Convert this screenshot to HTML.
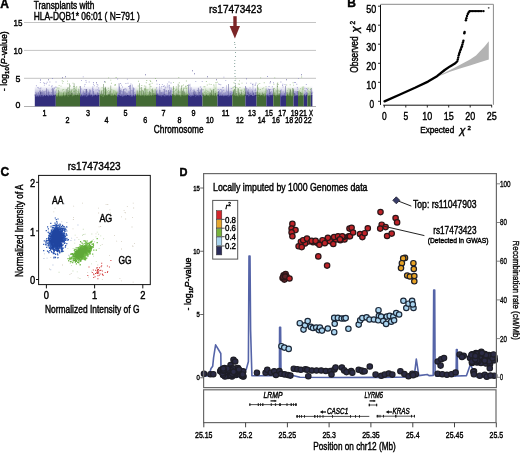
<!DOCTYPE html>
<html><head><meta charset="utf-8"><style>
html,body{margin:0;padding:0;background:#fff;}
svg{display:block;will-change:transform;}
text{font-family:"Liberation Sans", sans-serif;stroke:#000;stroke-width:0.42px;}
</style></head><body>
<svg width="520" height="453" viewBox="0 0 520 453" font-family='"Liberation Sans", sans-serif'>
<defs><linearGradient id="gb" x1="0" y1="1" x2="0" y2="0"><stop offset="0" stop-color="#322e7c" stop-opacity="0.55"/><stop offset="0.5" stop-color="#6a66b0" stop-opacity="0.3"/><stop offset="1" stop-color="#8a88c6" stop-opacity="0"/></linearGradient>
<linearGradient id="gg" x1="0" y1="1" x2="0" y2="0"><stop offset="0" stop-color="#436a35" stop-opacity="0.55"/><stop offset="0.5" stop-color="#6a9a58" stop-opacity="0.3"/><stop offset="1" stop-color="#8fb878" stop-opacity="0"/></linearGradient></defs>
<rect width="520" height="453" fill="#fff"/>
<g id="A">
<text x="0.3" y="8.3" font-size="12" text-anchor="start" font-weight="bold" font-style="normal" fill="#000">A</text>
<text x="33.8" y="9.0" font-size="10.2" text-anchor="start" font-weight="normal" font-style="normal" fill="#000" textLength="60.5" lengthAdjust="spacingAndGlyphs">Transplants with</text>
<text x="33.8" y="20.4" font-size="10.2" text-anchor="start" font-weight="normal" font-style="normal" fill="#000" textLength="106" lengthAdjust="spacingAndGlyphs">HLA-DQB1* 06:01 ( N=791 )</text>
<line x1="24" y1="22.5" x2="316" y2="22.5" stroke="#c4c4c4" stroke-width="1"/>
<line x1="24" y1="50.4" x2="316" y2="50.4" stroke="#c4c4c4" stroke-width="1"/>
<line x1="24" y1="78.3" x2="316" y2="78.3" stroke="#c4c4c4" stroke-width="1"/>
<line x1="24" y1="106.5" x2="316" y2="106.5" stroke="#b0b0b0" stroke-width="1"/>
<text x="17.9" y="26.0" font-size="9.6" text-anchor="middle" font-weight="normal" font-style="normal" fill="#000" textLength="8.9" lengthAdjust="spacingAndGlyphs">15</text>
<text x="17.9" y="54.0" font-size="9.6" text-anchor="middle" font-weight="normal" font-style="normal" fill="#000" textLength="8.9" lengthAdjust="spacingAndGlyphs">10</text>
<text x="18.0" y="81.5" font-size="9.6" text-anchor="middle" font-weight="normal" font-style="normal" fill="#000" textLength="4.9" lengthAdjust="spacingAndGlyphs">5</text>
<text x="18.0" y="108.2" font-size="9.6" text-anchor="middle" font-weight="normal" font-style="normal" fill="#000" textLength="4.9" lengthAdjust="spacingAndGlyphs">0</text>
<text transform="translate(6.8,61.2) rotate(-90)" font-size="8.8" text-anchor="middle" textLength="60" lengthAdjust="spacingAndGlyphs">- log<tspan font-size="6" dy="2">10</tspan><tspan dy="-2">(</tspan><tspan font-style="italic">P</tspan>-value)</text>
<rect x="34.8" y="95" width="21.00" height="11.3" fill="#322e7c"/>
<rect x="34.8" y="86" width="21.00" height="9.2" fill="url(#gb)"/>
<rect x="55.8" y="95" width="24.20" height="11.3" fill="#436a35"/>
<rect x="55.8" y="86" width="24.20" height="9.2" fill="url(#gg)"/>
<rect x="80" y="95" width="19.50" height="11.3" fill="#322e7c"/>
<rect x="80" y="86" width="19.50" height="9.2" fill="url(#gb)"/>
<rect x="99.5" y="95" width="17.50" height="11.3" fill="#436a35"/>
<rect x="99.5" y="86" width="17.50" height="9.2" fill="url(#gg)"/>
<rect x="117" y="95" width="19.00" height="11.3" fill="#322e7c"/>
<rect x="117" y="86" width="19.00" height="9.2" fill="url(#gb)"/>
<rect x="136" y="95" width="20.00" height="11.3" fill="#436a35"/>
<rect x="136" y="86" width="20.00" height="9.2" fill="url(#gg)"/>
<rect x="156" y="95" width="16.00" height="11.3" fill="#322e7c"/>
<rect x="156" y="86" width="16.00" height="9.2" fill="url(#gb)"/>
<rect x="172" y="95" width="16.00" height="11.3" fill="#436a35"/>
<rect x="172" y="86" width="16.00" height="9.2" fill="url(#gg)"/>
<rect x="188" y="95" width="14.50" height="11.3" fill="#322e7c"/>
<rect x="188" y="86" width="14.50" height="9.2" fill="url(#gb)"/>
<rect x="202.5" y="95" width="15.00" height="11.3" fill="#436a35"/>
<rect x="202.5" y="86" width="15.00" height="9.2" fill="url(#gg)"/>
<rect x="217.5" y="95" width="14.80" height="11.3" fill="#322e7c"/>
<rect x="217.5" y="86" width="14.80" height="9.2" fill="url(#gb)"/>
<rect x="232.3" y="95" width="13.10" height="11.3" fill="#436a35"/>
<rect x="232.3" y="86" width="13.10" height="9.2" fill="url(#gg)"/>
<rect x="245.4" y="95" width="11.20" height="11.3" fill="#322e7c"/>
<rect x="245.4" y="86" width="11.20" height="9.2" fill="url(#gb)"/>
<rect x="256.6" y="95" width="9.70" height="11.3" fill="#436a35"/>
<rect x="256.6" y="86" width="9.70" height="9.2" fill="url(#gg)"/>
<rect x="266.3" y="95" width="7.00" height="11.3" fill="#322e7c"/>
<rect x="266.3" y="86" width="7.00" height="9.2" fill="url(#gb)"/>
<rect x="273.3" y="95" width="6.90" height="11.3" fill="#436a35"/>
<rect x="273.3" y="86" width="6.90" height="9.2" fill="url(#gg)"/>
<rect x="280.2" y="95" width="5.80" height="11.3" fill="#322e7c"/>
<rect x="280.2" y="86" width="5.80" height="9.2" fill="url(#gb)"/>
<rect x="286" y="95" width="7.50" height="11.3" fill="#436a35"/>
<rect x="286" y="86" width="7.50" height="9.2" fill="url(#gg)"/>
<rect x="293.5" y="95" width="4.50" height="11.3" fill="#322e7c"/>
<rect x="293.5" y="86" width="4.50" height="9.2" fill="url(#gb)"/>
<rect x="298" y="95" width="5.80" height="11.3" fill="#436a35"/>
<rect x="298" y="86" width="5.80" height="9.2" fill="url(#gg)"/>
<rect x="303.8" y="95" width="3.50" height="11.3" fill="#322e7c"/>
<rect x="303.8" y="86" width="3.50" height="9.2" fill="url(#gb)"/>
<rect x="307.3" y="95" width="3.50" height="11.3" fill="#436a35"/>
<rect x="307.3" y="86" width="3.50" height="9.2" fill="url(#gg)"/>
<rect x="310.8" y="95" width="1.60" height="11.3" fill="#322e7c"/>
<rect x="310.8" y="86" width="1.60" height="9.2" fill="url(#gb)"/>
<path d="M34.80 94.0h0.6v1.8h-0.6zM36.33 93.4h0.6v2.4h-0.6zM37.93 92.4h0.6v3.4h-0.6zM39.29 94.8h0.6v1.0h-0.6zM39.77 89.5h0.6v6.3h-0.6zM40.42 91.8h0.6v4.0h-0.6zM41.05 95.1h0.6v0.7h-0.6zM41.48 91.4h0.6v4.4h-0.6zM41.96 92.3h0.6v3.5h-0.6zM43.72 90.9h0.6v4.9h-0.6zM44.60 94.9h0.6v0.9h-0.6zM45.36 94.7h0.6v1.1h-0.6zM46.33 88.2h0.6v7.6h-0.6zM48.20 91.6h0.6v4.2h-0.6zM49.71 94.2h0.6v1.6h-0.6zM50.42 95.2h0.6v0.6h-0.6zM50.82 94.9h0.6v0.9h-0.6zM51.58 94.8h0.6v1.0h-0.6zM52.11 88.3h0.6v7.5h-0.6zM53.47 88.5h0.6v7.3h-0.6zM54.90 94.7h0.6v1.1h-0.6zM55.34 94.4h0.6v1.4h-0.6zM80.00 85.9h0.6v9.9h-0.6zM81.15 94.2h0.6v1.6h-0.6zM83.61 91.2h0.6v4.6h-0.6zM84.45 93.0h0.6v2.8h-0.6zM84.75 93.0h0.6v2.8h-0.6zM85.23 94.8h0.6v1.0h-0.6zM85.72 89.1h0.6v6.7h-0.6zM86.47 89.1h0.6v6.7h-0.6zM87.80 93.7h0.6v2.1h-0.6zM88.70 92.3h0.6v3.5h-0.6zM89.26 94.2h0.6v1.6h-0.6zM89.62 89.2h0.6v6.6h-0.6zM90.48 94.3h0.6v1.5h-0.6zM91.09 94.6h0.6v1.2h-0.6zM93.27 91.0h0.6v4.8h-0.6zM94.69 94.2h0.6v1.6h-0.6zM95.55 94.8h0.6v1.0h-0.6zM97.42 92.5h0.6v3.3h-0.6zM97.82 94.7h0.6v1.1h-0.6zM98.67 93.0h0.6v2.8h-0.6zM117.88 94.6h0.6v1.2h-0.6zM118.75 83.3h0.6v12.5h-0.6zM119.08 86.4h0.6v9.4h-0.6zM120.32 90.1h0.6v5.7h-0.6zM121.27 94.5h0.6v1.3h-0.6zM121.88 93.7h0.6v2.1h-0.6zM122.98 89.1h0.6v6.7h-0.6zM124.67 91.6h0.6v4.2h-0.6zM126.60 93.2h0.6v2.6h-0.6zM127.18 94.9h0.6v0.9h-0.6zM127.74 95.0h0.6v0.8h-0.6zM129.83 85.1h0.6v10.7h-0.6zM133.16 87.6h0.6v8.2h-0.6zM134.80 94.5h0.6v1.3h-0.6zM135.41 94.0h0.6v1.8h-0.6zM156.00 90.4h0.6v5.4h-0.6zM156.89 93.8h0.6v2.0h-0.6zM157.36 93.6h0.6v2.2h-0.6zM158.42 94.3h0.6v1.5h-0.6zM159.59 89.8h0.6v6.0h-0.6zM160.81 91.9h0.6v3.9h-0.6zM162.75 93.2h0.6v2.6h-0.6zM163.89 88.8h0.6v7.0h-0.6zM164.41 94.3h0.6v1.5h-0.6zM165.29 94.3h0.6v1.5h-0.6zM168.23 90.1h0.6v5.7h-0.6zM169.03 91.9h0.6v3.9h-0.6zM169.79 94.9h0.6v0.9h-0.6zM170.23 90.2h0.6v5.6h-0.6zM188.00 84.4h0.6v11.4h-0.6zM189.34 93.6h0.6v2.2h-0.6zM190.17 95.2h0.6v0.6h-0.6zM193.41 91.5h0.6v4.3h-0.6zM194.06 90.5h0.6v5.3h-0.6zM194.56 94.3h0.6v1.5h-0.6zM195.14 94.7h0.6v1.1h-0.6zM195.53 91.5h0.6v4.3h-0.6zM196.26 94.6h0.6v1.2h-0.6zM197.94 87.8h0.6v8.0h-0.6zM199.31 91.9h0.6v3.9h-0.6zM199.81 89.4h0.6v6.4h-0.6zM200.49 94.8h0.6v1.0h-0.6zM201.21 88.3h0.6v7.5h-0.6zM201.76 94.7h0.6v1.1h-0.6zM217.50 93.7h0.6v2.1h-0.6zM218.07 90.9h0.6v4.9h-0.6zM218.61 92.5h0.6v3.3h-0.6zM219.70 93.3h0.6v2.5h-0.6zM222.20 94.5h0.6v1.3h-0.6zM223.05 95.3h0.6v0.5h-0.6zM226.72 94.9h0.6v0.9h-0.6zM228.09 84.0h0.6v11.8h-0.6zM230.36 92.9h0.6v2.9h-0.6zM245.40 86.0h0.6v9.8h-0.6zM245.88 88.0h0.6v7.8h-0.6zM247.15 90.4h0.6v5.4h-0.6zM247.85 92.2h0.6v3.6h-0.6zM248.61 89.3h0.6v6.5h-0.6zM249.08 93.8h0.6v2.0h-0.6zM249.42 94.2h0.6v1.6h-0.6zM250.14 93.3h0.6v2.5h-0.6zM250.63 93.2h0.6v2.6h-0.6zM251.03 95.0h0.6v0.8h-0.6zM251.93 90.6h0.6v5.2h-0.6zM253.02 93.0h0.6v2.8h-0.6zM253.44 92.6h0.6v3.2h-0.6zM255.15 91.7h0.6v4.1h-0.6zM255.60 94.8h0.6v1.0h-0.6zM267.32 93.9h0.6v1.9h-0.6zM268.95 93.6h0.6v2.2h-0.6zM269.35 89.0h0.6v6.8h-0.6zM270.17 92.1h0.6v3.7h-0.6zM271.32 95.1h0.6v0.7h-0.6zM272.37 93.8h0.6v2.0h-0.6zM280.20 90.3h0.6v5.5h-0.6zM284.41 93.2h0.6v2.6h-0.6zM285.02 85.7h0.6v10.1h-0.6zM293.50 90.8h0.6v5.0h-0.6zM293.91 94.3h0.6v1.5h-0.6zM294.23 92.9h0.6v2.9h-0.6zM294.87 93.8h0.6v2.0h-0.6zM297.03 91.0h0.6v4.8h-0.6zM304.26 94.0h0.6v1.8h-0.6zM305.88 94.5h0.6v1.3h-0.6zM306.66 92.0h0.6v3.8h-0.6zM306.98 93.3h0.6v2.5h-0.6zM310.80 88.3h0.6v7.5h-0.6zM311.30 92.8h0.6v3.0h-0.6z" fill="#322e7c" opacity="0.7"/>
<path d="M35.49 95.0h0.6v0.8h-0.6zM36.01 95.1h0.6v0.7h-0.6zM36.69 93.4h0.6v2.4h-0.6zM37.06 94.4h0.6v1.4h-0.6zM38.82 95.1h0.6v0.7h-0.6zM42.44 89.9h0.6v5.9h-0.6zM42.89 92.4h0.6v3.4h-0.6zM45.68 91.5h0.6v4.3h-0.6zM47.04 92.2h0.6v3.6h-0.6zM47.62 89.1h0.6v6.7h-0.6zM48.92 91.8h0.6v4.0h-0.6zM52.68 92.6h0.6v3.2h-0.6zM54.02 93.8h0.6v2.0h-0.6zM40.32 95.5h1.0v1.0h-1.0zM43.60 93.4h1.0v1.0h-1.0zM46.69 81.7h1.0v1.0h-1.0zM49.30 92.2h1.0v1.0h-1.0zM47.77 90.4h1.0v1.0h-1.0zM35.93 85.2h1.0v1.0h-1.0zM51.18 86.2h1.0v1.0h-1.0zM51.56 93.3h1.0v1.0h-1.0zM43.18 95.0h1.0v1.0h-1.0zM48.12 95.2h1.0v1.0h-1.0zM36.21 94.4h1.0v1.0h-1.0zM38.21 93.6h1.0v1.0h-1.0zM35.90 95.5h1.0v1.0h-1.0zM37.98 95.0h1.0v1.0h-1.0zM42.44 95.4h1.0v1.0h-1.0zM53.16 91.2h1.0v1.0h-1.0zM37.92 94.2h1.0v1.0h-1.0zM42.10 93.5h1.0v1.0h-1.0zM37.38 87.0h1.0v1.0h-1.0zM55.66 92.7h1.0v1.0h-1.0zM44.96 95.1h1.0v1.0h-1.0zM36.95 93.6h1.0v1.0h-1.0zM40.36 87.6h1.0v1.0h-1.0zM38.19 95.4h1.0v1.0h-1.0zM54.77 92.1h1.0v1.0h-1.0zM37.88 92.0h1.0v1.0h-1.0zM35.37 92.1h1.0v1.0h-1.0zM55.35 86.5h1.0v1.0h-1.0zM49.42 94.1h1.0v1.0h-1.0zM42.50 94.7h1.0v1.0h-1.0zM51.01 92.1h1.0v1.0h-1.0zM51.16 93.7h1.0v1.0h-1.0zM39.48 88.0h1.0v1.0h-1.0zM55.48 86.9h1.0v1.0h-1.0zM51.73 87.8h1.0v1.0h-1.0zM50.34 94.3h1.0v1.0h-1.0zM45.67 93.5h1.0v1.0h-1.0zM35.41 95.4h1.0v1.0h-1.0zM40.67 94.2h1.0v1.0h-1.0zM49.34 81.4h1.0v1.0h-1.0zM44.19 83.1h1.0v1.0h-1.0zM55.55 81.5h1.0v1.0h-1.0zM42.46 94.4h1.0v1.0h-1.0zM39.56 94.5h1.0v1.0h-1.0zM39.09 91.1h1.0v1.0h-1.0zM53.71 87.2h1.0v1.0h-1.0zM44.87 90.7h1.0v1.0h-1.0zM51.59 95.1h1.0v1.0h-1.0zM48.67 84.7h1.0v1.0h-1.0zM51.23 89.3h1.0v1.0h-1.0zM44.84 94.6h1.0v1.0h-1.0zM51.37 93.7h1.0v1.0h-1.0zM51.62 85.2h1.0v1.0h-1.0zM43.23 82.3h1.0v1.0h-1.0zM50.02 94.7h1.0v1.0h-1.0zM37.47 94.8h1.0v1.0h-1.0zM53.80 88.1h1.0v1.0h-1.0zM37.87 87.6h1.0v1.0h-1.0zM55.39 90.7h1.0v1.0h-1.0zM42.16 91.9h1.0v1.0h-1.0zM37.55 95.4h1.0v1.0h-1.0zM55.19 90.8h1.0v1.0h-1.0zM45.86 83.3h1.0v1.0h-1.0zM80.58 89.5h0.6v6.3h-0.6zM82.01 94.5h0.6v1.3h-0.6zM82.40 92.8h0.6v3.0h-0.6zM82.78 89.5h0.6v6.3h-0.6zM87.33 91.1h0.6v4.7h-0.6zM91.96 88.0h0.6v7.8h-0.6zM92.64 87.0h0.6v8.8h-0.6zM94.01 93.3h0.6v2.5h-0.6zM96.06 94.1h0.6v1.7h-0.6zM96.94 94.3h0.6v1.5h-0.6zM99.43 92.8h1.0v1.0h-1.0zM82.72 94.5h1.0v1.0h-1.0zM81.77 93.6h1.0v1.0h-1.0zM81.78 94.3h1.0v1.0h-1.0zM85.04 91.7h1.0v1.0h-1.0zM97.30 89.3h1.0v1.0h-1.0zM88.05 93.1h1.0v1.0h-1.0zM90.22 93.4h1.0v1.0h-1.0zM86.59 95.2h1.0v1.0h-1.0zM85.41 80.1h1.0v1.0h-1.0zM82.45 92.4h1.0v1.0h-1.0zM92.28 86.6h1.0v1.0h-1.0zM84.21 94.1h1.0v1.0h-1.0zM84.84 93.2h1.0v1.0h-1.0zM88.69 81.6h1.0v1.0h-1.0zM96.55 86.2h1.0v1.0h-1.0zM80.43 95.4h1.0v1.0h-1.0zM93.84 85.3h1.0v1.0h-1.0zM89.23 91.5h1.0v1.0h-1.0zM80.00 93.3h1.0v1.0h-1.0zM98.07 87.6h1.0v1.0h-1.0zM96.68 84.0h1.0v1.0h-1.0zM82.13 94.7h1.0v1.0h-1.0zM90.19 90.3h1.0v1.0h-1.0zM98.36 89.7h1.0v1.0h-1.0zM92.62 89.0h1.0v1.0h-1.0zM88.92 91.9h1.0v1.0h-1.0zM80.77 88.6h1.0v1.0h-1.0zM84.54 84.1h1.0v1.0h-1.0zM92.59 93.9h1.0v1.0h-1.0zM82.50 94.2h1.0v1.0h-1.0zM92.41 90.1h1.0v1.0h-1.0zM82.19 95.2h1.0v1.0h-1.0zM90.23 91.6h1.0v1.0h-1.0zM87.57 94.4h1.0v1.0h-1.0zM91.72 95.5h1.0v1.0h-1.0zM85.88 92.7h1.0v1.0h-1.0zM98.70 90.8h1.0v1.0h-1.0zM97.23 92.6h1.0v1.0h-1.0zM84.58 94.2h1.0v1.0h-1.0zM98.73 90.0h1.0v1.0h-1.0zM85.99 95.4h1.0v1.0h-1.0zM89.72 90.4h1.0v1.0h-1.0zM88.19 94.2h1.0v1.0h-1.0zM93.01 83.8h1.0v1.0h-1.0zM84.42 95.3h1.0v1.0h-1.0zM86.59 93.0h1.0v1.0h-1.0zM93.31 94.5h1.0v1.0h-1.0zM95.54 89.5h1.0v1.0h-1.0zM89.85 94.5h1.0v1.0h-1.0zM98.91 93.8h1.0v1.0h-1.0zM95.99 94.3h1.0v1.0h-1.0zM84.32 89.1h1.0v1.0h-1.0zM85.75 81.8h1.0v1.0h-1.0zM89.67 94.6h1.0v1.0h-1.0zM84.35 93.1h1.0v1.0h-1.0zM92.97 82.1h1.0v1.0h-1.0zM82.85 93.3h1.0v1.0h-1.0zM117.00 93.0h0.6v2.8h-0.6zM119.92 92.0h0.6v3.8h-0.6zM120.86 88.9h0.6v6.9h-0.6zM122.33 90.9h0.6v4.9h-0.6zM122.65 92.5h0.6v3.3h-0.6zM123.64 92.6h0.6v3.2h-0.6zM124.12 93.4h0.6v2.4h-0.6zM125.24 95.2h0.6v0.6h-0.6zM125.83 94.4h0.6v1.4h-0.6zM128.35 95.2h0.6v0.6h-0.6zM128.70 90.8h0.6v5.0h-0.6zM129.30 95.1h0.6v0.7h-0.6zM130.64 83.3h0.6v12.5h-0.6zM131.43 94.6h0.6v1.2h-0.6zM132.03 84.6h0.6v11.2h-0.6zM132.43 90.0h0.6v5.8h-0.6zM132.77 93.8h0.6v2.0h-0.6zM133.95 94.8h0.6v1.0h-0.6zM120.06 83.1h1.0v1.0h-1.0zM129.91 85.3h1.0v1.0h-1.0zM120.21 88.6h1.0v1.0h-1.0zM119.19 92.1h1.0v1.0h-1.0zM129.09 93.5h1.0v1.0h-1.0zM133.59 91.9h1.0v1.0h-1.0zM128.02 85.9h1.0v1.0h-1.0zM118.99 87.0h1.0v1.0h-1.0zM124.49 88.3h1.0v1.0h-1.0zM122.03 86.6h1.0v1.0h-1.0zM123.84 89.0h1.0v1.0h-1.0zM125.40 94.6h1.0v1.0h-1.0zM131.13 95.3h1.0v1.0h-1.0zM132.58 94.2h1.0v1.0h-1.0zM129.15 86.7h1.0v1.0h-1.0zM129.61 93.8h1.0v1.0h-1.0zM117.03 95.3h1.0v1.0h-1.0zM119.84 91.2h1.0v1.0h-1.0zM125.21 92.3h1.0v1.0h-1.0zM134.02 94.9h1.0v1.0h-1.0zM121.32 90.7h1.0v1.0h-1.0zM117.42 95.5h1.0v1.0h-1.0zM123.74 95.0h1.0v1.0h-1.0zM123.79 94.4h1.0v1.0h-1.0zM128.09 91.5h1.0v1.0h-1.0zM120.88 91.1h1.0v1.0h-1.0zM126.02 94.8h1.0v1.0h-1.0zM134.80 94.2h1.0v1.0h-1.0zM119.84 95.0h1.0v1.0h-1.0zM129.13 86.3h1.0v1.0h-1.0zM131.86 93.2h1.0v1.0h-1.0zM122.02 95.4h1.0v1.0h-1.0zM129.25 91.8h1.0v1.0h-1.0zM123.66 90.8h1.0v1.0h-1.0zM125.43 83.0h1.0v1.0h-1.0zM130.94 94.2h1.0v1.0h-1.0zM134.17 95.3h1.0v1.0h-1.0zM127.10 93.2h1.0v1.0h-1.0zM121.52 95.2h1.0v1.0h-1.0zM131.80 95.4h1.0v1.0h-1.0zM127.47 82.8h1.0v1.0h-1.0zM119.70 94.5h1.0v1.0h-1.0zM128.55 92.3h1.0v1.0h-1.0zM129.19 87.9h1.0v1.0h-1.0zM120.32 93.8h1.0v1.0h-1.0zM122.71 95.3h1.0v1.0h-1.0zM133.90 88.6h1.0v1.0h-1.0zM130.59 95.5h1.0v1.0h-1.0zM133.04 89.3h1.0v1.0h-1.0zM125.84 89.4h1.0v1.0h-1.0zM125.60 94.3h1.0v1.0h-1.0zM119.00 94.3h1.0v1.0h-1.0zM117.74 93.7h1.0v1.0h-1.0zM131.24 90.2h1.0v1.0h-1.0zM133.06 89.9h1.0v1.0h-1.0zM122.05 91.9h1.0v1.0h-1.0zM125.29 88.5h1.0v1.0h-1.0zM157.91 93.4h0.6v2.4h-0.6zM159.16 85.7h0.6v10.1h-0.6zM160.02 94.8h0.6v1.0h-0.6zM161.44 94.4h0.6v1.4h-0.6zM161.96 91.8h0.6v4.0h-0.6zM163.37 94.8h0.6v1.0h-0.6zM164.82 95.3h0.6v0.5h-0.6zM165.88 93.4h0.6v2.4h-0.6zM166.58 93.8h0.6v2.0h-0.6zM167.39 95.1h0.6v0.7h-0.6zM169.34 85.0h0.6v10.8h-0.6zM170.62 87.3h0.6v8.5h-0.6zM171.02 87.8h0.6v8.0h-0.6zM166.70 85.4h1.0v1.0h-1.0zM168.61 87.3h1.0v1.0h-1.0zM159.16 90.2h1.0v1.0h-1.0zM164.49 89.4h1.0v1.0h-1.0zM163.02 85.9h1.0v1.0h-1.0zM164.88 94.1h1.0v1.0h-1.0zM159.75 94.8h1.0v1.0h-1.0zM163.89 95.2h1.0v1.0h-1.0zM163.47 94.8h1.0v1.0h-1.0zM163.86 92.4h1.0v1.0h-1.0zM164.63 86.6h1.0v1.0h-1.0zM156.11 87.2h1.0v1.0h-1.0zM163.49 91.8h1.0v1.0h-1.0zM166.64 87.2h1.0v1.0h-1.0zM162.00 93.1h1.0v1.0h-1.0zM171.37 95.1h1.0v1.0h-1.0zM166.19 91.0h1.0v1.0h-1.0zM156.46 91.3h1.0v1.0h-1.0zM166.92 83.4h1.0v1.0h-1.0zM161.29 86.1h1.0v1.0h-1.0zM163.75 85.2h1.0v1.0h-1.0zM156.54 89.8h1.0v1.0h-1.0zM166.00 93.6h1.0v1.0h-1.0zM169.79 93.4h1.0v1.0h-1.0zM163.59 92.1h1.0v1.0h-1.0zM168.33 94.4h1.0v1.0h-1.0zM162.96 93.0h1.0v1.0h-1.0zM164.86 87.6h1.0v1.0h-1.0zM160.69 87.6h1.0v1.0h-1.0zM162.46 92.3h1.0v1.0h-1.0zM160.35 92.3h1.0v1.0h-1.0zM171.60 90.7h1.0v1.0h-1.0zM168.67 93.7h1.0v1.0h-1.0zM161.07 93.9h1.0v1.0h-1.0zM165.38 91.0h1.0v1.0h-1.0zM168.55 95.3h1.0v1.0h-1.0zM167.56 85.7h1.0v1.0h-1.0zM164.73 95.3h1.0v1.0h-1.0zM160.81 95.5h1.0v1.0h-1.0zM159.04 84.1h1.0v1.0h-1.0zM165.74 90.7h1.0v1.0h-1.0zM168.62 84.7h1.0v1.0h-1.0zM165.79 91.2h1.0v1.0h-1.0zM166.03 90.1h1.0v1.0h-1.0zM165.54 90.4h1.0v1.0h-1.0zM159.40 90.6h1.0v1.0h-1.0zM163.33 89.0h1.0v1.0h-1.0zM157.62 94.6h1.0v1.0h-1.0zM188.64 91.8h0.6v4.0h-0.6zM189.74 83.8h0.6v12.0h-0.6zM190.68 87.4h0.6v8.4h-0.6zM191.48 95.1h0.6v0.7h-0.6zM192.21 91.8h0.6v4.0h-0.6zM192.54 94.8h0.6v1.0h-0.6zM197.12 94.5h0.6v1.3h-0.6zM198.51 95.0h0.6v0.8h-0.6zM200.83 91.0h0.6v4.8h-0.6zM192.85 94.7h1.0v1.0h-1.0zM195.12 93.8h1.0v1.0h-1.0zM201.10 95.0h1.0v1.0h-1.0zM202.19 95.2h1.0v1.0h-1.0zM200.98 90.5h1.0v1.0h-1.0zM191.06 92.6h1.0v1.0h-1.0zM192.15 94.2h1.0v1.0h-1.0zM190.92 93.5h1.0v1.0h-1.0zM202.37 89.4h1.0v1.0h-1.0zM189.41 94.0h1.0v1.0h-1.0zM200.99 95.2h1.0v1.0h-1.0zM198.53 93.9h1.0v1.0h-1.0zM202.19 95.4h1.0v1.0h-1.0zM199.70 93.6h1.0v1.0h-1.0zM190.03 95.5h1.0v1.0h-1.0zM200.07 92.1h1.0v1.0h-1.0zM190.69 92.9h1.0v1.0h-1.0zM201.22 94.4h1.0v1.0h-1.0zM196.28 94.8h1.0v1.0h-1.0zM190.61 88.9h1.0v1.0h-1.0zM198.32 94.5h1.0v1.0h-1.0zM189.15 95.1h1.0v1.0h-1.0zM196.82 92.4h1.0v1.0h-1.0zM191.97 94.5h1.0v1.0h-1.0zM196.88 90.0h1.0v1.0h-1.0zM199.77 91.6h1.0v1.0h-1.0zM190.93 95.2h1.0v1.0h-1.0zM198.62 93.1h1.0v1.0h-1.0zM198.46 95.2h1.0v1.0h-1.0zM199.75 93.7h1.0v1.0h-1.0zM200.21 86.5h1.0v1.0h-1.0zM195.15 95.4h1.0v1.0h-1.0zM201.20 92.6h1.0v1.0h-1.0zM200.64 94.1h1.0v1.0h-1.0zM190.70 87.5h1.0v1.0h-1.0zM193.32 94.7h1.0v1.0h-1.0zM193.38 91.4h1.0v1.0h-1.0zM188.07 92.2h1.0v1.0h-1.0zM194.46 92.2h1.0v1.0h-1.0zM189.75 89.9h1.0v1.0h-1.0zM199.84 86.5h1.0v1.0h-1.0zM192.65 89.9h1.0v1.0h-1.0zM193.53 89.2h1.0v1.0h-1.0zM219.10 90.0h0.6v5.8h-0.6zM220.18 94.8h0.6v1.0h-0.6zM220.83 95.0h0.6v0.8h-0.6zM221.33 89.0h0.6v6.8h-0.6zM223.69 93.0h0.6v2.8h-0.6zM224.45 92.7h0.6v3.1h-0.6zM225.06 92.8h0.6v3.0h-0.6zM225.60 93.8h0.6v2.0h-0.6zM226.11 85.3h0.6v10.5h-0.6zM227.26 92.5h0.6v3.3h-0.6zM228.65 92.0h0.6v3.8h-0.6zM229.16 92.7h0.6v3.1h-0.6zM229.56 94.0h0.6v1.8h-0.6zM231.20 91.3h0.6v4.5h-0.6zM230.64 93.0h1.0v1.0h-1.0zM219.81 94.0h1.0v1.0h-1.0zM225.07 92.3h1.0v1.0h-1.0zM220.28 94.6h1.0v1.0h-1.0zM226.83 91.3h1.0v1.0h-1.0zM222.73 87.1h1.0v1.0h-1.0zM218.13 93.1h1.0v1.0h-1.0zM229.16 93.9h1.0v1.0h-1.0zM227.72 95.5h1.0v1.0h-1.0zM222.01 87.2h1.0v1.0h-1.0zM226.18 90.5h1.0v1.0h-1.0zM220.41 92.4h1.0v1.0h-1.0zM225.69 94.1h1.0v1.0h-1.0zM227.07 92.1h1.0v1.0h-1.0zM232.26 91.7h1.0v1.0h-1.0zM223.58 94.9h1.0v1.0h-1.0zM219.82 89.1h1.0v1.0h-1.0zM219.08 95.0h1.0v1.0h-1.0zM220.02 92.2h1.0v1.0h-1.0zM229.68 91.2h1.0v1.0h-1.0zM229.44 95.2h1.0v1.0h-1.0zM217.68 88.9h1.0v1.0h-1.0zM222.28 89.8h1.0v1.0h-1.0zM222.74 94.7h1.0v1.0h-1.0zM221.45 95.0h1.0v1.0h-1.0zM230.88 91.6h1.0v1.0h-1.0zM222.66 92.8h1.0v1.0h-1.0zM223.21 95.2h1.0v1.0h-1.0zM230.68 91.6h1.0v1.0h-1.0zM231.70 92.9h1.0v1.0h-1.0zM226.68 94.2h1.0v1.0h-1.0zM218.15 83.5h1.0v1.0h-1.0zM230.15 93.8h1.0v1.0h-1.0zM230.80 87.9h1.0v1.0h-1.0zM221.99 91.3h1.0v1.0h-1.0zM231.71 92.4h1.0v1.0h-1.0zM231.56 94.2h1.0v1.0h-1.0zM223.27 89.8h1.0v1.0h-1.0zM220.78 93.8h1.0v1.0h-1.0zM230.45 92.5h1.0v1.0h-1.0zM229.23 94.2h1.0v1.0h-1.0zM220.07 93.5h1.0v1.0h-1.0zM220.26 84.3h1.0v1.0h-1.0zM225.81 95.0h1.0v1.0h-1.0zM246.52 93.9h0.6v1.9h-0.6zM252.66 83.3h0.6v12.5h-0.6zM254.29 91.8h0.6v4.0h-0.6zM254.80 93.9h1.0v1.0h-1.0zM247.48 90.9h1.0v1.0h-1.0zM254.87 83.7h1.0v1.0h-1.0zM247.29 88.6h1.0v1.0h-1.0zM254.70 89.4h1.0v1.0h-1.0zM249.06 94.6h1.0v1.0h-1.0zM254.64 93.8h1.0v1.0h-1.0zM249.53 91.9h1.0v1.0h-1.0zM249.54 87.5h1.0v1.0h-1.0zM248.08 95.3h1.0v1.0h-1.0zM251.75 91.0h1.0v1.0h-1.0zM254.58 90.0h1.0v1.0h-1.0zM255.54 82.5h1.0v1.0h-1.0zM250.94 92.4h1.0v1.0h-1.0zM247.16 93.9h1.0v1.0h-1.0zM251.91 95.1h1.0v1.0h-1.0zM253.11 94.7h1.0v1.0h-1.0zM250.36 82.7h1.0v1.0h-1.0zM245.85 92.9h1.0v1.0h-1.0zM247.54 89.7h1.0v1.0h-1.0zM245.43 87.2h1.0v1.0h-1.0zM254.98 88.5h1.0v1.0h-1.0zM250.16 94.0h1.0v1.0h-1.0zM252.81 92.2h1.0v1.0h-1.0zM250.12 93.6h1.0v1.0h-1.0zM250.31 90.6h1.0v1.0h-1.0zM254.65 85.0h1.0v1.0h-1.0zM247.24 93.9h1.0v1.0h-1.0zM250.36 91.8h1.0v1.0h-1.0zM249.30 94.5h1.0v1.0h-1.0zM246.35 93.7h1.0v1.0h-1.0zM250.56 89.3h1.0v1.0h-1.0zM255.09 89.7h1.0v1.0h-1.0zM266.30 88.2h0.6v7.6h-0.6zM267.01 89.7h0.6v6.1h-0.6zM267.92 88.3h0.6v7.5h-0.6zM268.24 94.6h0.6v1.2h-0.6zM270.67 94.5h0.6v1.3h-0.6zM271.84 93.2h0.6v2.6h-0.6zM268.64 95.4h1.0v1.0h-1.0zM269.52 82.4h1.0v1.0h-1.0zM267.32 90.5h1.0v1.0h-1.0zM268.21 94.1h1.0v1.0h-1.0zM269.80 94.1h1.0v1.0h-1.0zM270.28 92.1h1.0v1.0h-1.0zM273.00 82.3h1.0v1.0h-1.0zM270.22 88.9h1.0v1.0h-1.0zM272.41 88.8h1.0v1.0h-1.0zM270.73 91.0h1.0v1.0h-1.0zM268.84 94.0h1.0v1.0h-1.0zM271.87 86.2h1.0v1.0h-1.0zM272.87 90.4h1.0v1.0h-1.0zM268.43 89.0h1.0v1.0h-1.0zM271.48 92.3h1.0v1.0h-1.0zM270.75 93.6h1.0v1.0h-1.0zM270.16 93.2h1.0v1.0h-1.0zM266.72 93.6h1.0v1.0h-1.0zM268.56 85.9h1.0v1.0h-1.0zM268.87 94.2h1.0v1.0h-1.0zM267.94 93.6h1.0v1.0h-1.0zM280.99 93.4h0.6v2.4h-0.6zM281.64 92.5h0.6v3.3h-0.6zM282.30 93.9h0.6v1.9h-0.6zM282.76 91.1h0.6v4.7h-0.6zM283.52 94.0h0.6v1.8h-0.6zM285.33 93.1h0.6v2.7h-0.6zM282.30 83.8h1.0v1.0h-1.0zM284.59 95.1h1.0v1.0h-1.0zM280.36 94.9h1.0v1.0h-1.0zM280.55 92.4h1.0v1.0h-1.0zM283.42 94.6h1.0v1.0h-1.0zM285.65 93.5h1.0v1.0h-1.0zM281.07 94.6h1.0v1.0h-1.0zM284.48 84.1h1.0v1.0h-1.0zM281.14 95.4h1.0v1.0h-1.0zM284.71 94.2h1.0v1.0h-1.0zM285.90 92.4h1.0v1.0h-1.0zM283.89 93.6h1.0v1.0h-1.0zM284.84 92.7h1.0v1.0h-1.0zM282.08 85.0h1.0v1.0h-1.0zM280.83 89.6h1.0v1.0h-1.0zM280.58 90.8h1.0v1.0h-1.0zM282.53 86.5h1.0v1.0h-1.0zM295.58 91.7h0.6v4.1h-0.6zM296.21 91.3h0.6v4.5h-0.6zM297.52 93.5h0.6v2.3h-0.6zM295.23 93.1h1.0v1.0h-1.0zM294.14 82.0h1.0v1.0h-1.0zM296.24 83.8h1.0v1.0h-1.0zM294.65 91.3h1.0v1.0h-1.0zM295.20 94.3h1.0v1.0h-1.0zM294.39 94.9h1.0v1.0h-1.0zM297.29 88.6h1.0v1.0h-1.0zM297.59 95.3h1.0v1.0h-1.0zM296.62 93.7h1.0v1.0h-1.0zM296.41 91.9h1.0v1.0h-1.0zM294.92 82.0h1.0v1.0h-1.0zM296.86 86.9h1.0v1.0h-1.0zM295.80 91.5h1.0v1.0h-1.0zM303.80 94.6h0.6v1.2h-0.6zM305.07 95.0h0.6v0.8h-0.6zM304.83 93.1h1.0v1.0h-1.0zM306.07 88.0h1.0v1.0h-1.0zM305.03 93.3h1.0v1.0h-1.0zM305.83 83.9h1.0v1.0h-1.0zM304.47 87.7h1.0v1.0h-1.0zM305.10 90.6h1.0v1.0h-1.0zM304.95 95.2h1.0v1.0h-1.0zM306.45 93.4h1.0v1.0h-1.0zM305.64 92.4h1.0v1.0h-1.0zM306.95 89.1h1.0v1.0h-1.0zM311.24 94.1h1.0v1.0h-1.0zM311.30 94.2h1.0v1.0h-1.0zM312.17 91.8h1.0v1.0h-1.0zM311.62 93.0h1.0v1.0h-1.0z" fill="#8a88c6" opacity="0.7"/>
<path d="M55.80 94.8h0.6v1.0h-0.6zM56.31 93.2h0.6v2.6h-0.6zM57.15 93.4h0.6v2.4h-0.6zM57.76 92.7h0.6v3.1h-0.6zM58.95 90.9h0.6v4.9h-0.6zM59.45 92.8h0.6v3.0h-0.6zM60.22 94.9h0.6v0.9h-0.6zM60.67 94.2h0.6v1.6h-0.6zM61.27 92.5h0.6v3.3h-0.6zM62.12 93.3h0.6v2.5h-0.6zM62.72 92.9h0.6v2.9h-0.6zM64.16 91.2h0.6v4.6h-0.6zM65.03 94.3h0.6v1.5h-0.6zM66.71 95.0h0.6v0.8h-0.6zM71.78 94.0h0.6v1.8h-0.6zM72.40 93.9h0.6v1.9h-0.6zM73.01 95.1h0.6v0.7h-0.6zM74.24 95.2h0.6v0.6h-0.6zM75.94 86.7h0.6v9.1h-0.6zM78.24 91.9h0.6v3.9h-0.6zM78.23 94.1h1.0v1.0h-1.0zM58.93 92.1h1.0v1.0h-1.0zM61.57 95.0h1.0v1.0h-1.0zM59.71 95.3h1.0v1.0h-1.0zM60.68 93.8h1.0v1.0h-1.0zM63.18 89.1h1.0v1.0h-1.0zM62.82 92.4h1.0v1.0h-1.0zM60.11 93.6h1.0v1.0h-1.0zM56.24 94.2h1.0v1.0h-1.0zM56.17 89.6h1.0v1.0h-1.0zM69.14 94.6h1.0v1.0h-1.0zM67.29 83.2h1.0v1.0h-1.0zM58.37 87.8h1.0v1.0h-1.0zM66.26 92.4h1.0v1.0h-1.0zM76.00 93.3h1.0v1.0h-1.0zM68.06 90.3h1.0v1.0h-1.0zM79.58 93.6h1.0v1.0h-1.0zM75.94 90.0h1.0v1.0h-1.0zM71.19 93.2h1.0v1.0h-1.0zM64.21 95.2h1.0v1.0h-1.0zM58.94 95.2h1.0v1.0h-1.0zM73.73 94.2h1.0v1.0h-1.0zM59.75 95.1h1.0v1.0h-1.0zM76.16 86.3h1.0v1.0h-1.0zM72.03 94.0h1.0v1.0h-1.0zM61.66 93.9h1.0v1.0h-1.0zM66.92 94.7h1.0v1.0h-1.0zM66.59 94.1h1.0v1.0h-1.0zM79.08 86.4h1.0v1.0h-1.0zM61.72 80.3h1.0v1.0h-1.0zM63.29 93.5h1.0v1.0h-1.0zM55.83 93.3h1.0v1.0h-1.0zM67.29 92.4h1.0v1.0h-1.0zM60.66 92.3h1.0v1.0h-1.0zM55.92 94.1h1.0v1.0h-1.0zM57.97 93.2h1.0v1.0h-1.0zM56.81 95.4h1.0v1.0h-1.0zM63.16 94.3h1.0v1.0h-1.0zM69.97 92.1h1.0v1.0h-1.0zM73.96 90.7h1.0v1.0h-1.0zM73.13 86.0h1.0v1.0h-1.0zM65.23 93.7h1.0v1.0h-1.0zM79.63 94.8h1.0v1.0h-1.0zM73.32 90.9h1.0v1.0h-1.0zM56.86 87.4h1.0v1.0h-1.0zM77.39 91.1h1.0v1.0h-1.0zM73.56 88.0h1.0v1.0h-1.0zM59.17 92.2h1.0v1.0h-1.0zM68.01 87.4h1.0v1.0h-1.0zM75.27 87.6h1.0v1.0h-1.0zM69.93 85.4h1.0v1.0h-1.0zM72.33 90.2h1.0v1.0h-1.0zM61.36 95.4h1.0v1.0h-1.0zM59.02 93.5h1.0v1.0h-1.0zM58.34 87.4h1.0v1.0h-1.0zM69.32 91.1h1.0v1.0h-1.0zM70.95 90.4h1.0v1.0h-1.0zM67.64 95.5h1.0v1.0h-1.0zM75.10 89.3h1.0v1.0h-1.0zM67.97 92.1h1.0v1.0h-1.0zM71.76 95.2h1.0v1.0h-1.0zM73.63 94.2h1.0v1.0h-1.0zM57.60 94.1h1.0v1.0h-1.0zM73.45 94.5h1.0v1.0h-1.0zM73.70 86.0h1.0v1.0h-1.0zM65.06 92.6h1.0v1.0h-1.0zM72.35 88.9h1.0v1.0h-1.0zM70.73 90.9h1.0v1.0h-1.0zM57.67 94.8h1.0v1.0h-1.0zM61.95 89.4h1.0v1.0h-1.0zM63.17 91.7h1.0v1.0h-1.0zM56.10 95.2h1.0v1.0h-1.0zM99.50 90.8h0.6v5.0h-0.6zM102.89 93.8h0.6v2.0h-0.6zM103.77 89.4h0.6v6.4h-0.6zM105.92 89.6h0.6v6.2h-0.6zM107.10 94.3h0.6v1.5h-0.6zM109.84 90.5h0.6v5.3h-0.6zM110.97 93.1h0.6v2.7h-0.6zM112.40 93.0h0.6v2.8h-0.6zM112.81 89.8h0.6v6.0h-0.6zM113.60 90.3h0.6v5.5h-0.6zM114.96 84.1h1.0v1.0h-1.0zM100.97 95.0h1.0v1.0h-1.0zM108.22 89.9h1.0v1.0h-1.0zM107.32 94.3h1.0v1.0h-1.0zM106.79 91.1h1.0v1.0h-1.0zM111.30 89.3h1.0v1.0h-1.0zM114.32 90.6h1.0v1.0h-1.0zM101.62 87.2h1.0v1.0h-1.0zM104.64 91.7h1.0v1.0h-1.0zM106.03 89.5h1.0v1.0h-1.0zM102.99 94.2h1.0v1.0h-1.0zM103.79 94.8h1.0v1.0h-1.0zM114.97 91.6h1.0v1.0h-1.0zM105.21 93.2h1.0v1.0h-1.0zM116.87 92.3h1.0v1.0h-1.0zM103.55 88.1h1.0v1.0h-1.0zM110.93 82.8h1.0v1.0h-1.0zM107.81 87.8h1.0v1.0h-1.0zM114.21 84.4h1.0v1.0h-1.0zM100.21 93.9h1.0v1.0h-1.0zM101.59 94.6h1.0v1.0h-1.0zM116.53 91.6h1.0v1.0h-1.0zM115.78 93.4h1.0v1.0h-1.0zM114.66 92.8h1.0v1.0h-1.0zM104.05 88.7h1.0v1.0h-1.0zM116.05 95.0h1.0v1.0h-1.0zM109.93 91.1h1.0v1.0h-1.0zM103.31 93.4h1.0v1.0h-1.0zM101.97 94.5h1.0v1.0h-1.0zM103.96 91.4h1.0v1.0h-1.0zM110.90 94.5h1.0v1.0h-1.0zM99.70 93.7h1.0v1.0h-1.0zM111.37 94.6h1.0v1.0h-1.0zM104.96 94.5h1.0v1.0h-1.0zM113.42 91.9h1.0v1.0h-1.0zM100.61 95.0h1.0v1.0h-1.0zM106.42 91.9h1.0v1.0h-1.0zM110.69 95.1h1.0v1.0h-1.0zM102.36 90.2h1.0v1.0h-1.0zM106.67 94.0h1.0v1.0h-1.0zM104.88 81.7h1.0v1.0h-1.0zM104.97 91.7h1.0v1.0h-1.0zM105.75 93.1h1.0v1.0h-1.0zM114.62 84.9h1.0v1.0h-1.0zM102.95 89.6h1.0v1.0h-1.0zM103.06 95.5h1.0v1.0h-1.0zM115.28 93.0h1.0v1.0h-1.0zM113.86 93.2h1.0v1.0h-1.0zM114.95 92.7h1.0v1.0h-1.0zM102.34 95.4h1.0v1.0h-1.0zM109.15 90.9h1.0v1.0h-1.0zM115.42 95.1h1.0v1.0h-1.0zM136.00 94.4h0.6v1.4h-0.6zM138.54 91.9h0.6v3.9h-0.6zM140.04 91.2h0.6v4.6h-0.6zM140.60 90.9h0.6v4.9h-0.6zM141.09 94.5h0.6v1.3h-0.6zM141.75 94.9h0.6v0.9h-0.6zM142.58 91.3h0.6v4.5h-0.6zM143.96 93.8h0.6v2.0h-0.6zM145.57 86.9h0.6v8.9h-0.6zM146.25 88.9h0.6v6.9h-0.6zM146.93 89.4h0.6v6.4h-0.6zM149.68 84.0h0.6v11.8h-0.6zM151.04 93.4h0.6v2.4h-0.6zM151.54 91.2h0.6v4.6h-0.6zM153.19 90.4h0.6v5.4h-0.6zM145.97 95.0h1.0v1.0h-1.0zM148.73 95.1h1.0v1.0h-1.0zM151.76 90.1h1.0v1.0h-1.0zM151.74 91.1h1.0v1.0h-1.0zM143.11 93.2h1.0v1.0h-1.0zM143.89 85.6h1.0v1.0h-1.0zM137.72 85.6h1.0v1.0h-1.0zM136.50 94.5h1.0v1.0h-1.0zM141.26 85.1h1.0v1.0h-1.0zM146.02 93.4h1.0v1.0h-1.0zM153.68 94.3h1.0v1.0h-1.0zM145.22 92.1h1.0v1.0h-1.0zM151.09 89.2h1.0v1.0h-1.0zM148.93 93.6h1.0v1.0h-1.0zM142.53 94.7h1.0v1.0h-1.0zM152.86 90.6h1.0v1.0h-1.0zM150.84 94.7h1.0v1.0h-1.0zM144.78 88.8h1.0v1.0h-1.0zM147.58 94.9h1.0v1.0h-1.0zM145.24 85.8h1.0v1.0h-1.0zM140.76 94.5h1.0v1.0h-1.0zM142.03 90.0h1.0v1.0h-1.0zM152.87 94.7h1.0v1.0h-1.0zM139.12 94.2h1.0v1.0h-1.0zM142.53 92.2h1.0v1.0h-1.0zM139.22 93.7h1.0v1.0h-1.0zM139.79 87.8h1.0v1.0h-1.0zM138.04 80.7h1.0v1.0h-1.0zM138.03 93.3h1.0v1.0h-1.0zM155.68 88.4h1.0v1.0h-1.0zM150.67 92.9h1.0v1.0h-1.0zM139.92 90.9h1.0v1.0h-1.0zM138.14 94.5h1.0v1.0h-1.0zM143.77 95.3h1.0v1.0h-1.0zM143.98 88.5h1.0v1.0h-1.0zM149.87 92.4h1.0v1.0h-1.0zM148.65 92.7h1.0v1.0h-1.0zM138.84 91.3h1.0v1.0h-1.0zM144.09 89.4h1.0v1.0h-1.0zM154.16 93.0h1.0v1.0h-1.0zM147.48 89.3h1.0v1.0h-1.0zM144.42 94.3h1.0v1.0h-1.0zM150.44 86.0h1.0v1.0h-1.0zM151.48 90.1h1.0v1.0h-1.0zM153.05 90.4h1.0v1.0h-1.0zM148.83 92.8h1.0v1.0h-1.0zM142.26 91.0h1.0v1.0h-1.0zM137.96 93.1h1.0v1.0h-1.0zM151.65 89.9h1.0v1.0h-1.0zM148.59 94.2h1.0v1.0h-1.0zM144.47 92.8h1.0v1.0h-1.0zM148.43 93.1h1.0v1.0h-1.0zM149.50 83.5h1.0v1.0h-1.0zM139.66 90.7h1.0v1.0h-1.0zM151.56 93.3h1.0v1.0h-1.0zM145.80 82.3h1.0v1.0h-1.0zM146.87 94.7h1.0v1.0h-1.0zM151.64 82.8h1.0v1.0h-1.0zM146.38 95.0h1.0v1.0h-1.0zM147.49 92.0h1.0v1.0h-1.0zM174.66 92.4h0.6v3.4h-0.6zM175.89 85.9h0.6v9.9h-0.6zM177.47 95.3h0.6v0.5h-0.6zM179.40 94.4h0.6v1.4h-0.6zM179.81 95.1h0.6v0.7h-0.6zM180.54 88.7h0.6v7.1h-0.6zM180.89 91.9h0.6v3.9h-0.6zM182.65 91.7h0.6v4.1h-0.6zM183.00 94.0h0.6v1.8h-0.6zM183.73 93.7h0.6v2.1h-0.6zM185.08 93.8h0.6v2.0h-0.6zM186.52 85.4h0.6v10.4h-0.6zM183.25 87.6h1.0v1.0h-1.0zM177.31 91.3h1.0v1.0h-1.0zM187.64 87.5h1.0v1.0h-1.0zM181.62 93.8h1.0v1.0h-1.0zM178.86 85.6h1.0v1.0h-1.0zM178.03 90.3h1.0v1.0h-1.0zM181.63 85.3h1.0v1.0h-1.0zM184.92 94.0h1.0v1.0h-1.0zM172.03 94.1h1.0v1.0h-1.0zM178.76 91.5h1.0v1.0h-1.0zM185.06 85.7h1.0v1.0h-1.0zM172.68 87.4h1.0v1.0h-1.0zM184.99 86.4h1.0v1.0h-1.0zM181.15 94.1h1.0v1.0h-1.0zM185.62 88.1h1.0v1.0h-1.0zM182.95 84.5h1.0v1.0h-1.0zM177.55 95.1h1.0v1.0h-1.0zM180.86 88.3h1.0v1.0h-1.0zM175.21 89.3h1.0v1.0h-1.0zM186.91 94.3h1.0v1.0h-1.0zM181.71 90.4h1.0v1.0h-1.0zM179.45 94.5h1.0v1.0h-1.0zM176.08 89.2h1.0v1.0h-1.0zM184.67 92.7h1.0v1.0h-1.0zM173.40 88.1h1.0v1.0h-1.0zM184.35 94.3h1.0v1.0h-1.0zM181.27 85.3h1.0v1.0h-1.0zM186.16 92.2h1.0v1.0h-1.0zM179.63 91.5h1.0v1.0h-1.0zM175.03 94.5h1.0v1.0h-1.0zM174.89 90.1h1.0v1.0h-1.0zM177.81 91.8h1.0v1.0h-1.0zM178.44 92.2h1.0v1.0h-1.0zM174.38 95.3h1.0v1.0h-1.0zM187.95 93.4h1.0v1.0h-1.0zM173.70 91.0h1.0v1.0h-1.0zM184.60 94.7h1.0v1.0h-1.0zM181.56 93.6h1.0v1.0h-1.0zM180.31 95.4h1.0v1.0h-1.0zM172.54 88.9h1.0v1.0h-1.0zM179.78 91.7h1.0v1.0h-1.0zM176.19 88.7h1.0v1.0h-1.0zM178.82 82.3h1.0v1.0h-1.0zM184.28 87.8h1.0v1.0h-1.0zM187.42 94.2h1.0v1.0h-1.0zM172.61 94.5h1.0v1.0h-1.0zM174.89 95.1h1.0v1.0h-1.0zM172.82 91.8h1.0v1.0h-1.0zM203.74 94.3h0.6v1.5h-0.6zM204.06 95.0h0.6v0.8h-0.6zM204.48 95.2h0.6v0.6h-0.6zM205.12 92.8h0.6v3.0h-0.6zM205.48 88.4h0.6v7.4h-0.6zM206.96 94.8h0.6v1.0h-0.6zM207.77 94.8h0.6v1.0h-0.6zM208.52 94.7h0.6v1.1h-0.6zM212.38 89.8h0.6v6.0h-0.6zM213.78 84.5h0.6v11.3h-0.6zM214.23 93.4h0.6v2.4h-0.6zM215.70 83.4h0.6v12.4h-0.6zM216.56 91.9h0.6v3.9h-0.6zM215.77 95.3h1.0v1.0h-1.0zM212.12 94.1h1.0v1.0h-1.0zM212.68 94.1h1.0v1.0h-1.0zM210.63 83.9h1.0v1.0h-1.0zM211.82 94.2h1.0v1.0h-1.0zM210.30 92.9h1.0v1.0h-1.0zM216.76 94.0h1.0v1.0h-1.0zM207.08 90.8h1.0v1.0h-1.0zM204.31 91.4h1.0v1.0h-1.0zM216.84 92.3h1.0v1.0h-1.0zM206.53 92.7h1.0v1.0h-1.0zM210.51 94.8h1.0v1.0h-1.0zM204.36 94.9h1.0v1.0h-1.0zM206.90 93.2h1.0v1.0h-1.0zM206.82 94.2h1.0v1.0h-1.0zM203.82 91.9h1.0v1.0h-1.0zM215.10 91.3h1.0v1.0h-1.0zM211.05 90.8h1.0v1.0h-1.0zM205.52 89.9h1.0v1.0h-1.0zM209.41 91.9h1.0v1.0h-1.0zM211.69 92.7h1.0v1.0h-1.0zM207.16 94.3h1.0v1.0h-1.0zM205.82 92.3h1.0v1.0h-1.0zM208.25 91.5h1.0v1.0h-1.0zM202.68 93.5h1.0v1.0h-1.0zM215.43 94.3h1.0v1.0h-1.0zM210.85 92.5h1.0v1.0h-1.0zM206.77 84.4h1.0v1.0h-1.0zM214.08 94.7h1.0v1.0h-1.0zM203.50 86.3h1.0v1.0h-1.0zM209.10 95.2h1.0v1.0h-1.0zM208.32 92.9h1.0v1.0h-1.0zM213.53 95.0h1.0v1.0h-1.0zM205.88 81.1h1.0v1.0h-1.0zM213.58 94.7h1.0v1.0h-1.0zM207.56 93.5h1.0v1.0h-1.0zM212.63 91.2h1.0v1.0h-1.0zM215.25 87.8h1.0v1.0h-1.0zM210.27 89.5h1.0v1.0h-1.0zM213.65 89.1h1.0v1.0h-1.0zM209.63 88.6h1.0v1.0h-1.0zM213.13 84.4h1.0v1.0h-1.0zM204.41 86.3h1.0v1.0h-1.0zM202.56 89.0h1.0v1.0h-1.0zM211.29 92.4h1.0v1.0h-1.0zM234.46 89.1h0.6v6.7h-0.6zM234.85 93.8h0.6v2.0h-0.6zM236.82 94.8h0.6v1.0h-0.6zM237.28 87.5h0.6v8.3h-0.6zM237.80 94.3h0.6v1.5h-0.6zM239.60 93.6h0.6v2.2h-0.6zM240.59 94.6h0.6v1.2h-0.6zM241.72 93.8h0.6v2.0h-0.6zM242.63 94.8h0.6v1.0h-0.6zM243.10 93.5h0.6v2.3h-0.6zM243.87 88.0h0.6v7.8h-0.6zM240.93 90.1h1.0v1.0h-1.0zM235.55 87.1h1.0v1.0h-1.0zM236.91 91.0h1.0v1.0h-1.0zM234.68 94.9h1.0v1.0h-1.0zM244.26 89.5h1.0v1.0h-1.0zM241.63 95.3h1.0v1.0h-1.0zM232.82 94.7h1.0v1.0h-1.0zM234.89 93.9h1.0v1.0h-1.0zM237.29 95.3h1.0v1.0h-1.0zM236.37 90.9h1.0v1.0h-1.0zM234.65 87.3h1.0v1.0h-1.0zM239.77 89.8h1.0v1.0h-1.0zM235.64 92.9h1.0v1.0h-1.0zM241.26 93.6h1.0v1.0h-1.0zM232.31 87.4h1.0v1.0h-1.0zM242.47 94.0h1.0v1.0h-1.0zM232.86 86.8h1.0v1.0h-1.0zM240.26 95.3h1.0v1.0h-1.0zM235.50 95.0h1.0v1.0h-1.0zM242.67 94.4h1.0v1.0h-1.0zM244.28 89.3h1.0v1.0h-1.0zM233.43 90.2h1.0v1.0h-1.0zM237.46 89.3h1.0v1.0h-1.0zM243.16 94.0h1.0v1.0h-1.0zM233.48 82.3h1.0v1.0h-1.0zM237.85 83.5h1.0v1.0h-1.0zM241.36 89.5h1.0v1.0h-1.0zM243.17 91.0h1.0v1.0h-1.0zM238.23 95.2h1.0v1.0h-1.0zM241.45 93.0h1.0v1.0h-1.0zM239.01 83.7h1.0v1.0h-1.0zM233.97 89.0h1.0v1.0h-1.0zM232.87 90.0h1.0v1.0h-1.0zM242.86 94.1h1.0v1.0h-1.0zM239.46 87.1h1.0v1.0h-1.0zM239.43 94.2h1.0v1.0h-1.0zM233.08 93.5h1.0v1.0h-1.0zM237.69 94.5h1.0v1.0h-1.0zM236.37 94.8h1.0v1.0h-1.0zM260.17 93.7h0.6v2.1h-0.6zM260.72 92.7h0.6v3.1h-0.6zM264.16 94.4h0.6v1.4h-0.6zM264.52 92.9h0.6v2.9h-0.6zM265.44 88.5h0.6v7.3h-0.6zM263.94 95.0h1.0v1.0h-1.0zM266.21 89.7h1.0v1.0h-1.0zM257.59 87.5h1.0v1.0h-1.0zM260.40 94.7h1.0v1.0h-1.0zM265.91 91.8h1.0v1.0h-1.0zM264.12 94.8h1.0v1.0h-1.0zM264.13 95.2h1.0v1.0h-1.0zM258.90 93.4h1.0v1.0h-1.0zM256.75 91.4h1.0v1.0h-1.0zM258.67 93.9h1.0v1.0h-1.0zM263.46 93.0h1.0v1.0h-1.0zM265.22 91.1h1.0v1.0h-1.0zM265.06 91.8h1.0v1.0h-1.0zM265.50 86.3h1.0v1.0h-1.0zM258.23 89.3h1.0v1.0h-1.0zM259.91 89.0h1.0v1.0h-1.0zM263.20 87.6h1.0v1.0h-1.0zM257.79 93.4h1.0v1.0h-1.0zM263.75 82.2h1.0v1.0h-1.0zM263.60 95.3h1.0v1.0h-1.0zM262.46 95.0h1.0v1.0h-1.0zM261.92 88.2h1.0v1.0h-1.0zM257.70 83.8h1.0v1.0h-1.0zM263.15 94.2h1.0v1.0h-1.0zM258.47 92.8h1.0v1.0h-1.0zM264.73 91.6h1.0v1.0h-1.0zM257.70 95.4h1.0v1.0h-1.0zM257.67 88.2h1.0v1.0h-1.0zM258.40 91.9h1.0v1.0h-1.0zM274.75 90.9h0.6v4.9h-0.6zM275.62 93.9h0.6v1.9h-0.6zM277.68 93.4h0.6v2.4h-0.6zM278.02 93.0h0.6v2.8h-0.6zM278.88 94.2h0.6v1.6h-0.6zM279.26 90.8h1.0v1.0h-1.0zM274.66 89.5h1.0v1.0h-1.0zM279.95 91.4h1.0v1.0h-1.0zM273.85 88.0h1.0v1.0h-1.0zM279.34 93.6h1.0v1.0h-1.0zM274.24 94.6h1.0v1.0h-1.0zM277.00 86.1h1.0v1.0h-1.0zM277.72 84.0h1.0v1.0h-1.0zM274.76 93.7h1.0v1.0h-1.0zM278.47 90.8h1.0v1.0h-1.0zM276.10 90.4h1.0v1.0h-1.0zM275.63 95.2h1.0v1.0h-1.0zM276.16 95.3h1.0v1.0h-1.0zM277.62 93.7h1.0v1.0h-1.0zM276.71 91.4h1.0v1.0h-1.0zM275.07 92.7h1.0v1.0h-1.0zM273.39 83.8h1.0v1.0h-1.0zM277.19 82.4h1.0v1.0h-1.0zM277.54 89.7h1.0v1.0h-1.0zM275.57 95.1h1.0v1.0h-1.0zM286.00 93.5h0.6v2.3h-0.6zM287.76 94.5h0.6v1.3h-0.6zM288.44 94.1h0.6v1.7h-0.6zM290.94 93.0h0.6v2.8h-0.6zM291.34 91.4h0.6v4.4h-0.6zM291.91 92.4h0.6v3.4h-0.6zM293.46 93.9h1.0v1.0h-1.0zM286.18 95.0h1.0v1.0h-1.0zM293.31 95.5h1.0v1.0h-1.0zM292.84 94.8h1.0v1.0h-1.0zM291.52 95.0h1.0v1.0h-1.0zM287.27 90.3h1.0v1.0h-1.0zM286.68 93.6h1.0v1.0h-1.0zM292.89 89.8h1.0v1.0h-1.0zM292.61 82.3h1.0v1.0h-1.0zM287.76 88.4h1.0v1.0h-1.0zM291.17 95.3h1.0v1.0h-1.0zM289.79 94.3h1.0v1.0h-1.0zM289.23 95.0h1.0v1.0h-1.0zM286.15 84.5h1.0v1.0h-1.0zM292.59 94.9h1.0v1.0h-1.0zM289.66 94.8h1.0v1.0h-1.0zM289.21 94.6h1.0v1.0h-1.0zM291.14 94.8h1.0v1.0h-1.0zM291.54 92.4h1.0v1.0h-1.0zM286.84 93.5h1.0v1.0h-1.0zM289.72 84.2h1.0v1.0h-1.0zM288.62 94.4h1.0v1.0h-1.0zM298.00 91.9h0.6v3.9h-0.6zM299.14 92.1h0.6v3.7h-0.6zM299.64 91.9h0.6v3.9h-0.6zM300.92 93.1h0.6v2.7h-0.6zM301.91 86.4h0.6v9.4h-0.6zM302.53 92.8h0.6v3.0h-0.6zM302.97 94.7h0.6v1.1h-0.6zM301.72 87.6h1.0v1.0h-1.0zM303.19 86.4h1.0v1.0h-1.0zM298.25 93.3h1.0v1.0h-1.0zM302.83 87.8h1.0v1.0h-1.0zM298.71 94.7h1.0v1.0h-1.0zM299.46 95.0h1.0v1.0h-1.0zM300.07 88.2h1.0v1.0h-1.0zM301.02 92.8h1.0v1.0h-1.0zM298.51 93.2h1.0v1.0h-1.0zM303.78 90.2h1.0v1.0h-1.0zM300.61 92.6h1.0v1.0h-1.0zM302.63 89.1h1.0v1.0h-1.0zM298.87 90.4h1.0v1.0h-1.0zM300.13 92.2h1.0v1.0h-1.0zM299.38 93.4h1.0v1.0h-1.0zM299.97 93.3h1.0v1.0h-1.0zM298.10 94.5h1.0v1.0h-1.0zM307.30 95.2h0.6v0.6h-0.6zM307.88 93.2h0.6v2.6h-0.6zM308.43 93.1h0.6v2.7h-0.6zM308.99 93.0h0.6v2.8h-0.6zM309.79 91.5h0.6v4.3h-0.6zM310.33 95.2h0.6v0.6h-0.6zM309.99 88.9h1.0v1.0h-1.0zM307.71 94.4h1.0v1.0h-1.0zM307.57 87.8h1.0v1.0h-1.0zM307.66 95.1h1.0v1.0h-1.0zM309.94 91.8h1.0v1.0h-1.0zM307.49 90.4h1.0v1.0h-1.0zM309.79 92.5h1.0v1.0h-1.0zM307.49 90.2h1.0v1.0h-1.0zM308.76 91.6h1.0v1.0h-1.0zM310.79 87.9h1.0v1.0h-1.0z" fill="#8fb878" opacity="0.7"/>
<path d="M58.07 93.3h0.6v2.5h-0.6zM58.37 89.8h0.6v6.0h-0.6zM63.30 92.7h0.6v3.1h-0.6zM65.89 89.1h0.6v6.7h-0.6zM66.26 93.3h0.6v2.5h-0.6zM67.48 87.6h0.6v8.2h-0.6zM68.21 91.6h0.6v4.2h-0.6zM69.04 83.6h0.6v12.2h-0.6zM69.91 93.6h0.6v2.2h-0.6zM70.80 89.2h0.6v6.6h-0.6zM71.36 92.8h0.6v3.0h-0.6zM72.09 92.6h0.6v3.2h-0.6zM73.78 83.3h0.6v12.5h-0.6zM74.71 94.8h0.6v1.0h-0.6zM75.55 89.5h0.6v6.3h-0.6zM76.66 95.0h0.6v0.8h-0.6zM77.37 93.4h0.6v2.4h-0.6zM78.59 88.7h0.6v7.1h-0.6zM79.41 93.2h0.6v2.6h-0.6zM100.36 93.9h0.6v1.9h-0.6zM101.22 90.6h0.6v5.2h-0.6zM101.92 93.7h0.6v2.1h-0.6zM102.42 94.7h0.6v1.1h-0.6zM103.26 84.0h0.6v11.8h-0.6zM104.33 95.1h0.6v0.7h-0.6zM104.86 86.7h0.6v9.1h-0.6zM105.38 87.6h0.6v8.2h-0.6zM106.25 95.2h0.6v0.6h-0.6zM107.94 93.9h0.6v1.9h-0.6zM108.81 92.0h0.6v3.8h-0.6zM109.54 94.0h0.6v1.8h-0.6zM110.53 85.5h0.6v10.3h-0.6zM111.84 93.6h0.6v2.2h-0.6zM114.10 94.0h0.6v1.8h-0.6zM114.87 95.0h0.6v0.8h-0.6zM115.62 94.3h0.6v1.5h-0.6zM115.94 92.6h0.6v3.2h-0.6zM136.87 90.6h0.6v5.2h-0.6zM137.69 93.9h0.6v1.9h-0.6zM139.24 83.3h0.6v12.5h-0.6zM141.44 87.1h0.6v8.7h-0.6zM142.26 94.8h0.6v1.0h-0.6zM143.30 90.8h0.6v5.0h-0.6zM144.75 87.8h0.6v8.0h-0.6zM145.93 94.5h0.6v1.3h-0.6zM147.41 94.9h0.6v0.9h-0.6zM148.16 94.5h0.6v1.3h-0.6zM148.72 95.2h0.6v0.6h-0.6zM149.19 91.0h0.6v4.8h-0.6zM150.49 92.0h0.6v3.8h-0.6zM151.97 88.6h0.6v7.2h-0.6zM152.77 94.7h0.6v1.1h-0.6zM153.49 93.0h0.6v2.8h-0.6zM154.27 94.6h0.6v1.2h-0.6zM154.78 89.2h0.6v6.6h-0.6zM155.64 94.2h0.6v1.6h-0.6zM172.00 94.3h0.6v1.5h-0.6zM172.55 94.0h0.6v1.8h-0.6zM173.24 86.1h0.6v9.7h-0.6zM173.88 95.2h0.6v0.6h-0.6zM175.23 95.3h0.6v0.5h-0.6zM176.47 93.5h0.6v2.3h-0.6zM177.16 94.5h0.6v1.3h-0.6zM177.84 83.8h0.6v12.0h-0.6zM178.66 94.8h0.6v1.0h-0.6zM181.46 86.1h0.6v9.7h-0.6zM182.34 91.0h0.6v4.8h-0.6zM183.40 88.6h0.6v7.2h-0.6zM184.30 91.5h0.6v4.3h-0.6zM185.75 93.5h0.6v2.3h-0.6zM187.17 94.1h0.6v1.7h-0.6zM202.50 92.7h0.6v3.1h-0.6zM203.38 94.4h0.6v1.4h-0.6zM205.81 94.9h0.6v0.9h-0.6zM206.41 94.2h0.6v1.6h-0.6zM209.38 93.6h0.6v2.2h-0.6zM210.19 92.8h0.6v3.0h-0.6zM211.05 90.2h0.6v5.6h-0.6zM211.50 93.9h0.6v1.9h-0.6zM213.17 88.9h0.6v6.9h-0.6zM214.75 92.7h0.6v3.1h-0.6zM215.31 92.9h0.6v2.9h-0.6zM232.30 93.8h0.6v2.0h-0.6zM232.71 94.2h0.6v1.6h-0.6zM233.04 91.6h0.6v4.2h-0.6zM233.43 91.1h0.6v4.7h-0.6zM233.89 89.2h0.6v6.6h-0.6zM235.38 84.5h0.6v11.3h-0.6zM236.25 92.9h0.6v2.9h-0.6zM238.23 88.3h0.6v7.5h-0.6zM238.83 92.6h0.6v3.2h-0.6zM240.24 94.0h0.6v1.8h-0.6zM241.08 91.6h0.6v4.2h-0.6zM242.20 95.1h0.6v0.7h-0.6zM244.25 94.2h0.6v1.6h-0.6zM244.95 91.6h0.6v4.2h-0.6zM256.60 92.1h0.6v3.7h-0.6zM257.24 84.9h0.6v10.9h-0.6zM257.93 94.1h0.6v1.7h-0.6zM258.76 95.2h0.6v0.6h-0.6zM259.47 93.3h0.6v2.5h-0.6zM261.25 94.9h0.6v0.9h-0.6zM262.09 92.6h0.6v3.2h-0.6zM262.90 94.3h0.6v1.5h-0.6zM263.52 94.3h0.6v1.5h-0.6zM264.87 93.5h0.6v2.3h-0.6zM273.30 88.3h0.6v7.5h-0.6zM273.87 92.4h0.6v3.4h-0.6zM274.27 95.1h0.6v0.7h-0.6zM276.27 95.0h0.6v0.8h-0.6zM276.91 83.3h0.6v12.5h-0.6zM278.49 94.3h0.6v1.5h-0.6zM279.32 93.6h0.6v2.2h-0.6zM286.87 91.9h0.6v3.9h-0.6zM287.32 94.3h0.6v1.5h-0.6zM288.87 92.4h0.6v3.4h-0.6zM289.69 88.4h0.6v7.4h-0.6zM290.44 89.4h0.6v6.4h-0.6zM292.33 88.0h0.6v7.8h-0.6zM293.10 88.5h0.6v7.3h-0.6zM298.53 91.1h0.6v4.7h-0.6zM300.07 92.1h0.6v3.7h-0.6zM301.53 93.1h0.6v2.7h-0.6z" fill="#436a35" opacity="0.7"/>
<path d="M43.9 84.7h0.8v0.8h-0.8zM52.1 78.1h0.8v0.8h-0.8zM40.1 78.9h0.8v0.8h-0.8zM39.9 81.9h0.8v0.8h-0.8zM40.2 80.2h0.8v0.8h-0.8zM84.2 85.7h0.8v0.8h-0.8zM82.8 76.5h0.8v0.8h-0.8zM81.2 79.9h0.8v0.8h-0.8zM97.5 84.8h0.8v0.8h-0.8zM126.9 78.7h0.8v0.8h-0.8zM129.2 85.7h0.8v0.8h-0.8zM121.1 84.8h0.8v0.8h-0.8zM117.3 78.6h0.8v0.8h-0.8zM156.6 83.7h0.8v0.8h-0.8zM170.6 82.6h0.8v0.8h-0.8zM161.9 84.2h0.8v0.8h-0.8zM168.6 81.6h0.8v0.8h-0.8zM188.9 84.7h0.8v0.8h-0.8zM201.8 80.9h0.8v0.8h-0.8zM195.4 81.3h0.8v0.8h-0.8zM225.4 79.9h0.8v0.8h-0.8zM223.5 76.7h0.8v0.8h-0.8zM219.3 84.3h0.8v0.8h-0.8zM252.3 84.1h0.8v0.8h-0.8zM246.1 82.8h0.8v0.8h-0.8zM267.2 76.1h0.8v0.8h-0.8zM280.5 81.6h0.8v0.8h-0.8zM298.0 78.3h0.8v0.8h-0.8z" fill="#8a88c6"/>
<path d="M62.3 82.7h0.8v0.8h-0.8zM72.6 82.8h0.8v0.8h-0.8zM62.8 81.2h0.8v0.8h-0.8zM67.0 80.7h0.8v0.8h-0.8zM58.7 84.9h0.8v0.8h-0.8zM60.6 85.8h0.8v0.8h-0.8zM110.4 79.7h0.8v0.8h-0.8zM108.3 77.5h0.8v0.8h-0.8zM104.5 81.2h0.8v0.8h-0.8zM115.7 77.1h0.8v0.8h-0.8zM150.3 81.1h0.8v0.8h-0.8zM148.8 84.3h0.8v0.8h-0.8zM146.4 80.1h0.8v0.8h-0.8zM155.0 78.1h0.8v0.8h-0.8zM149.7 79.9h0.8v0.8h-0.8zM185.9 80.6h0.8v0.8h-0.8zM187.2 85.1h0.8v0.8h-0.8zM173.0 82.0h0.8v0.8h-0.8zM178.4 77.2h0.8v0.8h-0.8zM216.9 81.7h0.8v0.8h-0.8zM208.8 83.8h0.8v0.8h-0.8zM215.6 82.1h0.8v0.8h-0.8zM241.6 82.7h0.8v0.8h-0.8zM235.4 78.4h0.8v0.8h-0.8zM239.1 80.5h0.8v0.8h-0.8zM259.4 82.9h0.8v0.8h-0.8zM260.3 77.4h0.8v0.8h-0.8zM274.4 77.4h0.8v0.8h-0.8zM293.3 84.8h0.8v0.8h-0.8zM301.3 76.6h0.8v0.8h-0.8z" fill="#8fb878"/>
<rect x="234.1" y="42" width="1" height="1" fill="#8aa6a0"/>
<rect x="234.4" y="44" width="1" height="1" fill="#8aa6a0"/>
<rect x="235.0" y="47" width="1" height="1" fill="#8aa6a0"/>
<rect x="235.0" y="52" width="1" height="1" fill="#8aa6a0"/>
<rect x="235.0" y="56" width="1" height="1" fill="#8aa6a0"/>
<rect x="234.3" y="60" width="1" height="1" fill="#8aa6a0"/>
<rect x="234.2" y="63" width="1" height="1" fill="#8aa6a0"/>
<rect x="234.1" y="66" width="1" height="1" fill="#8aa6a0"/>
<rect x="234.6" y="70" width="1" height="1" fill="#8aa6a0"/>
<rect x="234.4" y="73" width="1" height="1" fill="#8aa6a0"/>
<rect x="234.6" y="76" width="1" height="1" fill="#8aa6a0"/>
<rect x="234.6" y="80" width="1" height="1" fill="#8aa6a0"/>
<rect x="234.7" y="83" width="1" height="1" fill="#8aa6a0"/>
<rect x="234.4" y="86" width="1" height="1" fill="#8aa6a0"/>
<rect x="48" y="79" width="0.9" height="1.4" fill="#9a98c0"/>
<rect x="62" y="77" width="0.9" height="1.4" fill="#9a98c0"/>
<rect x="65" y="76" width="0.9" height="1.4" fill="#9a98c0"/>
<rect x="96" y="82" width="0.9" height="1.4" fill="#9a98c0"/>
<rect x="104" y="81" width="0.9" height="1.4" fill="#9a98c0"/>
<rect x="145" y="74" width="0.9" height="1.4" fill="#9a98c0"/>
<rect x="156" y="80" width="0.9" height="1.4" fill="#9a98c0"/>
<rect x="192" y="70" width="0.9" height="1.4" fill="#9a98c0"/>
<rect x="194" y="73" width="0.9" height="1.4" fill="#9a98c0"/>
<rect x="207" y="76" width="0.9" height="1.4" fill="#9a98c0"/>
<rect x="216" y="79" width="0.9" height="1.4" fill="#9a98c0"/>
<rect x="270" y="81" width="0.9" height="1.4" fill="#9a98c0"/>
<rect x="286" y="79" width="0.9" height="1.4" fill="#9a98c0"/>
<rect x="301" y="74" width="0.9" height="1.4" fill="#9a98c0"/>
<rect x="246" y="78" width="0.9" height="1.4" fill="#9a98c0"/>
<text x="44.6" y="115.9" font-size="8.2" text-anchor="middle" font-weight="normal" font-style="normal" fill="#000" textLength="4.0" lengthAdjust="spacingAndGlyphs">1</text>
<text x="88.1" y="115.9" font-size="8.2" text-anchor="middle" font-weight="normal" font-style="normal" fill="#000" textLength="4.0" lengthAdjust="spacingAndGlyphs">3</text>
<text x="125.6" y="115.9" font-size="8.2" text-anchor="middle" font-weight="normal" font-style="normal" fill="#000" textLength="4.0" lengthAdjust="spacingAndGlyphs">5</text>
<text x="163.6" y="115.9" font-size="8.2" text-anchor="middle" font-weight="normal" font-style="normal" fill="#000" textLength="4.0" lengthAdjust="spacingAndGlyphs">7</text>
<text x="193.6" y="115.9" font-size="8.2" text-anchor="middle" font-weight="normal" font-style="normal" fill="#000" textLength="4.0" lengthAdjust="spacingAndGlyphs">9</text>
<text x="225.6" y="115.9" font-size="8.2" text-anchor="middle" font-weight="normal" font-style="normal" fill="#000" textLength="7.8" lengthAdjust="spacingAndGlyphs">11</text>
<text x="252" y="115.9" font-size="8.2" text-anchor="middle" font-weight="normal" font-style="normal" fill="#000" textLength="7.8" lengthAdjust="spacingAndGlyphs">13</text>
<text x="268.9" y="115.9" font-size="8.2" text-anchor="middle" font-weight="normal" font-style="normal" fill="#000" textLength="7.8" lengthAdjust="spacingAndGlyphs">15</text>
<text x="282.2" y="115.9" font-size="8.2" text-anchor="middle" font-weight="normal" font-style="normal" fill="#000" textLength="7.8" lengthAdjust="spacingAndGlyphs">17</text>
<text x="294.6" y="115.9" font-size="8.2" text-anchor="middle" font-weight="normal" font-style="normal" fill="#000" textLength="7.8" lengthAdjust="spacingAndGlyphs">19</text>
<text x="303.1" y="115.9" font-size="8.2" text-anchor="middle" font-weight="normal" font-style="normal" fill="#000" textLength="7.8" lengthAdjust="spacingAndGlyphs">21</text>
<text x="310.9" y="115.9" font-size="8.2" text-anchor="middle" font-weight="normal" font-style="normal" fill="#000" textLength="4.0" lengthAdjust="spacingAndGlyphs">X</text>
<text x="67.6" y="123.2" font-size="8.2" text-anchor="middle" font-weight="normal" font-style="normal" fill="#000" textLength="4.0" lengthAdjust="spacingAndGlyphs">2</text>
<text x="106.6" y="123.2" font-size="8.2" text-anchor="middle" font-weight="normal" font-style="normal" fill="#000" textLength="4.0" lengthAdjust="spacingAndGlyphs">4</text>
<text x="145.2" y="123.2" font-size="8.2" text-anchor="middle" font-weight="normal" font-style="normal" fill="#000" textLength="4.0" lengthAdjust="spacingAndGlyphs">6</text>
<text x="179.4" y="123.2" font-size="8.2" text-anchor="middle" font-weight="normal" font-style="normal" fill="#000" textLength="4.0" lengthAdjust="spacingAndGlyphs">8</text>
<text x="209.8" y="123.2" font-size="8.2" text-anchor="middle" font-weight="normal" font-style="normal" fill="#000" textLength="7.8" lengthAdjust="spacingAndGlyphs">10</text>
<text x="239.8" y="123.2" font-size="8.2" text-anchor="middle" font-weight="normal" font-style="normal" fill="#000" textLength="7.8" lengthAdjust="spacingAndGlyphs">12</text>
<text x="261.6" y="123.2" font-size="8.2" text-anchor="middle" font-weight="normal" font-style="normal" fill="#000" textLength="7.8" lengthAdjust="spacingAndGlyphs">14</text>
<text x="276" y="123.2" font-size="8.2" text-anchor="middle" font-weight="normal" font-style="normal" fill="#000" textLength="7.8" lengthAdjust="spacingAndGlyphs">16</text>
<text x="289.2" y="123.2" font-size="8.2" text-anchor="middle" font-weight="normal" font-style="normal" fill="#000" textLength="7.8" lengthAdjust="spacingAndGlyphs">18</text>
<text x="298.4" y="123.2" font-size="8.2" text-anchor="middle" font-weight="normal" font-style="normal" fill="#000" textLength="7.8" lengthAdjust="spacingAndGlyphs">20</text>
<text x="307.7" y="123.2" font-size="8.2" text-anchor="middle" font-weight="normal" font-style="normal" fill="#000" textLength="7.8" lengthAdjust="spacingAndGlyphs">22</text>
<text x="153.8" y="133.2" font-size="10.5" text-anchor="start" font-weight="normal" font-style="normal" fill="#000" textLength="49.7" lengthAdjust="spacingAndGlyphs">Chromosome</text>
<text x="209" y="13.3" font-size="11.5" text-anchor="start" font-weight="normal" font-style="normal" fill="#000" textLength="53" lengthAdjust="spacingAndGlyphs">rs17473423</text>
<rect x="233.3" y="16.2" width="3.4" height="10.5" fill="#7b2527"/>
<polygon points="229.6,26 240,26 234.9,38.6" fill="#7b2527"/>
</g>
<g id="B">
<text x="347.3" y="6.9" font-size="12" text-anchor="start" font-weight="bold" font-style="normal" fill="#000">B</text>
<path d="M380.5 4.3H493.4V104.8" fill="none" stroke="#8a8a8a" stroke-width="1"/>
<path d="M380.5 4.8V104.9M383.2 105.2H492" fill="none" stroke="#111" stroke-width="1"/>
<line x1="378" y1="101.3" x2="380.5" y2="101.3" stroke="#111" stroke-width="0.9"/>
<text x="371.9" y="107.75" font-size="11.3" text-anchor="middle" font-weight="normal" font-style="normal" fill="#000" textLength="4.6" lengthAdjust="spacingAndGlyphs">0</text>
<line x1="378" y1="82.3" x2="380.5" y2="82.3" stroke="#111" stroke-width="0.9"/>
<text x="371.2" y="88.73" font-size="11.3" text-anchor="middle" font-weight="normal" font-style="normal" fill="#000" textLength="10" lengthAdjust="spacingAndGlyphs">10</text>
<line x1="378" y1="63.3" x2="380.5" y2="63.3" stroke="#111" stroke-width="0.9"/>
<text x="371.2" y="69.71" font-size="11.3" text-anchor="middle" font-weight="normal" font-style="normal" fill="#000" textLength="10" lengthAdjust="spacingAndGlyphs">20</text>
<line x1="378" y1="44.2" x2="380.5" y2="44.2" stroke="#111" stroke-width="0.9"/>
<text x="371.2" y="50.690000000000005" font-size="11.3" text-anchor="middle" font-weight="normal" font-style="normal" fill="#000" textLength="10" lengthAdjust="spacingAndGlyphs">30</text>
<line x1="378" y1="25.2" x2="380.5" y2="25.2" stroke="#111" stroke-width="0.9"/>
<text x="371.2" y="31.669999999999998" font-size="11.3" text-anchor="middle" font-weight="normal" font-style="normal" fill="#000" textLength="10" lengthAdjust="spacingAndGlyphs">40</text>
<line x1="378" y1="6.2" x2="380.5" y2="6.2" stroke="#111" stroke-width="0.9"/>
<text x="371.2" y="12.650000000000002" font-size="11.3" text-anchor="middle" font-weight="normal" font-style="normal" fill="#000" textLength="10" lengthAdjust="spacingAndGlyphs">50</text>
<line x1="384.3" y1="105.2" x2="384.3" y2="107.5" stroke="#111" stroke-width="0.9"/>
<text x="384.3" y="119.8" font-size="11.2" text-anchor="middle" font-weight="normal" font-style="normal" fill="#000" textLength="4.7" lengthAdjust="spacingAndGlyphs">0</text>
<line x1="405.8" y1="105.2" x2="405.8" y2="107.5" stroke="#111" stroke-width="0.9"/>
<text x="405.78000000000003" y="119.8" font-size="11.2" text-anchor="middle" font-weight="normal" font-style="normal" fill="#000" textLength="4.7" lengthAdjust="spacingAndGlyphs">5</text>
<line x1="427.3" y1="105.2" x2="427.3" y2="107.5" stroke="#111" stroke-width="0.9"/>
<text x="427.26" y="119.8" font-size="11.2" text-anchor="middle" font-weight="normal" font-style="normal" fill="#000" textLength="10" lengthAdjust="spacingAndGlyphs">10</text>
<line x1="448.7" y1="105.2" x2="448.7" y2="107.5" stroke="#111" stroke-width="0.9"/>
<text x="448.74" y="119.8" font-size="11.2" text-anchor="middle" font-weight="normal" font-style="normal" fill="#000" textLength="10" lengthAdjust="spacingAndGlyphs">15</text>
<line x1="470.2" y1="105.2" x2="470.2" y2="107.5" stroke="#111" stroke-width="0.9"/>
<text x="470.22" y="119.8" font-size="11.2" text-anchor="middle" font-weight="normal" font-style="normal" fill="#000" textLength="10" lengthAdjust="spacingAndGlyphs">20</text>
<line x1="491.7" y1="105.2" x2="491.7" y2="107.5" stroke="#111" stroke-width="0.9"/>
<text x="491.70000000000005" y="119.8" font-size="11.2" text-anchor="middle" font-weight="normal" font-style="normal" fill="#000" textLength="10" lengthAdjust="spacingAndGlyphs">25</text>
<text x="420.2" y="133" font-size="9.7" text-anchor="start" font-weight="normal" font-style="normal" fill="#000" textLength="34" lengthAdjust="spacingAndGlyphs">Expected</text>
<text x="462.4" y="134.1" font-size="10.8" text-anchor="middle" font-weight="normal" font-style="italic" fill="#000">χ</text>
<text x="467.4" y="129.5" font-size="6" text-anchor="start" font-weight="normal" font-style="normal" fill="#000">2</text>
<text transform="translate(358.2,72.8) rotate(-90)" font-size="11" textLength="36.4" lengthAdjust="spacingAndGlyphs">Observed</text>
<text transform="translate(358.8,29.5) rotate(-90)" font-size="11.2" text-anchor="middle" font-style="italic">χ</text>
<text transform="translate(355,22.8) rotate(-90)" font-size="6.5" text-anchor="middle">2</text>
<polygon points="435,77.8 445,72.5 455,67.5 463,63.2 470,59.4 476,55.5 480,51.3 485,46 488.8,41.2 488.8,59.4 480,62.2 470,65.6 460,68.6 450,71.8 442,75" fill="#b3b3b3"/>
<polyline points="384.5,101.4 400,94.5 415,87.8 428,81.6 437,76.2 444.7,70 450,66.4 455.3,63.2 457.3,61.2" fill="none" stroke="#000" stroke-width="2.3" stroke-linecap="round" stroke-linejoin="round"/>
<circle cx="457.8" cy="59.5" r="1.2" fill="#000"/>
<circle cx="458.2" cy="57.6" r="1.2" fill="#000"/>
<circle cx="458.6" cy="55.6" r="1.2" fill="#000"/>
<circle cx="459.1" cy="54" r="1.2" fill="#000"/>
<circle cx="459.7" cy="52.3" r="1.2" fill="#000"/>
<circle cx="460.2" cy="50.6" r="1.2" fill="#000"/>
<circle cx="460.8" cy="49.2" r="1.2" fill="#000"/>
<circle cx="461.4" cy="47.6" r="1.2" fill="#000"/>
<circle cx="461.9" cy="46.2" r="1.2" fill="#000"/>
<circle cx="462.4" cy="44.4" r="1.2" fill="#000"/>
<circle cx="462.9" cy="42.5" r="1.2" fill="#000"/>
<circle cx="463.4" cy="40.8" r="1.2" fill="#000"/>
<circle cx="464.3" cy="33.2" r="1.2" fill="#000"/>
<circle cx="464.6" cy="32" r="1.2" fill="#000"/>
<circle cx="465.9" cy="20.2" r="1.2" fill="#000"/>
<circle cx="466.4" cy="18.2" r="1.2" fill="#000"/>
<circle cx="467" cy="16" r="1.2" fill="#000"/>
<circle cx="467.8" cy="14" r="1.2" fill="#000"/>
<circle cx="468.6" cy="12.4" r="1.2" fill="#000"/>
<circle cx="469.6" cy="11.3" r="1.2" fill="#000"/>
<circle cx="471" cy="11.1" r="1.2" fill="#000"/>
<circle cx="472.5" cy="11.1" r="1.2" fill="#000"/>
<circle cx="474" cy="11.1" r="1.2" fill="#000"/>
<circle cx="475.5" cy="11.1" r="1.2" fill="#000"/>
<circle cx="477" cy="11.1" r="1.2" fill="#000"/>
<circle cx="478.5" cy="11.1" r="1.2" fill="#000"/>
<circle cx="480" cy="11.1" r="1.2" fill="#000"/>
<circle cx="481.5" cy="11.1" r="1.2" fill="#000"/>
<circle cx="483.5" cy="11.1" r="1.2" fill="#000"/>
<circle cx="488.7" cy="7.8" r="0.9" fill="#555"/>
</g>
<g id="C">
<text x="0.5" y="176.1" font-size="12" text-anchor="start" font-weight="bold" font-style="normal" fill="#000">C</text>
<text x="67.7" y="170.3" font-size="11.5" text-anchor="start" font-weight="normal" font-style="normal" fill="#000" textLength="53" lengthAdjust="spacingAndGlyphs">rs17473423</text>
<rect x="38.6" y="175.4" width="111.7" height="109.2" fill="none" stroke="#111" stroke-width="1"/>
<line x1="36" y1="279.5" x2="38.6" y2="279.5" stroke="#111" stroke-width="1"/>
<text x="35.3" y="284.2" font-size="10.8" text-anchor="end" font-weight="normal" font-style="normal" fill="#000" textLength="5.2" lengthAdjust="spacingAndGlyphs">0</text>
<line x1="46.4" y1="284.6" x2="46.4" y2="288.4" stroke="#111" stroke-width="1"/>
<text x="46.4" y="299.4" font-size="10.5" text-anchor="middle" font-weight="normal" font-style="normal" fill="#000" textLength="5.2" lengthAdjust="spacingAndGlyphs">0</text>
<line x1="36" y1="230.9" x2="38.6" y2="230.9" stroke="#111" stroke-width="1"/>
<text x="35.3" y="235.6" font-size="10.8" text-anchor="end" font-weight="normal" font-style="normal" fill="#000" textLength="5.2" lengthAdjust="spacingAndGlyphs">1</text>
<line x1="94.6" y1="284.6" x2="94.6" y2="288.4" stroke="#111" stroke-width="1"/>
<text x="94.6" y="299.4" font-size="10.5" text-anchor="middle" font-weight="normal" font-style="normal" fill="#000" textLength="5.2" lengthAdjust="spacingAndGlyphs">1</text>
<line x1="36" y1="182.3" x2="38.6" y2="182.3" stroke="#111" stroke-width="1"/>
<text x="35.3" y="187.0" font-size="10.8" text-anchor="end" font-weight="normal" font-style="normal" fill="#000" textLength="5.2" lengthAdjust="spacingAndGlyphs">2</text>
<line x1="142.8" y1="284.6" x2="142.8" y2="288.4" stroke="#111" stroke-width="1"/>
<text x="142.8" y="299.4" font-size="10.5" text-anchor="middle" font-weight="normal" font-style="normal" fill="#000" textLength="5.2" lengthAdjust="spacingAndGlyphs">2</text>
<text x="45" y="313" font-size="10.3" text-anchor="start" font-weight="normal" font-style="normal" fill="#000" textLength="94.5" lengthAdjust="spacingAndGlyphs">Normalized Intensity of G</text>
<text transform="translate(23,277) rotate(-90)" font-size="10.3" textLength="92.7" lengthAdjust="spacingAndGlyphs">Normalized Intensity of A</text>
<text x="52" y="204" font-size="10.3" text-anchor="start" font-weight="normal" font-style="normal" fill="#000" textLength="11.5" lengthAdjust="spacingAndGlyphs">AA</text>
<text x="99.4" y="222" font-size="10.3" text-anchor="start" font-weight="normal" font-style="normal" fill="#000" textLength="12.9" lengthAdjust="spacingAndGlyphs">AG</text>
<text x="118.5" y="264" font-size="10.3" text-anchor="start" font-weight="normal" font-style="normal" fill="#000" textLength="13.2" lengthAdjust="spacingAndGlyphs">GG</text>
<path d="M121.1 216.4h0.8v0.8h-0.8zM132.3 245.6h0.8v0.8h-0.8zM49.9 225.8h0.8v0.8h-0.8zM95.6 233.5h0.8v0.8h-0.8zM98.7 226.5h0.8v0.8h-0.8zM71.0 265.3h0.8v0.8h-0.8zM72.7 258.3h0.8v0.8h-0.8zM121.2 248.6h0.8v0.8h-0.8zM88.2 276.7h0.8v0.8h-0.8zM87.3 272.0h0.8v0.8h-0.8zM50.5 235.6h0.8v0.8h-0.8zM105.7 204.0h0.8v0.8h-0.8zM126.9 205.9h0.8v0.8h-0.8zM101.6 214.8h0.8v0.8h-0.8zM132.6 246.0h0.8v0.8h-0.8zM121.1 240.9h0.8v0.8h-0.8zM109.0 255.3h0.8v0.8h-0.8zM73.0 217.3h0.8v0.8h-0.8zM124.6 212.0h0.8v0.8h-0.8zM132.2 217.0h0.8v0.8h-0.8zM54.6 207.8h0.8v0.8h-0.8zM119.5 278.0h0.8v0.8h-0.8zM84.4 254.0h0.8v0.8h-0.8zM69.5 274.3h0.8v0.8h-0.8zM110.2 212.7h0.8v0.8h-0.8zM50.4 257.0h0.8v0.8h-0.8zM49.0 268.6h0.8v0.8h-0.8zM72.9 219.1h0.8v0.8h-0.8zM100.3 226.1h0.8v0.8h-0.8zM98.3 212.6h0.8v0.8h-0.8zM131.6 226.6h0.8v0.8h-0.8zM124.9 212.5h0.8v0.8h-0.8zM120.9 280.4h0.8v0.8h-0.8zM82.2 202.7h0.8v0.8h-0.8zM81.1 252.5h0.8v0.8h-0.8zM66.2 244.7h0.8v0.8h-0.8zM53.9 238.1h0.8v0.8h-0.8zM114.2 235.2h0.8v0.8h-0.8zM109.5 209.4h0.8v0.8h-0.8zM123.7 210.0h0.8v0.8h-0.8zM132.7 281.7h0.8v0.8h-0.8zM134.2 243.2h0.8v0.8h-0.8zM72.6 228.5h0.8v0.8h-0.8zM116.3 240.7h0.8v0.8h-0.8zM133.3 207.6h0.8v0.8h-0.8zM91.1 270.8h0.8v0.8h-0.8zM101.8 244.3h0.8v0.8h-0.8zM53.4 211.5h0.8v0.8h-0.8zM70.8 273.2h0.8v0.8h-0.8zM125.3 218.6h0.8v0.8h-0.8zM132.8 202.7h0.8v0.8h-0.8zM101.9 279.3h0.8v0.8h-0.8zM77.7 277.4h0.8v0.8h-0.8zM107.4 204.1h0.8v0.8h-0.8zM76.6 236.9h0.8v0.8h-0.8zM68.5 260.9h0.8v0.8h-0.8zM62.0 264.6h0.8v0.8h-0.8zM73.3 205.7h0.8v0.8h-0.8zM98.1 207.8h0.8v0.8h-0.8zM97.4 264.6h0.8v0.8h-0.8z" fill="#c8c0b0"/>
<path d="M48.0 250.9h0.9v0.9h-0.9zM61.3 221.4h0.9v0.9h-0.9zM66.4 222.1h0.9v0.9h-0.9zM66.9 226.7h0.9v0.9h-0.9zM61.3 248.1h0.9v0.9h-0.9zM50.7 242.1h0.9v0.9h-0.9zM77.5 224.5h0.9v0.9h-0.9zM68.4 254.8h0.9v0.9h-0.9zM50.8 225.2h0.9v0.9h-0.9zM59.9 235.0h0.9v0.9h-0.9zM53.9 232.4h0.9v0.9h-0.9zM53.0 256.6h0.9v0.9h-0.9zM64.9 227.2h0.9v0.9h-0.9zM67.1 230.6h0.9v0.9h-0.9zM53.2 252.3h0.9v0.9h-0.9zM65.4 235.0h0.9v0.9h-0.9zM60.8 236.9h0.9v0.9h-0.9zM74.3 239.6h0.9v0.9h-0.9zM50.3 269.3h0.9v0.9h-0.9zM64.2 203.4h0.9v0.9h-0.9zM52.5 264.6h0.9v0.9h-0.9zM46.6 257.7h0.9v0.9h-0.9zM71.2 237.7h0.9v0.9h-0.9zM62.9 232.7h0.9v0.9h-0.9zM60.3 224.1h0.9v0.9h-0.9zM53.0 250.3h0.9v0.9h-0.9zM54.5 233.1h0.9v0.9h-0.9zM51.3 247.3h0.9v0.9h-0.9zM43.5 258.1h0.9v0.9h-0.9zM52.7 239.0h0.9v0.9h-0.9zM68.1 239.9h0.9v0.9h-0.9zM56.5 234.0h0.9v0.9h-0.9zM43.9 253.4h0.9v0.9h-0.9zM49.5 231.6h0.9v0.9h-0.9zM47.9 230.6h0.9v0.9h-0.9zM55.7 236.3h0.9v0.9h-0.9zM55.2 223.5h0.9v0.9h-0.9zM57.2 244.0h0.9v0.9h-0.9zM70.5 240.1h0.9v0.9h-0.9zM50.8 241.2h0.9v0.9h-0.9z" fill="#a8b8d8"/>
<path d="M80.6 257.1h0.9v0.9h-0.9zM87.3 253.6h0.9v0.9h-0.9zM79.5 278.1h0.9v0.9h-0.9zM100.3 235.4h0.9v0.9h-0.9zM69.8 262.9h0.9v0.9h-0.9zM74.7 234.7h0.9v0.9h-0.9zM74.3 242.7h0.9v0.9h-0.9zM93.1 255.7h0.9v0.9h-0.9zM84.7 233.7h0.9v0.9h-0.9zM100.2 244.9h0.9v0.9h-0.9zM80.3 257.6h0.9v0.9h-0.9zM95.5 236.4h0.9v0.9h-0.9zM78.6 248.3h0.9v0.9h-0.9zM82.8 228.8h0.9v0.9h-0.9zM91.4 233.5h0.9v0.9h-0.9zM83.0 233.9h0.9v0.9h-0.9zM68.9 256.1h0.9v0.9h-0.9zM82.0 234.8h0.9v0.9h-0.9zM84.6 242.5h0.9v0.9h-0.9zM92.8 238.9h0.9v0.9h-0.9zM85.7 246.3h0.9v0.9h-0.9zM98.2 233.8h0.9v0.9h-0.9zM91.1 263.4h0.9v0.9h-0.9zM85.7 254.9h0.9v0.9h-0.9zM74.9 259.1h0.9v0.9h-0.9zM58.6 271.8h0.9v0.9h-0.9zM67.4 248.2h0.9v0.9h-0.9zM72.5 270.5h0.9v0.9h-0.9zM78.4 238.9h0.9v0.9h-0.9zM96.8 231.7h0.9v0.9h-0.9zM78.9 256.1h0.9v0.9h-0.9zM61.8 251.8h0.9v0.9h-0.9zM79.7 264.9h0.9v0.9h-0.9zM83.5 233.9h0.9v0.9h-0.9zM94.1 241.3h0.9v0.9h-0.9zM86.9 247.5h0.9v0.9h-0.9zM80.8 242.0h0.9v0.9h-0.9zM68.6 255.2h0.9v0.9h-0.9zM80.8 258.3h0.9v0.9h-0.9zM76.8 271.4h0.9v0.9h-0.9zM72.1 253.5h0.9v0.9h-0.9zM90.9 248.0h0.9v0.9h-0.9zM72.7 248.1h0.9v0.9h-0.9zM63.3 250.7h0.9v0.9h-0.9zM98.7 248.0h0.9v0.9h-0.9zM103.2 238.3h0.9v0.9h-0.9zM88.7 253.1h0.9v0.9h-0.9zM90.0 241.7h0.9v0.9h-0.9zM95.8 261.2h0.9v0.9h-0.9zM57.1 257.9h0.9v0.9h-0.9z" fill="#c0d8b0"/>
<path d="M57.9 244.5h1.2v1.2h-1.2zM55.9 231.1h1.2v1.2h-1.2zM56.5 234.3h1.2v1.2h-1.2zM54.3 236.2h1.2v1.2h-1.2zM56.0 238.5h1.2v1.2h-1.2zM65.6 233.1h1.2v1.2h-1.2zM56.1 249.3h1.2v1.2h-1.2zM59.7 239.0h1.2v1.2h-1.2zM60.1 232.6h1.2v1.2h-1.2zM53.2 232.9h1.2v1.2h-1.2zM60.6 249.4h1.2v1.2h-1.2zM53.6 230.6h1.2v1.2h-1.2zM59.9 231.2h1.2v1.2h-1.2zM56.9 253.3h1.2v1.2h-1.2zM59.4 244.9h1.2v1.2h-1.2zM52.5 241.8h1.2v1.2h-1.2zM53.6 247.2h1.2v1.2h-1.2zM54.5 231.9h1.2v1.2h-1.2zM62.2 250.7h1.2v1.2h-1.2zM60.5 227.9h1.2v1.2h-1.2zM50.8 240.7h1.2v1.2h-1.2zM56.4 248.3h1.2v1.2h-1.2zM53.3 229.9h1.2v1.2h-1.2zM54.9 238.1h1.2v1.2h-1.2zM57.6 240.1h1.2v1.2h-1.2zM55.8 225.6h1.2v1.2h-1.2zM61.0 234.0h1.2v1.2h-1.2zM55.1 239.9h1.2v1.2h-1.2zM58.7 246.9h1.2v1.2h-1.2zM53.0 241.0h1.2v1.2h-1.2zM52.8 237.3h1.2v1.2h-1.2zM53.8 244.2h1.2v1.2h-1.2zM56.8 229.4h1.2v1.2h-1.2zM51.0 234.2h1.2v1.2h-1.2zM60.9 251.0h1.2v1.2h-1.2zM49.7 239.6h1.2v1.2h-1.2zM58.2 239.3h1.2v1.2h-1.2zM50.9 247.9h1.2v1.2h-1.2zM52.8 236.2h1.2v1.2h-1.2zM60.5 234.3h1.2v1.2h-1.2zM54.8 235.4h1.2v1.2h-1.2zM53.5 238.1h1.2v1.2h-1.2zM57.1 239.3h1.2v1.2h-1.2zM59.4 240.7h1.2v1.2h-1.2zM56.6 222.6h1.2v1.2h-1.2zM59.5 236.8h1.2v1.2h-1.2zM55.8 234.3h1.2v1.2h-1.2zM59.3 241.8h1.2v1.2h-1.2zM58.6 235.0h1.2v1.2h-1.2zM57.6 243.5h1.2v1.2h-1.2zM56.1 233.5h1.2v1.2h-1.2zM64.9 235.9h1.2v1.2h-1.2zM56.4 249.8h1.2v1.2h-1.2zM49.6 244.3h1.2v1.2h-1.2zM57.8 240.1h1.2v1.2h-1.2zM51.6 237.2h1.2v1.2h-1.2zM52.4 246.4h1.2v1.2h-1.2zM52.9 237.7h1.2v1.2h-1.2zM61.1 248.4h1.2v1.2h-1.2zM54.5 243.1h1.2v1.2h-1.2zM53.2 241.1h1.2v1.2h-1.2zM54.9 237.9h1.2v1.2h-1.2zM52.1 233.8h1.2v1.2h-1.2zM61.9 248.4h1.2v1.2h-1.2zM58.8 239.3h1.2v1.2h-1.2zM59.3 231.7h1.2v1.2h-1.2zM50.1 237.0h1.2v1.2h-1.2zM58.1 248.4h1.2v1.2h-1.2zM58.9 234.7h1.2v1.2h-1.2zM46.1 246.7h1.2v1.2h-1.2zM50.4 243.8h1.2v1.2h-1.2zM52.3 236.7h1.2v1.2h-1.2zM55.3 228.5h1.2v1.2h-1.2zM58.7 242.2h1.2v1.2h-1.2zM52.9 235.8h1.2v1.2h-1.2zM64.2 234.7h1.2v1.2h-1.2zM53.8 245.4h1.2v1.2h-1.2zM47.5 243.4h1.2v1.2h-1.2zM59.3 235.1h1.2v1.2h-1.2zM58.7 232.8h1.2v1.2h-1.2zM53.8 250.2h1.2v1.2h-1.2zM50.8 241.5h1.2v1.2h-1.2zM57.8 245.4h1.2v1.2h-1.2zM63.2 241.4h1.2v1.2h-1.2zM49.2 234.2h1.2v1.2h-1.2zM61.7 233.8h1.2v1.2h-1.2zM51.4 237.3h1.2v1.2h-1.2zM52.8 226.9h1.2v1.2h-1.2zM48.6 237.5h1.2v1.2h-1.2zM48.2 244.6h1.2v1.2h-1.2zM61.7 232.6h1.2v1.2h-1.2zM50.4 239.8h1.2v1.2h-1.2zM57.4 238.9h1.2v1.2h-1.2zM50.0 246.6h1.2v1.2h-1.2zM58.6 239.4h1.2v1.2h-1.2zM57.8 238.2h1.2v1.2h-1.2zM45.1 244.0h1.2v1.2h-1.2zM52.8 235.8h1.2v1.2h-1.2zM54.4 238.8h1.2v1.2h-1.2zM53.5 234.9h1.2v1.2h-1.2zM57.6 229.7h1.2v1.2h-1.2zM59.0 235.6h1.2v1.2h-1.2zM58.6 232.4h1.2v1.2h-1.2zM51.7 248.3h1.2v1.2h-1.2zM59.8 227.5h1.2v1.2h-1.2zM58.4 235.3h1.2v1.2h-1.2zM52.7 241.7h1.2v1.2h-1.2zM59.8 242.9h1.2v1.2h-1.2zM63.2 237.3h1.2v1.2h-1.2zM63.8 236.6h1.2v1.2h-1.2zM51.9 234.8h1.2v1.2h-1.2zM59.1 228.1h1.2v1.2h-1.2zM58.1 231.3h1.2v1.2h-1.2zM56.3 240.4h1.2v1.2h-1.2zM50.2 244.2h1.2v1.2h-1.2zM53.0 243.3h1.2v1.2h-1.2zM54.2 246.3h1.2v1.2h-1.2zM64.2 237.9h1.2v1.2h-1.2zM57.8 227.2h1.2v1.2h-1.2zM56.1 232.9h1.2v1.2h-1.2zM56.3 235.9h1.2v1.2h-1.2zM55.7 241.6h1.2v1.2h-1.2zM56.1 247.5h1.2v1.2h-1.2zM51.5 239.3h1.2v1.2h-1.2zM57.8 240.8h1.2v1.2h-1.2zM57.1 242.7h1.2v1.2h-1.2zM62.6 235.9h1.2v1.2h-1.2zM54.4 244.8h1.2v1.2h-1.2zM62.4 236.3h1.2v1.2h-1.2zM59.2 237.2h1.2v1.2h-1.2zM52.2 246.7h1.2v1.2h-1.2zM56.7 228.1h1.2v1.2h-1.2zM55.5 224.8h1.2v1.2h-1.2zM49.5 238.9h1.2v1.2h-1.2zM57.7 234.7h1.2v1.2h-1.2zM58.8 226.3h1.2v1.2h-1.2zM50.3 238.8h1.2v1.2h-1.2zM59.6 239.4h1.2v1.2h-1.2zM61.6 234.7h1.2v1.2h-1.2zM56.7 233.1h1.2v1.2h-1.2zM57.3 234.8h1.2v1.2h-1.2zM61.2 247.5h1.2v1.2h-1.2zM52.3 235.3h1.2v1.2h-1.2zM57.5 236.2h1.2v1.2h-1.2zM62.7 233.3h1.2v1.2h-1.2zM54.9 257.0h1.2v1.2h-1.2zM53.9 228.4h1.2v1.2h-1.2zM55.1 249.7h1.2v1.2h-1.2zM57.7 236.5h1.2v1.2h-1.2zM53.0 244.7h1.2v1.2h-1.2zM59.1 237.6h1.2v1.2h-1.2zM59.5 225.3h1.2v1.2h-1.2zM46.2 240.3h1.2v1.2h-1.2zM56.6 231.7h1.2v1.2h-1.2zM52.0 238.3h1.2v1.2h-1.2zM49.8 232.6h1.2v1.2h-1.2zM56.6 237.7h1.2v1.2h-1.2zM61.4 237.4h1.2v1.2h-1.2zM56.3 239.0h1.2v1.2h-1.2zM50.9 232.0h1.2v1.2h-1.2zM56.0 240.1h1.2v1.2h-1.2zM53.9 232.0h1.2v1.2h-1.2zM58.4 233.7h1.2v1.2h-1.2zM48.6 246.3h1.2v1.2h-1.2zM55.0 247.1h1.2v1.2h-1.2zM59.0 237.5h1.2v1.2h-1.2zM54.7 232.9h1.2v1.2h-1.2zM60.3 232.4h1.2v1.2h-1.2zM58.4 235.8h1.2v1.2h-1.2zM56.0 246.4h1.2v1.2h-1.2zM50.2 243.7h1.2v1.2h-1.2zM56.2 240.5h1.2v1.2h-1.2zM54.6 238.4h1.2v1.2h-1.2zM55.7 244.5h1.2v1.2h-1.2zM49.7 241.8h1.2v1.2h-1.2zM61.8 238.7h1.2v1.2h-1.2zM51.4 240.0h1.2v1.2h-1.2zM64.2 231.1h1.2v1.2h-1.2zM54.9 239.9h1.2v1.2h-1.2zM67.8 239.1h1.2v1.2h-1.2zM60.0 238.2h1.2v1.2h-1.2zM49.3 234.3h1.2v1.2h-1.2zM50.0 244.1h1.2v1.2h-1.2zM56.9 235.7h1.2v1.2h-1.2zM56.9 227.2h1.2v1.2h-1.2zM56.6 236.5h1.2v1.2h-1.2zM65.2 239.1h1.2v1.2h-1.2zM62.1 237.6h1.2v1.2h-1.2zM55.0 230.0h1.2v1.2h-1.2zM55.2 233.9h1.2v1.2h-1.2zM56.7 237.7h1.2v1.2h-1.2zM54.2 237.8h1.2v1.2h-1.2zM56.6 228.6h1.2v1.2h-1.2zM63.3 235.2h1.2v1.2h-1.2zM60.7 235.2h1.2v1.2h-1.2zM61.8 230.6h1.2v1.2h-1.2zM52.2 226.8h1.2v1.2h-1.2zM58.2 226.4h1.2v1.2h-1.2zM51.6 248.5h1.2v1.2h-1.2zM54.4 246.8h1.2v1.2h-1.2zM50.4 246.7h1.2v1.2h-1.2zM56.9 236.6h1.2v1.2h-1.2zM54.2 243.0h1.2v1.2h-1.2zM56.2 239.0h1.2v1.2h-1.2zM55.1 238.2h1.2v1.2h-1.2zM50.6 231.8h1.2v1.2h-1.2zM56.0 241.4h1.2v1.2h-1.2zM53.4 240.4h1.2v1.2h-1.2zM56.4 241.1h1.2v1.2h-1.2zM56.6 230.6h1.2v1.2h-1.2zM57.1 240.2h1.2v1.2h-1.2zM48.1 238.4h1.2v1.2h-1.2zM54.8 236.4h1.2v1.2h-1.2zM57.9 242.2h1.2v1.2h-1.2zM53.8 237.6h1.2v1.2h-1.2zM46.9 250.4h1.2v1.2h-1.2zM55.6 238.1h1.2v1.2h-1.2zM57.3 235.8h1.2v1.2h-1.2zM50.5 240.3h1.2v1.2h-1.2zM54.3 244.9h1.2v1.2h-1.2zM57.7 245.8h1.2v1.2h-1.2zM47.5 245.1h1.2v1.2h-1.2zM48.8 238.3h1.2v1.2h-1.2zM53.8 227.7h1.2v1.2h-1.2zM55.0 238.4h1.2v1.2h-1.2zM48.2 242.1h1.2v1.2h-1.2zM57.4 250.3h1.2v1.2h-1.2zM65.6 233.6h1.2v1.2h-1.2zM56.6 247.6h1.2v1.2h-1.2zM59.3 239.0h1.2v1.2h-1.2zM58.3 241.9h1.2v1.2h-1.2zM59.4 233.3h1.2v1.2h-1.2zM56.9 229.3h1.2v1.2h-1.2zM54.9 228.4h1.2v1.2h-1.2zM47.0 226.2h1.2v1.2h-1.2zM52.9 237.7h1.2v1.2h-1.2zM60.1 239.0h1.2v1.2h-1.2zM57.1 234.0h1.2v1.2h-1.2zM52.0 226.9h1.2v1.2h-1.2zM61.1 244.3h1.2v1.2h-1.2zM48.2 234.9h1.2v1.2h-1.2zM51.7 235.4h1.2v1.2h-1.2zM62.1 230.1h1.2v1.2h-1.2zM60.5 242.5h1.2v1.2h-1.2zM58.7 244.0h1.2v1.2h-1.2zM56.1 234.7h1.2v1.2h-1.2zM53.4 246.8h1.2v1.2h-1.2zM51.3 251.9h1.2v1.2h-1.2zM58.8 250.4h1.2v1.2h-1.2zM45.4 242.5h1.2v1.2h-1.2zM58.1 235.0h1.2v1.2h-1.2zM63.8 242.9h1.2v1.2h-1.2zM57.1 233.6h1.2v1.2h-1.2zM43.7 240.2h1.2v1.2h-1.2zM60.3 236.0h1.2v1.2h-1.2zM49.8 240.9h1.2v1.2h-1.2zM49.4 237.4h1.2v1.2h-1.2zM59.0 238.8h1.2v1.2h-1.2zM58.7 229.3h1.2v1.2h-1.2zM59.2 237.6h1.2v1.2h-1.2zM56.2 229.5h1.2v1.2h-1.2zM51.6 245.2h1.2v1.2h-1.2zM51.1 245.4h1.2v1.2h-1.2zM57.2 239.3h1.2v1.2h-1.2zM56.4 237.4h1.2v1.2h-1.2zM57.3 240.8h1.2v1.2h-1.2zM59.9 233.4h1.2v1.2h-1.2zM56.5 229.0h1.2v1.2h-1.2zM62.4 241.0h1.2v1.2h-1.2zM57.8 237.4h1.2v1.2h-1.2zM59.5 241.0h1.2v1.2h-1.2zM51.6 240.1h1.2v1.2h-1.2zM54.2 238.4h1.2v1.2h-1.2zM55.4 232.9h1.2v1.2h-1.2zM55.3 237.4h1.2v1.2h-1.2zM53.9 235.8h1.2v1.2h-1.2zM51.6 230.6h1.2v1.2h-1.2zM52.8 240.2h1.2v1.2h-1.2zM56.9 234.4h1.2v1.2h-1.2zM55.2 235.1h1.2v1.2h-1.2zM50.8 241.9h1.2v1.2h-1.2zM53.5 240.0h1.2v1.2h-1.2zM57.7 236.8h1.2v1.2h-1.2zM56.6 232.3h1.2v1.2h-1.2zM51.0 242.1h1.2v1.2h-1.2zM57.5 238.2h1.2v1.2h-1.2zM58.8 226.5h1.2v1.2h-1.2zM65.3 228.9h1.2v1.2h-1.2zM59.6 245.5h1.2v1.2h-1.2zM62.5 232.3h1.2v1.2h-1.2zM59.8 239.0h1.2v1.2h-1.2zM55.2 241.2h1.2v1.2h-1.2zM63.0 239.4h1.2v1.2h-1.2zM59.5 240.3h1.2v1.2h-1.2zM53.3 237.4h1.2v1.2h-1.2zM58.9 237.3h1.2v1.2h-1.2zM57.7 243.1h1.2v1.2h-1.2zM51.8 242.0h1.2v1.2h-1.2zM55.3 236.8h1.2v1.2h-1.2zM48.5 243.2h1.2v1.2h-1.2zM57.0 238.3h1.2v1.2h-1.2zM56.2 241.2h1.2v1.2h-1.2zM55.9 247.9h1.2v1.2h-1.2zM57.5 236.0h1.2v1.2h-1.2zM55.7 242.1h1.2v1.2h-1.2zM60.4 238.2h1.2v1.2h-1.2zM57.3 236.8h1.2v1.2h-1.2zM58.6 243.3h1.2v1.2h-1.2zM55.3 230.8h1.2v1.2h-1.2zM57.9 234.6h1.2v1.2h-1.2zM50.9 237.7h1.2v1.2h-1.2zM50.5 226.3h1.2v1.2h-1.2zM54.8 236.2h1.2v1.2h-1.2zM55.6 231.0h1.2v1.2h-1.2zM58.4 238.5h1.2v1.2h-1.2zM54.4 235.2h1.2v1.2h-1.2zM58.3 234.4h1.2v1.2h-1.2zM55.1 231.9h1.2v1.2h-1.2zM54.4 238.3h1.2v1.2h-1.2zM56.1 243.6h1.2v1.2h-1.2zM62.0 236.8h1.2v1.2h-1.2zM57.2 240.6h1.2v1.2h-1.2zM56.8 231.3h1.2v1.2h-1.2zM56.6 238.0h1.2v1.2h-1.2zM51.4 241.8h1.2v1.2h-1.2zM57.9 231.6h1.2v1.2h-1.2zM51.0 237.9h1.2v1.2h-1.2zM60.7 238.4h1.2v1.2h-1.2zM51.3 244.7h1.2v1.2h-1.2zM62.8 232.5h1.2v1.2h-1.2zM55.5 228.5h1.2v1.2h-1.2zM53.7 234.1h1.2v1.2h-1.2zM55.1 234.9h1.2v1.2h-1.2zM61.5 238.0h1.2v1.2h-1.2zM55.4 236.1h1.2v1.2h-1.2zM57.1 238.1h1.2v1.2h-1.2zM56.3 241.6h1.2v1.2h-1.2zM62.8 235.7h1.2v1.2h-1.2zM49.1 250.0h1.2v1.2h-1.2zM58.1 246.4h1.2v1.2h-1.2zM59.4 223.6h1.2v1.2h-1.2zM60.6 238.3h1.2v1.2h-1.2zM52.7 253.0h1.2v1.2h-1.2zM53.3 257.3h1.2v1.2h-1.2zM53.6 241.1h1.2v1.2h-1.2zM54.1 235.8h1.2v1.2h-1.2zM57.2 231.6h1.2v1.2h-1.2zM66.3 237.7h1.2v1.2h-1.2zM59.1 241.7h1.2v1.2h-1.2zM60.0 244.2h1.2v1.2h-1.2zM57.6 232.5h1.2v1.2h-1.2zM63.4 233.4h1.2v1.2h-1.2zM57.5 229.9h1.2v1.2h-1.2zM60.3 239.4h1.2v1.2h-1.2zM52.1 246.8h1.2v1.2h-1.2zM58.7 235.8h1.2v1.2h-1.2zM64.9 228.2h1.2v1.2h-1.2zM58.1 236.6h1.2v1.2h-1.2zM53.9 246.2h1.2v1.2h-1.2zM55.4 236.6h1.2v1.2h-1.2zM58.4 238.4h1.2v1.2h-1.2zM52.8 243.7h1.2v1.2h-1.2zM58.6 249.8h1.2v1.2h-1.2zM48.2 243.5h1.2v1.2h-1.2zM56.0 233.5h1.2v1.2h-1.2zM55.6 232.2h1.2v1.2h-1.2zM61.0 225.9h1.2v1.2h-1.2zM56.6 237.5h1.2v1.2h-1.2zM58.9 240.1h1.2v1.2h-1.2zM56.5 225.9h1.2v1.2h-1.2zM57.2 245.3h1.2v1.2h-1.2zM51.3 230.8h1.2v1.2h-1.2zM51.4 241.8h1.2v1.2h-1.2zM58.6 235.3h1.2v1.2h-1.2zM50.8 242.0h1.2v1.2h-1.2zM48.7 232.8h1.2v1.2h-1.2zM56.1 234.3h1.2v1.2h-1.2zM61.9 227.4h1.2v1.2h-1.2zM54.3 241.6h1.2v1.2h-1.2zM52.9 239.5h1.2v1.2h-1.2zM59.8 238.5h1.2v1.2h-1.2zM53.5 247.2h1.2v1.2h-1.2zM60.5 229.8h1.2v1.2h-1.2zM52.0 242.6h1.2v1.2h-1.2zM48.9 242.3h1.2v1.2h-1.2zM57.5 231.4h1.2v1.2h-1.2zM49.7 241.5h1.2v1.2h-1.2zM53.6 240.3h1.2v1.2h-1.2zM56.0 227.6h1.2v1.2h-1.2zM60.3 238.3h1.2v1.2h-1.2zM56.0 234.2h1.2v1.2h-1.2zM59.1 252.4h1.2v1.2h-1.2zM55.0 234.4h1.2v1.2h-1.2zM52.2 238.2h1.2v1.2h-1.2zM49.3 242.7h1.2v1.2h-1.2zM58.5 235.6h1.2v1.2h-1.2zM59.2 237.8h1.2v1.2h-1.2zM57.0 235.2h1.2v1.2h-1.2zM57.4 244.0h1.2v1.2h-1.2zM59.7 231.6h1.2v1.2h-1.2zM55.5 230.5h1.2v1.2h-1.2zM59.8 245.0h1.2v1.2h-1.2zM56.3 242.0h1.2v1.2h-1.2zM55.9 239.5h1.2v1.2h-1.2zM53.6 239.6h1.2v1.2h-1.2zM61.5 250.3h1.2v1.2h-1.2zM48.8 235.8h1.2v1.2h-1.2zM50.7 243.0h1.2v1.2h-1.2zM45.4 241.0h1.2v1.2h-1.2zM62.9 236.0h1.2v1.2h-1.2zM58.6 240.3h1.2v1.2h-1.2zM51.8 233.9h1.2v1.2h-1.2zM50.8 229.9h1.2v1.2h-1.2zM54.0 241.5h1.2v1.2h-1.2zM57.8 230.9h1.2v1.2h-1.2zM52.8 238.5h1.2v1.2h-1.2zM56.3 237.8h1.2v1.2h-1.2zM62.2 234.9h1.2v1.2h-1.2zM56.8 233.9h1.2v1.2h-1.2zM62.0 240.3h1.2v1.2h-1.2zM56.1 237.1h1.2v1.2h-1.2zM63.9 228.6h1.2v1.2h-1.2zM56.2 234.8h1.2v1.2h-1.2zM59.4 242.8h1.2v1.2h-1.2zM59.2 241.7h1.2v1.2h-1.2zM55.6 243.1h1.2v1.2h-1.2zM57.0 236.0h1.2v1.2h-1.2zM57.7 237.2h1.2v1.2h-1.2zM50.5 244.3h1.2v1.2h-1.2zM62.8 240.4h1.2v1.2h-1.2zM52.3 238.4h1.2v1.2h-1.2zM55.4 242.3h1.2v1.2h-1.2zM55.1 230.9h1.2v1.2h-1.2zM57.3 235.1h1.2v1.2h-1.2zM52.0 239.8h1.2v1.2h-1.2zM53.1 238.7h1.2v1.2h-1.2zM49.8 233.9h1.2v1.2h-1.2zM60.1 232.1h1.2v1.2h-1.2zM62.4 235.9h1.2v1.2h-1.2zM50.1 233.5h1.2v1.2h-1.2zM57.8 238.3h1.2v1.2h-1.2zM50.9 241.6h1.2v1.2h-1.2zM58.4 236.1h1.2v1.2h-1.2zM54.6 240.7h1.2v1.2h-1.2zM53.3 240.9h1.2v1.2h-1.2zM60.1 239.4h1.2v1.2h-1.2zM53.0 247.7h1.2v1.2h-1.2zM58.9 228.9h1.2v1.2h-1.2zM59.4 237.9h1.2v1.2h-1.2zM50.3 243.5h1.2v1.2h-1.2zM48.7 247.2h1.2v1.2h-1.2zM59.5 237.4h1.2v1.2h-1.2zM53.0 240.3h1.2v1.2h-1.2zM58.8 236.3h1.2v1.2h-1.2zM49.0 235.5h1.2v1.2h-1.2zM45.7 239.8h1.2v1.2h-1.2zM53.0 236.3h1.2v1.2h-1.2zM61.1 243.2h1.2v1.2h-1.2zM59.2 230.8h1.2v1.2h-1.2zM57.0 236.8h1.2v1.2h-1.2zM55.2 241.7h1.2v1.2h-1.2zM54.6 226.3h1.2v1.2h-1.2zM55.9 242.3h1.2v1.2h-1.2zM60.1 233.6h1.2v1.2h-1.2zM54.5 244.0h1.2v1.2h-1.2zM51.0 239.0h1.2v1.2h-1.2zM54.2 237.5h1.2v1.2h-1.2zM58.6 233.1h1.2v1.2h-1.2zM55.5 243.0h1.2v1.2h-1.2zM53.2 240.0h1.2v1.2h-1.2zM59.6 241.9h1.2v1.2h-1.2zM49.0 239.6h1.2v1.2h-1.2zM58.3 243.4h1.2v1.2h-1.2zM54.2 224.8h1.2v1.2h-1.2zM54.4 240.2h1.2v1.2h-1.2zM56.1 246.9h1.2v1.2h-1.2zM57.0 238.8h1.2v1.2h-1.2zM57.3 224.8h1.2v1.2h-1.2zM60.0 234.1h1.2v1.2h-1.2zM53.1 241.7h1.2v1.2h-1.2zM60.4 229.5h1.2v1.2h-1.2zM52.0 236.7h1.2v1.2h-1.2zM58.9 233.4h1.2v1.2h-1.2zM63.9 226.2h1.2v1.2h-1.2zM57.9 233.7h1.2v1.2h-1.2zM54.0 237.6h1.2v1.2h-1.2zM57.3 236.6h1.2v1.2h-1.2zM60.8 235.2h1.2v1.2h-1.2zM54.2 236.1h1.2v1.2h-1.2zM62.8 234.6h1.2v1.2h-1.2zM56.7 243.5h1.2v1.2h-1.2zM58.6 235.4h1.2v1.2h-1.2zM56.2 235.2h1.2v1.2h-1.2zM62.4 240.0h1.2v1.2h-1.2zM52.4 227.1h1.2v1.2h-1.2zM55.0 253.7h1.2v1.2h-1.2zM53.3 242.0h1.2v1.2h-1.2zM55.7 248.0h1.2v1.2h-1.2zM53.9 238.3h1.2v1.2h-1.2zM66.3 234.6h1.2v1.2h-1.2zM62.0 230.3h1.2v1.2h-1.2zM58.1 241.2h1.2v1.2h-1.2zM60.4 239.3h1.2v1.2h-1.2zM56.5 234.8h1.2v1.2h-1.2zM53.8 234.5h1.2v1.2h-1.2zM62.6 234.6h1.2v1.2h-1.2zM57.8 240.8h1.2v1.2h-1.2zM57.8 248.8h1.2v1.2h-1.2zM53.0 232.4h1.2v1.2h-1.2zM58.3 228.0h1.2v1.2h-1.2zM49.0 247.6h1.2v1.2h-1.2zM55.9 232.9h1.2v1.2h-1.2zM51.2 230.7h1.2v1.2h-1.2zM59.6 239.5h1.2v1.2h-1.2zM57.9 242.8h1.2v1.2h-1.2zM56.9 240.7h1.2v1.2h-1.2zM64.9 237.9h1.2v1.2h-1.2zM57.7 246.2h1.2v1.2h-1.2zM53.1 229.8h1.2v1.2h-1.2zM64.9 239.4h1.2v1.2h-1.2zM45.7 230.1h1.2v1.2h-1.2zM49.2 238.6h1.2v1.2h-1.2zM53.5 236.0h1.2v1.2h-1.2zM52.2 241.1h1.2v1.2h-1.2zM54.5 236.2h1.2v1.2h-1.2zM54.2 243.5h1.2v1.2h-1.2zM53.2 235.3h1.2v1.2h-1.2zM50.8 230.6h1.2v1.2h-1.2zM54.9 235.6h1.2v1.2h-1.2zM55.2 228.5h1.2v1.2h-1.2zM50.2 241.3h1.2v1.2h-1.2zM60.4 226.9h1.2v1.2h-1.2zM53.6 244.5h1.2v1.2h-1.2zM60.8 245.0h1.2v1.2h-1.2zM48.6 234.4h1.2v1.2h-1.2zM59.7 237.7h1.2v1.2h-1.2zM57.8 238.6h1.2v1.2h-1.2zM56.7 239.1h1.2v1.2h-1.2zM53.5 236.6h1.2v1.2h-1.2zM57.0 236.3h1.2v1.2h-1.2zM53.3 238.1h1.2v1.2h-1.2zM55.9 244.5h1.2v1.2h-1.2zM47.6 231.8h1.2v1.2h-1.2zM60.6 242.4h1.2v1.2h-1.2zM54.2 232.4h1.2v1.2h-1.2zM53.6 229.6h1.2v1.2h-1.2zM62.6 244.3h1.2v1.2h-1.2zM54.7 240.7h1.2v1.2h-1.2zM50.4 247.4h1.2v1.2h-1.2zM54.2 245.2h1.2v1.2h-1.2zM58.2 249.9h1.2v1.2h-1.2zM53.3 240.0h1.2v1.2h-1.2zM58.2 242.6h1.2v1.2h-1.2zM56.0 228.9h1.2v1.2h-1.2zM63.9 229.8h1.2v1.2h-1.2zM58.6 230.5h1.2v1.2h-1.2zM57.0 247.6h1.2v1.2h-1.2zM56.3 240.9h1.2v1.2h-1.2zM52.9 249.3h1.2v1.2h-1.2zM52.7 236.3h1.2v1.2h-1.2zM62.7 237.7h1.2v1.2h-1.2zM53.6 236.5h1.2v1.2h-1.2zM50.2 222.7h1.2v1.2h-1.2zM56.6 244.0h1.2v1.2h-1.2zM46.6 240.3h1.2v1.2h-1.2zM59.5 237.3h1.2v1.2h-1.2zM60.8 244.0h1.2v1.2h-1.2zM61.1 236.1h1.2v1.2h-1.2zM54.4 247.4h1.2v1.2h-1.2zM65.4 230.2h1.2v1.2h-1.2zM57.4 230.5h1.2v1.2h-1.2zM53.8 236.8h1.2v1.2h-1.2zM54.5 231.3h1.2v1.2h-1.2zM48.2 236.2h1.2v1.2h-1.2zM61.3 248.5h1.2v1.2h-1.2zM56.9 238.1h1.2v1.2h-1.2zM53.6 251.3h1.2v1.2h-1.2zM52.4 225.0h1.2v1.2h-1.2zM52.9 252.3h1.2v1.2h-1.2zM54.6 241.3h1.2v1.2h-1.2zM49.5 244.9h1.2v1.2h-1.2zM57.2 246.1h1.2v1.2h-1.2zM59.1 239.1h1.2v1.2h-1.2zM57.1 245.1h1.2v1.2h-1.2zM55.9 241.0h1.2v1.2h-1.2zM57.1 232.8h1.2v1.2h-1.2zM49.2 239.3h1.2v1.2h-1.2zM59.1 238.5h1.2v1.2h-1.2zM55.1 242.0h1.2v1.2h-1.2zM49.0 247.9h1.2v1.2h-1.2zM61.4 236.8h1.2v1.2h-1.2zM49.2 239.0h1.2v1.2h-1.2zM49.6 239.5h1.2v1.2h-1.2zM63.2 241.3h1.2v1.2h-1.2zM55.7 236.4h1.2v1.2h-1.2zM55.6 231.8h1.2v1.2h-1.2zM57.1 236.4h1.2v1.2h-1.2zM50.8 234.6h1.2v1.2h-1.2zM60.2 234.6h1.2v1.2h-1.2zM43.1 250.1h1.2v1.2h-1.2zM60.8 244.7h1.2v1.2h-1.2zM58.6 238.6h1.2v1.2h-1.2zM60.0 235.6h1.2v1.2h-1.2zM53.1 241.7h1.2v1.2h-1.2zM58.8 236.5h1.2v1.2h-1.2zM57.9 235.1h1.2v1.2h-1.2zM59.8 242.0h1.2v1.2h-1.2zM60.6 236.2h1.2v1.2h-1.2zM57.2 254.2h1.2v1.2h-1.2zM54.2 253.1h1.2v1.2h-1.2zM55.8 242.4h1.2v1.2h-1.2zM54.3 240.9h1.2v1.2h-1.2zM57.5 237.4h1.2v1.2h-1.2zM45.3 241.4h1.2v1.2h-1.2zM57.3 243.4h1.2v1.2h-1.2zM56.8 243.7h1.2v1.2h-1.2zM51.9 239.9h1.2v1.2h-1.2zM63.7 232.4h1.2v1.2h-1.2zM55.7 238.9h1.2v1.2h-1.2zM51.9 231.6h1.2v1.2h-1.2zM59.5 244.3h1.2v1.2h-1.2zM55.0 232.5h1.2v1.2h-1.2zM56.5 243.2h1.2v1.2h-1.2zM52.6 246.4h1.2v1.2h-1.2zM46.2 238.0h1.2v1.2h-1.2zM59.6 235.3h1.2v1.2h-1.2zM51.5 230.9h1.2v1.2h-1.2zM51.5 245.5h1.2v1.2h-1.2zM62.6 247.6h1.2v1.2h-1.2zM53.7 244.0h1.2v1.2h-1.2zM58.0 237.4h1.2v1.2h-1.2zM53.3 228.8h1.2v1.2h-1.2zM57.5 233.1h1.2v1.2h-1.2zM55.3 245.5h1.2v1.2h-1.2zM60.8 247.9h1.2v1.2h-1.2zM59.2 243.4h1.2v1.2h-1.2zM55.0 230.0h1.2v1.2h-1.2zM55.6 243.8h1.2v1.2h-1.2zM58.4 245.3h1.2v1.2h-1.2zM53.2 236.7h1.2v1.2h-1.2zM58.1 243.0h1.2v1.2h-1.2zM61.1 248.3h1.2v1.2h-1.2zM54.4 242.9h1.2v1.2h-1.2zM61.4 245.0h1.2v1.2h-1.2zM62.0 234.2h1.2v1.2h-1.2zM57.1 234.4h1.2v1.2h-1.2zM60.4 228.5h1.2v1.2h-1.2zM58.7 236.0h1.2v1.2h-1.2zM57.9 234.0h1.2v1.2h-1.2zM49.6 238.2h1.2v1.2h-1.2zM53.1 224.9h1.2v1.2h-1.2zM50.9 250.9h1.2v1.2h-1.2zM62.9 227.4h1.2v1.2h-1.2zM56.4 242.1h1.2v1.2h-1.2zM48.2 237.1h1.2v1.2h-1.2zM56.8 240.5h1.2v1.2h-1.2zM52.5 230.3h1.2v1.2h-1.2zM47.4 250.9h1.2v1.2h-1.2zM56.7 236.3h1.2v1.2h-1.2zM56.7 237.5h1.2v1.2h-1.2zM50.2 239.6h1.2v1.2h-1.2zM58.0 235.8h1.2v1.2h-1.2zM61.5 235.6h1.2v1.2h-1.2zM45.5 244.2h1.2v1.2h-1.2zM62.5 250.7h1.2v1.2h-1.2zM56.6 244.1h1.2v1.2h-1.2zM58.8 238.9h1.2v1.2h-1.2zM57.4 218.4h1.2v1.2h-1.2zM53.5 238.9h1.2v1.2h-1.2zM58.3 237.2h1.2v1.2h-1.2zM60.1 245.1h1.2v1.2h-1.2zM59.0 231.6h1.2v1.2h-1.2zM54.9 238.8h1.2v1.2h-1.2zM56.8 248.8h1.2v1.2h-1.2zM53.0 243.9h1.2v1.2h-1.2zM53.5 231.6h1.2v1.2h-1.2zM58.8 242.1h1.2v1.2h-1.2zM55.3 226.5h1.2v1.2h-1.2zM54.6 231.1h1.2v1.2h-1.2zM58.3 236.3h1.2v1.2h-1.2zM58.8 246.0h1.2v1.2h-1.2zM58.1 227.4h1.2v1.2h-1.2zM51.7 235.8h1.2v1.2h-1.2zM58.2 227.4h1.2v1.2h-1.2zM57.6 246.6h1.2v1.2h-1.2zM51.7 246.7h1.2v1.2h-1.2zM59.1 252.3h1.2v1.2h-1.2zM55.9 224.4h1.2v1.2h-1.2zM53.0 241.9h1.2v1.2h-1.2zM57.6 242.1h1.2v1.2h-1.2zM53.6 228.7h1.2v1.2h-1.2zM49.4 234.4h1.2v1.2h-1.2zM57.3 228.9h1.2v1.2h-1.2zM61.3 243.6h1.2v1.2h-1.2zM61.3 239.9h1.2v1.2h-1.2zM63.7 232.9h1.2v1.2h-1.2zM55.4 243.2h1.2v1.2h-1.2zM55.6 235.9h1.2v1.2h-1.2zM54.8 228.5h1.2v1.2h-1.2zM62.4 233.1h1.2v1.2h-1.2zM50.1 249.6h1.2v1.2h-1.2zM52.9 243.4h1.2v1.2h-1.2zM55.7 235.8h1.2v1.2h-1.2zM54.3 237.5h1.2v1.2h-1.2zM57.8 239.1h1.2v1.2h-1.2zM53.7 233.2h1.2v1.2h-1.2zM52.9 238.5h1.2v1.2h-1.2zM50.2 238.4h1.2v1.2h-1.2zM59.7 232.9h1.2v1.2h-1.2zM53.2 238.6h1.2v1.2h-1.2zM52.9 240.6h1.2v1.2h-1.2zM60.8 248.9h1.2v1.2h-1.2zM54.7 217.4h1.2v1.2h-1.2zM57.0 245.8h1.2v1.2h-1.2zM50.5 233.5h1.2v1.2h-1.2zM56.1 250.4h1.2v1.2h-1.2zM59.5 251.4h1.2v1.2h-1.2zM55.8 241.4h1.2v1.2h-1.2zM53.8 237.9h1.2v1.2h-1.2zM54.7 239.0h1.2v1.2h-1.2zM57.0 230.6h1.2v1.2h-1.2zM53.9 238.1h1.2v1.2h-1.2zM52.4 241.7h1.2v1.2h-1.2zM63.2 239.5h1.2v1.2h-1.2zM58.1 231.7h1.2v1.2h-1.2zM61.8 228.8h1.2v1.2h-1.2zM55.6 236.9h1.2v1.2h-1.2zM55.8 245.2h1.2v1.2h-1.2zM49.4 239.1h1.2v1.2h-1.2zM62.2 247.5h1.2v1.2h-1.2zM58.2 237.3h1.2v1.2h-1.2zM54.4 236.8h1.2v1.2h-1.2zM60.8 236.2h1.2v1.2h-1.2zM57.7 240.5h1.2v1.2h-1.2zM55.2 231.7h1.2v1.2h-1.2zM53.3 236.8h1.2v1.2h-1.2zM55.2 234.4h1.2v1.2h-1.2zM54.2 230.8h1.2v1.2h-1.2zM56.6 227.8h1.2v1.2h-1.2zM51.5 242.8h1.2v1.2h-1.2zM53.3 233.7h1.2v1.2h-1.2zM63.0 228.2h1.2v1.2h-1.2zM51.0 234.1h1.2v1.2h-1.2zM53.1 237.9h1.2v1.2h-1.2zM55.7 249.7h1.2v1.2h-1.2zM56.3 224.5h1.2v1.2h-1.2zM61.9 234.3h1.2v1.2h-1.2zM53.6 243.9h1.2v1.2h-1.2zM58.1 237.0h1.2v1.2h-1.2zM55.6 245.4h1.2v1.2h-1.2zM59.6 239.6h1.2v1.2h-1.2zM52.1 247.7h1.2v1.2h-1.2zM54.2 241.2h1.2v1.2h-1.2zM54.3 233.5h1.2v1.2h-1.2zM56.2 221.1h1.2v1.2h-1.2zM60.9 233.9h1.2v1.2h-1.2zM56.2 232.3h1.2v1.2h-1.2zM54.1 243.2h1.2v1.2h-1.2zM57.2 234.3h1.2v1.2h-1.2zM58.9 235.1h1.2v1.2h-1.2zM51.4 243.0h1.2v1.2h-1.2zM55.6 229.2h1.2v1.2h-1.2zM61.6 249.3h1.2v1.2h-1.2zM51.4 242.7h1.2v1.2h-1.2zM52.6 231.6h1.2v1.2h-1.2zM59.2 244.3h1.2v1.2h-1.2zM65.0 245.0h1.2v1.2h-1.2zM66.7 239.6h1.2v1.2h-1.2zM56.4 237.5h1.2v1.2h-1.2zM54.4 242.1h1.2v1.2h-1.2zM55.4 241.3h1.2v1.2h-1.2zM51.8 232.7h1.2v1.2h-1.2zM46.8 242.5h1.2v1.2h-1.2zM57.3 229.1h1.2v1.2h-1.2zM55.8 238.3h1.2v1.2h-1.2zM58.3 232.4h1.2v1.2h-1.2zM56.3 233.0h1.2v1.2h-1.2zM55.7 239.0h1.2v1.2h-1.2zM58.3 250.4h1.2v1.2h-1.2zM50.4 247.2h1.2v1.2h-1.2zM56.9 234.2h1.2v1.2h-1.2zM63.6 234.5h1.2v1.2h-1.2zM63.5 227.9h1.2v1.2h-1.2zM63.8 241.1h1.2v1.2h-1.2zM54.7 243.6h1.2v1.2h-1.2zM56.2 232.1h1.2v1.2h-1.2zM54.5 238.8h1.2v1.2h-1.2zM47.8 228.3h1.2v1.2h-1.2zM61.5 231.3h1.2v1.2h-1.2zM58.1 239.1h1.2v1.2h-1.2zM59.3 245.0h1.2v1.2h-1.2zM55.7 219.0h1.2v1.2h-1.2zM57.3 229.7h1.2v1.2h-1.2zM53.7 240.0h1.2v1.2h-1.2zM50.9 238.6h1.2v1.2h-1.2zM61.1 247.7h1.2v1.2h-1.2zM58.2 238.8h1.2v1.2h-1.2zM58.2 236.7h1.2v1.2h-1.2zM50.6 247.0h1.2v1.2h-1.2zM60.6 235.1h1.2v1.2h-1.2zM52.5 244.9h1.2v1.2h-1.2zM57.4 245.3h1.2v1.2h-1.2zM56.5 236.2h1.2v1.2h-1.2zM56.7 242.5h1.2v1.2h-1.2zM53.1 237.6h1.2v1.2h-1.2zM53.7 235.8h1.2v1.2h-1.2zM59.5 232.9h1.2v1.2h-1.2zM57.6 242.9h1.2v1.2h-1.2zM53.3 237.4h1.2v1.2h-1.2zM48.5 242.7h1.2v1.2h-1.2zM56.1 245.4h1.2v1.2h-1.2zM54.8 230.5h1.2v1.2h-1.2zM57.5 237.6h1.2v1.2h-1.2zM58.6 233.8h1.2v1.2h-1.2zM60.3 231.3h1.2v1.2h-1.2zM56.7 243.2h1.2v1.2h-1.2zM52.8 252.5h1.2v1.2h-1.2zM58.3 238.6h1.2v1.2h-1.2zM59.0 240.7h1.2v1.2h-1.2zM54.1 229.7h1.2v1.2h-1.2zM56.4 241.8h1.2v1.2h-1.2zM57.1 235.4h1.2v1.2h-1.2zM52.2 232.4h1.2v1.2h-1.2zM61.4 234.4h1.2v1.2h-1.2zM58.9 231.8h1.2v1.2h-1.2zM57.3 240.0h1.2v1.2h-1.2zM49.7 237.7h1.2v1.2h-1.2zM55.2 242.0h1.2v1.2h-1.2zM51.8 240.8h1.2v1.2h-1.2zM54.3 239.5h1.2v1.2h-1.2zM55.9 237.8h1.2v1.2h-1.2zM60.1 237.9h1.2v1.2h-1.2zM57.7 237.7h1.2v1.2h-1.2zM43.1 243.7h1.2v1.2h-1.2zM58.2 241.2h1.2v1.2h-1.2zM53.2 239.9h1.2v1.2h-1.2zM58.2 246.5h1.2v1.2h-1.2zM56.4 241.7h1.2v1.2h-1.2zM59.3 231.8h1.2v1.2h-1.2zM57.9 224.5h1.2v1.2h-1.2zM59.8 232.9h1.2v1.2h-1.2zM55.5 242.3h1.2v1.2h-1.2zM51.4 241.0h1.2v1.2h-1.2zM53.3 235.9h1.2v1.2h-1.2zM54.9 227.5h1.2v1.2h-1.2zM55.8 241.7h1.2v1.2h-1.2zM55.7 241.5h1.2v1.2h-1.2zM49.7 241.0h1.2v1.2h-1.2zM48.3 252.1h1.2v1.2h-1.2zM59.4 229.3h1.2v1.2h-1.2zM54.3 237.0h1.2v1.2h-1.2zM57.0 239.4h1.2v1.2h-1.2zM51.4 246.2h1.2v1.2h-1.2zM60.0 244.6h1.2v1.2h-1.2zM59.5 245.6h1.2v1.2h-1.2zM66.2 243.0h1.2v1.2h-1.2zM56.0 238.8h1.2v1.2h-1.2zM60.9 230.7h1.2v1.2h-1.2zM52.8 231.8h1.2v1.2h-1.2zM63.8 232.5h1.2v1.2h-1.2zM54.0 238.6h1.2v1.2h-1.2zM58.8 245.7h1.2v1.2h-1.2zM56.3 236.5h1.2v1.2h-1.2zM61.1 247.0h1.2v1.2h-1.2zM56.9 232.9h1.2v1.2h-1.2zM53.8 228.6h1.2v1.2h-1.2zM53.0 232.2h1.2v1.2h-1.2zM56.4 229.5h1.2v1.2h-1.2zM55.7 230.5h1.2v1.2h-1.2zM60.9 236.7h1.2v1.2h-1.2zM55.4 243.9h1.2v1.2h-1.2zM58.5 244.0h1.2v1.2h-1.2zM53.9 241.7h1.2v1.2h-1.2zM60.4 240.3h1.2v1.2h-1.2zM54.8 244.6h1.2v1.2h-1.2zM53.5 239.9h1.2v1.2h-1.2zM54.5 243.0h1.2v1.2h-1.2zM50.1 236.0h1.2v1.2h-1.2zM51.6 236.0h1.2v1.2h-1.2zM65.0 239.8h1.2v1.2h-1.2zM54.7 244.2h1.2v1.2h-1.2zM59.6 240.5h1.2v1.2h-1.2zM48.5 240.0h1.2v1.2h-1.2zM55.0 248.3h1.2v1.2h-1.2zM60.5 237.5h1.2v1.2h-1.2zM58.0 242.0h1.2v1.2h-1.2zM60.0 245.7h1.2v1.2h-1.2zM53.3 238.3h1.2v1.2h-1.2zM63.1 238.4h1.2v1.2h-1.2zM50.2 242.6h1.2v1.2h-1.2zM50.4 243.7h1.2v1.2h-1.2zM57.3 238.9h1.2v1.2h-1.2zM56.6 239.4h1.2v1.2h-1.2zM56.1 230.9h1.2v1.2h-1.2zM45.6 244.4h1.2v1.2h-1.2zM53.6 236.4h1.2v1.2h-1.2zM57.3 240.1h1.2v1.2h-1.2zM50.3 234.4h1.2v1.2h-1.2zM55.3 244.2h1.2v1.2h-1.2zM60.4 240.0h1.2v1.2h-1.2zM47.3 239.9h1.2v1.2h-1.2zM50.8 230.0h1.2v1.2h-1.2zM56.5 244.5h1.2v1.2h-1.2zM64.7 246.5h1.2v1.2h-1.2zM58.4 237.2h1.2v1.2h-1.2zM64.3 242.5h1.2v1.2h-1.2zM53.8 234.5h1.2v1.2h-1.2zM50.7 229.5h1.2v1.2h-1.2zM56.5 242.1h1.2v1.2h-1.2zM52.4 236.8h1.2v1.2h-1.2zM63.5 229.7h1.2v1.2h-1.2zM56.5 244.3h1.2v1.2h-1.2zM53.6 241.9h1.2v1.2h-1.2zM57.6 232.4h1.2v1.2h-1.2zM56.3 239.0h1.2v1.2h-1.2zM59.5 246.3h1.2v1.2h-1.2zM60.3 243.8h1.2v1.2h-1.2zM53.7 240.8h1.2v1.2h-1.2zM58.4 229.4h1.2v1.2h-1.2zM53.2 241.8h1.2v1.2h-1.2zM64.0 235.9h1.2v1.2h-1.2zM55.1 234.3h1.2v1.2h-1.2zM52.1 244.7h1.2v1.2h-1.2zM56.8 239.2h1.2v1.2h-1.2zM60.3 243.2h1.2v1.2h-1.2zM52.2 243.7h1.2v1.2h-1.2zM58.4 235.6h1.2v1.2h-1.2zM59.4 241.3h1.2v1.2h-1.2zM60.9 248.0h1.2v1.2h-1.2zM66.0 226.3h1.2v1.2h-1.2zM63.9 238.9h1.2v1.2h-1.2zM61.3 238.9h1.2v1.2h-1.2zM56.5 239.7h1.2v1.2h-1.2zM49.7 233.9h1.2v1.2h-1.2zM62.5 240.8h1.2v1.2h-1.2zM54.4 256.4h1.2v1.2h-1.2zM58.3 232.9h1.2v1.2h-1.2zM61.7 238.1h1.2v1.2h-1.2zM48.9 234.9h1.2v1.2h-1.2zM53.8 243.9h1.2v1.2h-1.2zM54.4 237.1h1.2v1.2h-1.2zM62.5 240.1h1.2v1.2h-1.2zM57.4 257.0h1.2v1.2h-1.2zM59.4 233.0h1.2v1.2h-1.2zM56.3 238.3h1.2v1.2h-1.2zM57.3 236.2h1.2v1.2h-1.2zM58.3 243.3h1.2v1.2h-1.2zM55.0 243.3h1.2v1.2h-1.2zM51.1 239.7h1.2v1.2h-1.2zM56.4 234.6h1.2v1.2h-1.2zM54.4 245.4h1.2v1.2h-1.2zM60.2 247.7h1.2v1.2h-1.2zM64.4 236.5h1.2v1.2h-1.2zM58.2 242.2h1.2v1.2h-1.2zM51.6 243.6h1.2v1.2h-1.2zM57.5 239.1h1.2v1.2h-1.2zM55.9 232.5h1.2v1.2h-1.2zM61.0 232.3h1.2v1.2h-1.2zM54.4 243.5h1.2v1.2h-1.2zM61.7 245.1h1.2v1.2h-1.2zM58.9 242.3h1.2v1.2h-1.2zM56.0 232.6h1.2v1.2h-1.2zM56.8 241.5h1.2v1.2h-1.2zM50.2 242.1h1.2v1.2h-1.2zM56.3 244.4h1.2v1.2h-1.2zM63.1 238.4h1.2v1.2h-1.2zM56.0 249.8h1.2v1.2h-1.2zM59.3 246.1h1.2v1.2h-1.2zM57.2 234.2h1.2v1.2h-1.2zM56.1 229.1h1.2v1.2h-1.2zM51.3 240.8h1.2v1.2h-1.2zM55.7 242.4h1.2v1.2h-1.2zM61.7 235.1h1.2v1.2h-1.2zM52.9 239.4h1.2v1.2h-1.2zM54.0 240.0h1.2v1.2h-1.2zM53.9 240.9h1.2v1.2h-1.2zM54.9 243.6h1.2v1.2h-1.2zM54.8 241.3h1.2v1.2h-1.2zM55.1 246.8h1.2v1.2h-1.2zM59.1 235.3h1.2v1.2h-1.2zM51.0 240.8h1.2v1.2h-1.2zM50.0 245.4h1.2v1.2h-1.2zM54.1 242.0h1.2v1.2h-1.2zM56.7 249.5h1.2v1.2h-1.2zM51.7 247.2h1.2v1.2h-1.2zM58.5 243.2h1.2v1.2h-1.2zM56.6 226.9h1.2v1.2h-1.2zM54.2 239.7h1.2v1.2h-1.2zM55.1 239.4h1.2v1.2h-1.2zM54.4 222.6h1.2v1.2h-1.2zM52.8 238.4h1.2v1.2h-1.2zM54.4 235.8h1.2v1.2h-1.2zM52.4 234.1h1.2v1.2h-1.2zM59.1 225.7h1.2v1.2h-1.2zM56.8 249.5h1.2v1.2h-1.2zM51.0 240.3h1.2v1.2h-1.2zM54.5 235.3h1.2v1.2h-1.2zM54.7 233.5h1.2v1.2h-1.2zM57.5 232.9h1.2v1.2h-1.2zM57.0 236.2h1.2v1.2h-1.2zM54.2 240.3h1.2v1.2h-1.2zM59.2 236.1h1.2v1.2h-1.2zM64.3 242.3h1.2v1.2h-1.2zM53.3 227.3h1.2v1.2h-1.2zM56.9 231.7h1.2v1.2h-1.2zM53.2 236.4h1.2v1.2h-1.2zM54.6 227.8h1.2v1.2h-1.2zM53.1 238.3h1.2v1.2h-1.2zM62.9 227.5h1.2v1.2h-1.2zM52.9 246.0h1.2v1.2h-1.2zM54.7 235.8h1.2v1.2h-1.2zM51.4 239.7h1.2v1.2h-1.2zM52.0 236.0h1.2v1.2h-1.2zM66.2 234.9h1.2v1.2h-1.2zM62.0 241.4h1.2v1.2h-1.2zM53.8 235.6h1.2v1.2h-1.2zM51.9 239.7h1.2v1.2h-1.2zM58.8 238.1h1.2v1.2h-1.2zM55.9 232.5h1.2v1.2h-1.2zM54.4 245.4h1.2v1.2h-1.2zM58.9 228.4h1.2v1.2h-1.2zM47.9 237.3h1.2v1.2h-1.2zM57.7 241.3h1.2v1.2h-1.2zM60.2 244.9h1.2v1.2h-1.2zM52.0 241.1h1.2v1.2h-1.2zM55.0 241.7h1.2v1.2h-1.2zM54.9 231.9h1.2v1.2h-1.2zM53.8 249.0h1.2v1.2h-1.2zM62.5 236.2h1.2v1.2h-1.2zM60.6 246.1h1.2v1.2h-1.2zM58.5 234.5h1.2v1.2h-1.2zM51.8 242.3h1.2v1.2h-1.2zM58.6 244.7h1.2v1.2h-1.2zM60.4 237.7h1.2v1.2h-1.2zM58.0 227.4h1.2v1.2h-1.2zM63.4 239.9h1.2v1.2h-1.2zM52.9 245.8h1.2v1.2h-1.2zM54.2 240.3h1.2v1.2h-1.2zM52.9 236.9h1.2v1.2h-1.2zM52.0 230.4h1.2v1.2h-1.2zM48.6 242.0h1.2v1.2h-1.2zM56.8 247.1h1.2v1.2h-1.2zM55.9 234.4h1.2v1.2h-1.2zM59.3 233.6h1.2v1.2h-1.2zM55.3 241.7h1.2v1.2h-1.2zM64.2 237.5h1.2v1.2h-1.2zM57.0 241.2h1.2v1.2h-1.2zM61.3 235.9h1.2v1.2h-1.2zM60.6 236.5h1.2v1.2h-1.2zM53.9 244.5h1.2v1.2h-1.2zM53.8 249.9h1.2v1.2h-1.2zM59.4 224.5h1.2v1.2h-1.2zM57.1 237.9h1.2v1.2h-1.2zM51.1 236.5h1.2v1.2h-1.2zM54.6 242.3h1.2v1.2h-1.2zM52.9 236.7h1.2v1.2h-1.2zM53.1 238.4h1.2v1.2h-1.2zM52.1 245.8h1.2v1.2h-1.2zM58.4 243.7h1.2v1.2h-1.2zM59.7 230.7h1.2v1.2h-1.2zM53.7 239.2h1.2v1.2h-1.2zM52.3 247.4h1.2v1.2h-1.2zM62.1 229.7h1.2v1.2h-1.2zM55.3 236.8h1.2v1.2h-1.2zM57.7 238.6h1.2v1.2h-1.2zM57.7 238.6h1.2v1.2h-1.2zM55.4 243.0h1.2v1.2h-1.2zM59.8 241.1h1.2v1.2h-1.2zM59.7 246.6h1.2v1.2h-1.2zM54.0 238.5h1.2v1.2h-1.2zM56.5 238.3h1.2v1.2h-1.2zM57.4 240.0h1.2v1.2h-1.2zM48.9 240.6h1.2v1.2h-1.2zM56.7 234.1h1.2v1.2h-1.2zM59.3 228.6h1.2v1.2h-1.2zM58.7 251.2h1.2v1.2h-1.2zM57.4 242.8h1.2v1.2h-1.2zM62.6 225.7h1.2v1.2h-1.2zM54.5 244.8h1.2v1.2h-1.2zM56.9 248.4h1.2v1.2h-1.2zM52.7 234.2h1.2v1.2h-1.2zM60.1 236.2h1.2v1.2h-1.2zM54.3 233.0h1.2v1.2h-1.2zM51.0 241.7h1.2v1.2h-1.2zM55.9 246.3h1.2v1.2h-1.2zM61.1 238.9h1.2v1.2h-1.2zM55.1 236.4h1.2v1.2h-1.2zM60.4 247.9h1.2v1.2h-1.2zM56.1 237.3h1.2v1.2h-1.2zM50.9 243.6h1.2v1.2h-1.2zM53.0 233.8h1.2v1.2h-1.2zM59.1 235.2h1.2v1.2h-1.2zM49.4 239.5h1.2v1.2h-1.2zM61.9 236.8h1.2v1.2h-1.2zM50.3 242.4h1.2v1.2h-1.2zM57.7 231.9h1.2v1.2h-1.2zM60.1 242.9h1.2v1.2h-1.2zM57.5 240.3h1.2v1.2h-1.2zM52.7 240.2h1.2v1.2h-1.2zM53.0 236.4h1.2v1.2h-1.2z" fill="#2b55b0"/>
<path d="M53.2 245.6h1.2v1.2h-1.2zM59.9 233.6h1.2v1.2h-1.2zM60.3 229.5h1.2v1.2h-1.2zM57.9 231.6h1.2v1.2h-1.2zM56.9 240.4h1.2v1.2h-1.2zM57.3 242.7h1.2v1.2h-1.2zM56.4 240.3h1.2v1.2h-1.2zM55.0 241.9h1.2v1.2h-1.2zM56.2 234.0h1.2v1.2h-1.2zM56.3 241.3h1.2v1.2h-1.2zM56.2 234.5h1.2v1.2h-1.2zM51.0 242.5h1.2v1.2h-1.2zM57.9 244.5h1.2v1.2h-1.2zM57.2 238.9h1.2v1.2h-1.2zM57.6 233.9h1.2v1.2h-1.2zM55.0 236.0h1.2v1.2h-1.2zM56.5 245.4h1.2v1.2h-1.2zM57.5 239.0h1.2v1.2h-1.2zM54.9 242.8h1.2v1.2h-1.2zM55.3 229.3h1.2v1.2h-1.2zM59.6 238.5h1.2v1.2h-1.2zM56.2 239.3h1.2v1.2h-1.2zM56.5 247.7h1.2v1.2h-1.2zM59.1 240.8h1.2v1.2h-1.2zM55.0 238.5h1.2v1.2h-1.2zM55.7 236.3h1.2v1.2h-1.2zM59.8 241.2h1.2v1.2h-1.2zM57.1 234.2h1.2v1.2h-1.2zM58.8 235.3h1.2v1.2h-1.2zM56.6 235.9h1.2v1.2h-1.2zM57.2 238.2h1.2v1.2h-1.2zM57.4 236.1h1.2v1.2h-1.2zM55.4 240.6h1.2v1.2h-1.2zM53.8 235.9h1.2v1.2h-1.2zM58.0 238.7h1.2v1.2h-1.2zM55.4 237.5h1.2v1.2h-1.2zM54.7 238.2h1.2v1.2h-1.2zM55.8 234.0h1.2v1.2h-1.2zM51.6 244.8h1.2v1.2h-1.2zM56.8 237.1h1.2v1.2h-1.2zM52.2 239.7h1.2v1.2h-1.2zM53.7 238.5h1.2v1.2h-1.2zM55.5 241.1h1.2v1.2h-1.2zM56.3 241.7h1.2v1.2h-1.2zM54.3 241.2h1.2v1.2h-1.2zM59.7 240.0h1.2v1.2h-1.2zM59.7 232.1h1.2v1.2h-1.2zM55.5 241.4h1.2v1.2h-1.2zM58.9 234.8h1.2v1.2h-1.2zM54.7 245.2h1.2v1.2h-1.2zM57.5 241.8h1.2v1.2h-1.2zM55.1 235.4h1.2v1.2h-1.2zM56.9 229.1h1.2v1.2h-1.2zM57.4 227.9h1.2v1.2h-1.2zM61.0 239.6h1.2v1.2h-1.2zM54.4 240.3h1.2v1.2h-1.2zM57.0 232.0h1.2v1.2h-1.2zM53.1 235.7h1.2v1.2h-1.2zM60.0 231.2h1.2v1.2h-1.2zM58.2 237.1h1.2v1.2h-1.2zM54.4 240.2h1.2v1.2h-1.2zM55.8 245.1h1.2v1.2h-1.2zM59.2 233.5h1.2v1.2h-1.2zM58.6 234.7h1.2v1.2h-1.2zM51.9 241.6h1.2v1.2h-1.2zM57.0 235.7h1.2v1.2h-1.2zM56.1 234.0h1.2v1.2h-1.2zM56.6 242.3h1.2v1.2h-1.2zM51.3 239.9h1.2v1.2h-1.2zM53.3 240.5h1.2v1.2h-1.2zM53.8 242.8h1.2v1.2h-1.2zM62.9 235.4h1.2v1.2h-1.2zM56.2 230.8h1.2v1.2h-1.2zM56.7 233.4h1.2v1.2h-1.2zM54.6 236.3h1.2v1.2h-1.2zM51.6 237.8h1.2v1.2h-1.2zM55.4 230.4h1.2v1.2h-1.2zM54.9 235.6h1.2v1.2h-1.2zM53.2 236.6h1.2v1.2h-1.2zM58.2 240.3h1.2v1.2h-1.2zM51.4 234.9h1.2v1.2h-1.2zM53.2 234.1h1.2v1.2h-1.2zM57.6 237.3h1.2v1.2h-1.2zM54.7 240.9h1.2v1.2h-1.2zM56.9 239.5h1.2v1.2h-1.2zM60.3 235.1h1.2v1.2h-1.2zM61.5 237.8h1.2v1.2h-1.2zM60.0 243.1h1.2v1.2h-1.2zM57.9 239.8h1.2v1.2h-1.2zM56.2 238.9h1.2v1.2h-1.2zM56.4 242.4h1.2v1.2h-1.2zM57.9 229.8h1.2v1.2h-1.2zM56.0 238.4h1.2v1.2h-1.2zM56.0 235.2h1.2v1.2h-1.2zM56.6 238.4h1.2v1.2h-1.2zM59.5 233.2h1.2v1.2h-1.2zM53.6 242.5h1.2v1.2h-1.2zM58.3 238.6h1.2v1.2h-1.2zM56.2 234.1h1.2v1.2h-1.2zM57.2 229.2h1.2v1.2h-1.2zM60.8 233.0h1.2v1.2h-1.2zM57.8 231.6h1.2v1.2h-1.2zM52.5 235.2h1.2v1.2h-1.2zM53.1 245.6h1.2v1.2h-1.2zM59.4 235.7h1.2v1.2h-1.2zM58.7 239.2h1.2v1.2h-1.2zM60.5 236.6h1.2v1.2h-1.2zM52.7 244.7h1.2v1.2h-1.2zM52.6 241.9h1.2v1.2h-1.2zM54.9 230.9h1.2v1.2h-1.2zM54.4 241.6h1.2v1.2h-1.2zM55.5 234.3h1.2v1.2h-1.2zM58.0 235.4h1.2v1.2h-1.2zM49.4 239.9h1.2v1.2h-1.2zM52.1 241.6h1.2v1.2h-1.2zM55.4 231.0h1.2v1.2h-1.2zM56.2 243.0h1.2v1.2h-1.2zM53.6 237.6h1.2v1.2h-1.2zM59.3 234.1h1.2v1.2h-1.2zM54.3 236.8h1.2v1.2h-1.2zM50.0 241.1h1.2v1.2h-1.2zM57.4 236.9h1.2v1.2h-1.2zM55.4 242.2h1.2v1.2h-1.2zM55.5 223.9h1.2v1.2h-1.2zM56.4 245.8h1.2v1.2h-1.2zM54.4 239.9h1.2v1.2h-1.2zM56.2 235.6h1.2v1.2h-1.2zM58.1 234.3h1.2v1.2h-1.2zM57.2 233.4h1.2v1.2h-1.2zM58.0 248.1h1.2v1.2h-1.2zM57.5 246.0h1.2v1.2h-1.2zM52.6 236.6h1.2v1.2h-1.2zM58.4 238.4h1.2v1.2h-1.2zM55.4 242.7h1.2v1.2h-1.2zM52.9 241.0h1.2v1.2h-1.2zM58.9 241.5h1.2v1.2h-1.2zM56.5 235.4h1.2v1.2h-1.2zM56.3 238.7h1.2v1.2h-1.2zM56.7 237.2h1.2v1.2h-1.2zM57.2 246.0h1.2v1.2h-1.2zM48.6 240.7h1.2v1.2h-1.2zM53.4 234.8h1.2v1.2h-1.2zM55.7 238.9h1.2v1.2h-1.2zM57.0 241.1h1.2v1.2h-1.2zM55.1 239.3h1.2v1.2h-1.2zM54.6 242.2h1.2v1.2h-1.2zM55.4 242.7h1.2v1.2h-1.2zM59.7 233.1h1.2v1.2h-1.2zM52.8 235.9h1.2v1.2h-1.2zM59.3 234.4h1.2v1.2h-1.2zM51.7 228.5h1.2v1.2h-1.2zM55.2 238.1h1.2v1.2h-1.2zM54.0 233.2h1.2v1.2h-1.2zM61.8 241.0h1.2v1.2h-1.2zM51.5 233.1h1.2v1.2h-1.2zM59.6 238.8h1.2v1.2h-1.2zM57.1 241.2h1.2v1.2h-1.2zM52.3 237.2h1.2v1.2h-1.2zM58.5 241.5h1.2v1.2h-1.2zM55.3 233.0h1.2v1.2h-1.2zM55.0 233.2h1.2v1.2h-1.2zM56.2 237.2h1.2v1.2h-1.2zM55.9 243.8h1.2v1.2h-1.2zM48.5 238.7h1.2v1.2h-1.2zM53.2 241.4h1.2v1.2h-1.2zM52.8 241.4h1.2v1.2h-1.2zM49.1 240.1h1.2v1.2h-1.2zM56.9 234.5h1.2v1.2h-1.2zM55.5 237.1h1.2v1.2h-1.2zM55.4 237.9h1.2v1.2h-1.2zM51.2 242.2h1.2v1.2h-1.2zM58.8 238.5h1.2v1.2h-1.2zM60.4 238.1h1.2v1.2h-1.2zM54.3 244.0h1.2v1.2h-1.2zM58.8 241.5h1.2v1.2h-1.2zM55.9 230.8h1.2v1.2h-1.2zM55.9 235.1h1.2v1.2h-1.2zM55.0 242.5h1.2v1.2h-1.2zM59.3 243.5h1.2v1.2h-1.2zM59.6 236.3h1.2v1.2h-1.2zM49.9 235.6h1.2v1.2h-1.2zM56.9 234.9h1.2v1.2h-1.2zM54.5 248.5h1.2v1.2h-1.2zM61.3 234.8h1.2v1.2h-1.2zM57.3 243.0h1.2v1.2h-1.2zM55.8 236.8h1.2v1.2h-1.2zM57.2 239.8h1.2v1.2h-1.2zM58.2 236.1h1.2v1.2h-1.2zM52.2 239.4h1.2v1.2h-1.2zM60.4 233.3h1.2v1.2h-1.2zM55.5 240.7h1.2v1.2h-1.2zM52.0 234.0h1.2v1.2h-1.2zM62.8 237.3h1.2v1.2h-1.2zM54.4 236.8h1.2v1.2h-1.2zM57.6 229.6h1.2v1.2h-1.2zM55.0 237.2h1.2v1.2h-1.2zM51.4 236.7h1.2v1.2h-1.2zM51.2 243.1h1.2v1.2h-1.2zM56.4 234.4h1.2v1.2h-1.2zM51.5 232.4h1.2v1.2h-1.2zM59.4 241.5h1.2v1.2h-1.2zM50.5 240.8h1.2v1.2h-1.2zM54.5 241.3h1.2v1.2h-1.2zM59.4 239.0h1.2v1.2h-1.2zM61.1 233.4h1.2v1.2h-1.2zM55.1 235.6h1.2v1.2h-1.2zM51.7 239.7h1.2v1.2h-1.2zM60.3 233.5h1.2v1.2h-1.2zM53.7 237.5h1.2v1.2h-1.2zM57.8 235.7h1.2v1.2h-1.2zM53.1 237.1h1.2v1.2h-1.2zM54.7 237.0h1.2v1.2h-1.2zM58.1 235.4h1.2v1.2h-1.2zM55.2 236.2h1.2v1.2h-1.2zM59.2 232.2h1.2v1.2h-1.2zM59.2 233.3h1.2v1.2h-1.2zM57.5 235.7h1.2v1.2h-1.2zM50.4 242.0h1.2v1.2h-1.2zM56.9 242.6h1.2v1.2h-1.2zM57.2 234.5h1.2v1.2h-1.2zM60.9 238.8h1.2v1.2h-1.2zM51.0 239.2h1.2v1.2h-1.2zM54.0 244.7h1.2v1.2h-1.2zM58.5 235.7h1.2v1.2h-1.2zM58.0 239.6h1.2v1.2h-1.2zM54.1 238.2h1.2v1.2h-1.2zM57.7 240.3h1.2v1.2h-1.2zM53.7 233.7h1.2v1.2h-1.2zM55.6 242.6h1.2v1.2h-1.2zM54.5 228.7h1.2v1.2h-1.2zM56.2 243.8h1.2v1.2h-1.2zM54.8 235.8h1.2v1.2h-1.2zM57.3 238.6h1.2v1.2h-1.2zM54.6 245.7h1.2v1.2h-1.2zM58.9 236.2h1.2v1.2h-1.2zM56.7 233.3h1.2v1.2h-1.2zM58.5 245.1h1.2v1.2h-1.2zM54.9 234.7h1.2v1.2h-1.2zM59.5 234.4h1.2v1.2h-1.2zM49.7 237.8h1.2v1.2h-1.2zM53.7 239.9h1.2v1.2h-1.2zM55.2 241.8h1.2v1.2h-1.2zM56.2 243.1h1.2v1.2h-1.2zM54.3 229.7h1.2v1.2h-1.2zM55.4 233.6h1.2v1.2h-1.2zM56.1 235.9h1.2v1.2h-1.2zM55.1 232.5h1.2v1.2h-1.2zM54.5 234.8h1.2v1.2h-1.2zM56.1 237.3h1.2v1.2h-1.2zM52.6 232.9h1.2v1.2h-1.2zM58.7 244.7h1.2v1.2h-1.2zM60.8 237.5h1.2v1.2h-1.2zM55.8 242.8h1.2v1.2h-1.2zM61.1 236.6h1.2v1.2h-1.2zM54.8 238.3h1.2v1.2h-1.2zM56.3 235.2h1.2v1.2h-1.2zM57.5 241.8h1.2v1.2h-1.2zM51.9 245.9h1.2v1.2h-1.2zM55.7 232.3h1.2v1.2h-1.2zM56.7 239.8h1.2v1.2h-1.2zM58.2 233.8h1.2v1.2h-1.2zM53.8 242.1h1.2v1.2h-1.2zM56.5 233.8h1.2v1.2h-1.2zM57.8 241.4h1.2v1.2h-1.2zM62.6 234.5h1.2v1.2h-1.2zM53.3 242.5h1.2v1.2h-1.2zM56.4 241.4h1.2v1.2h-1.2zM58.6 240.8h1.2v1.2h-1.2zM56.5 250.1h1.2v1.2h-1.2zM54.8 240.9h1.2v1.2h-1.2zM57.0 236.0h1.2v1.2h-1.2zM59.2 243.3h1.2v1.2h-1.2zM55.1 235.6h1.2v1.2h-1.2zM53.2 236.9h1.2v1.2h-1.2zM54.3 243.4h1.2v1.2h-1.2zM56.5 236.8h1.2v1.2h-1.2zM51.8 240.9h1.2v1.2h-1.2zM59.0 246.1h1.2v1.2h-1.2zM54.2 236.4h1.2v1.2h-1.2zM58.3 233.5h1.2v1.2h-1.2zM54.1 239.8h1.2v1.2h-1.2zM57.7 233.6h1.2v1.2h-1.2zM58.2 231.6h1.2v1.2h-1.2zM54.0 240.5h1.2v1.2h-1.2zM56.1 241.4h1.2v1.2h-1.2zM57.8 237.5h1.2v1.2h-1.2zM53.6 235.9h1.2v1.2h-1.2zM53.4 238.7h1.2v1.2h-1.2zM52.9 235.6h1.2v1.2h-1.2zM53.3 240.4h1.2v1.2h-1.2zM54.9 240.8h1.2v1.2h-1.2zM56.4 231.8h1.2v1.2h-1.2zM54.1 244.2h1.2v1.2h-1.2zM58.0 235.4h1.2v1.2h-1.2zM61.4 238.2h1.2v1.2h-1.2zM57.1 233.7h1.2v1.2h-1.2zM53.4 232.5h1.2v1.2h-1.2zM53.6 238.6h1.2v1.2h-1.2zM60.4 238.3h1.2v1.2h-1.2zM59.8 241.1h1.2v1.2h-1.2zM59.0 243.3h1.2v1.2h-1.2zM52.5 245.0h1.2v1.2h-1.2zM56.5 234.0h1.2v1.2h-1.2zM56.1 237.7h1.2v1.2h-1.2zM55.7 237.5h1.2v1.2h-1.2zM54.5 242.3h1.2v1.2h-1.2zM53.7 237.4h1.2v1.2h-1.2zM61.0 237.2h1.2v1.2h-1.2zM53.3 245.0h1.2v1.2h-1.2zM55.8 239.5h1.2v1.2h-1.2zM54.2 237.6h1.2v1.2h-1.2zM56.0 238.4h1.2v1.2h-1.2zM60.0 239.4h1.2v1.2h-1.2zM52.2 237.1h1.2v1.2h-1.2zM56.4 245.2h1.2v1.2h-1.2zM54.1 239.4h1.2v1.2h-1.2zM54.2 243.9h1.2v1.2h-1.2zM54.1 238.4h1.2v1.2h-1.2zM58.1 240.2h1.2v1.2h-1.2zM58.0 235.3h1.2v1.2h-1.2zM52.3 238.4h1.2v1.2h-1.2zM60.5 235.7h1.2v1.2h-1.2zM60.0 233.5h1.2v1.2h-1.2zM57.2 237.3h1.2v1.2h-1.2zM59.3 238.9h1.2v1.2h-1.2zM61.5 240.4h1.2v1.2h-1.2zM55.7 234.9h1.2v1.2h-1.2zM51.7 237.6h1.2v1.2h-1.2zM54.7 241.2h1.2v1.2h-1.2zM55.7 227.6h1.2v1.2h-1.2zM56.9 234.5h1.2v1.2h-1.2zM57.4 239.8h1.2v1.2h-1.2zM57.0 247.1h1.2v1.2h-1.2zM58.2 230.3h1.2v1.2h-1.2zM56.4 238.6h1.2v1.2h-1.2zM55.2 235.3h1.2v1.2h-1.2zM57.4 238.0h1.2v1.2h-1.2zM56.8 240.0h1.2v1.2h-1.2zM58.1 237.2h1.2v1.2h-1.2zM53.9 242.2h1.2v1.2h-1.2zM58.9 240.7h1.2v1.2h-1.2zM51.8 236.5h1.2v1.2h-1.2zM60.2 244.6h1.2v1.2h-1.2zM52.8 236.3h1.2v1.2h-1.2zM55.7 242.2h1.2v1.2h-1.2zM61.3 233.1h1.2v1.2h-1.2zM54.9 239.7h1.2v1.2h-1.2zM54.8 229.8h1.2v1.2h-1.2zM58.1 231.9h1.2v1.2h-1.2zM59.5 238.5h1.2v1.2h-1.2zM54.1 235.9h1.2v1.2h-1.2zM54.9 244.7h1.2v1.2h-1.2zM60.0 236.8h1.2v1.2h-1.2zM57.6 249.9h1.2v1.2h-1.2zM60.5 236.4h1.2v1.2h-1.2zM57.2 235.0h1.2v1.2h-1.2zM57.4 236.7h1.2v1.2h-1.2zM55.2 240.9h1.2v1.2h-1.2zM54.9 237.5h1.2v1.2h-1.2zM51.1 243.8h1.2v1.2h-1.2zM57.8 236.4h1.2v1.2h-1.2zM53.0 237.3h1.2v1.2h-1.2zM55.6 234.5h1.2v1.2h-1.2zM58.6 247.8h1.2v1.2h-1.2zM60.9 245.6h1.2v1.2h-1.2zM55.2 235.9h1.2v1.2h-1.2zM52.4 247.9h1.2v1.2h-1.2zM60.7 232.7h1.2v1.2h-1.2zM51.7 236.4h1.2v1.2h-1.2zM55.0 239.8h1.2v1.2h-1.2zM56.0 236.3h1.2v1.2h-1.2zM51.9 236.1h1.2v1.2h-1.2zM59.3 241.7h1.2v1.2h-1.2zM57.4 244.8h1.2v1.2h-1.2zM59.4 228.9h1.2v1.2h-1.2zM58.3 244.7h1.2v1.2h-1.2zM55.5 246.3h1.2v1.2h-1.2zM59.0 240.6h1.2v1.2h-1.2zM57.4 233.4h1.2v1.2h-1.2zM59.9 231.2h1.2v1.2h-1.2zM53.0 239.9h1.2v1.2h-1.2zM56.8 227.8h1.2v1.2h-1.2zM56.0 236.5h1.2v1.2h-1.2zM51.4 239.5h1.2v1.2h-1.2zM55.6 238.9h1.2v1.2h-1.2zM55.4 233.9h1.2v1.2h-1.2zM52.0 244.4h1.2v1.2h-1.2zM56.6 238.6h1.2v1.2h-1.2zM55.5 235.1h1.2v1.2h-1.2zM56.8 236.1h1.2v1.2h-1.2zM57.1 231.2h1.2v1.2h-1.2zM57.6 238.0h1.2v1.2h-1.2zM54.5 232.7h1.2v1.2h-1.2zM54.9 240.2h1.2v1.2h-1.2zM57.9 247.9h1.2v1.2h-1.2zM56.9 233.8h1.2v1.2h-1.2zM61.9 224.7h1.2v1.2h-1.2zM61.7 230.5h1.2v1.2h-1.2zM52.9 233.8h1.2v1.2h-1.2zM58.3 232.0h1.2v1.2h-1.2zM55.3 243.4h1.2v1.2h-1.2zM59.2 235.6h1.2v1.2h-1.2zM54.7 237.3h1.2v1.2h-1.2zM54.5 234.7h1.2v1.2h-1.2zM58.0 239.0h1.2v1.2h-1.2zM55.9 244.5h1.2v1.2h-1.2zM52.1 246.1h1.2v1.2h-1.2zM54.8 243.4h1.2v1.2h-1.2zM56.4 235.3h1.2v1.2h-1.2zM56.9 234.5h1.2v1.2h-1.2zM57.2 239.4h1.2v1.2h-1.2zM56.2 239.4h1.2v1.2h-1.2zM55.3 233.7h1.2v1.2h-1.2zM53.9 232.9h1.2v1.2h-1.2zM51.2 238.4h1.2v1.2h-1.2zM59.8 241.3h1.2v1.2h-1.2zM59.6 237.4h1.2v1.2h-1.2zM52.2 244.0h1.2v1.2h-1.2zM58.5 236.7h1.2v1.2h-1.2zM52.2 234.0h1.2v1.2h-1.2zM56.2 236.1h1.2v1.2h-1.2zM57.4 238.0h1.2v1.2h-1.2zM51.3 238.7h1.2v1.2h-1.2zM51.4 242.1h1.2v1.2h-1.2zM54.7 243.8h1.2v1.2h-1.2zM55.1 232.5h1.2v1.2h-1.2zM52.4 241.0h1.2v1.2h-1.2zM54.9 245.6h1.2v1.2h-1.2zM55.0 240.2h1.2v1.2h-1.2zM56.6 242.6h1.2v1.2h-1.2zM56.6 243.6h1.2v1.2h-1.2zM57.6 241.5h1.2v1.2h-1.2zM56.5 242.3h1.2v1.2h-1.2zM56.1 236.4h1.2v1.2h-1.2zM57.7 231.5h1.2v1.2h-1.2zM57.2 242.4h1.2v1.2h-1.2zM53.9 241.5h1.2v1.2h-1.2zM56.5 238.3h1.2v1.2h-1.2zM52.6 230.3h1.2v1.2h-1.2zM58.8 239.9h1.2v1.2h-1.2zM56.7 239.1h1.2v1.2h-1.2zM53.9 231.3h1.2v1.2h-1.2zM58.1 238.5h1.2v1.2h-1.2zM50.9 240.0h1.2v1.2h-1.2zM55.8 242.6h1.2v1.2h-1.2zM61.0 238.4h1.2v1.2h-1.2zM52.9 232.0h1.2v1.2h-1.2zM59.2 234.4h1.2v1.2h-1.2zM56.8 231.4h1.2v1.2h-1.2zM56.0 240.7h1.2v1.2h-1.2zM58.8 232.1h1.2v1.2h-1.2zM59.4 231.5h1.2v1.2h-1.2zM52.9 240.3h1.2v1.2h-1.2zM53.3 229.8h1.2v1.2h-1.2zM54.9 239.6h1.2v1.2h-1.2zM53.8 241.9h1.2v1.2h-1.2zM62.3 239.4h1.2v1.2h-1.2zM54.6 238.3h1.2v1.2h-1.2zM58.6 238.2h1.2v1.2h-1.2zM54.3 241.6h1.2v1.2h-1.2zM56.6 246.0h1.2v1.2h-1.2zM60.5 236.1h1.2v1.2h-1.2zM60.9 244.4h1.2v1.2h-1.2zM55.9 234.5h1.2v1.2h-1.2zM54.9 239.8h1.2v1.2h-1.2zM57.2 243.8h1.2v1.2h-1.2zM53.6 240.5h1.2v1.2h-1.2zM56.7 236.2h1.2v1.2h-1.2zM54.9 240.7h1.2v1.2h-1.2zM59.2 241.0h1.2v1.2h-1.2zM54.8 233.7h1.2v1.2h-1.2zM59.6 239.1h1.2v1.2h-1.2zM60.5 240.4h1.2v1.2h-1.2zM58.1 236.7h1.2v1.2h-1.2zM56.7 247.5h1.2v1.2h-1.2zM57.8 237.1h1.2v1.2h-1.2zM57.8 236.5h1.2v1.2h-1.2zM58.0 240.9h1.2v1.2h-1.2zM53.2 237.5h1.2v1.2h-1.2zM55.7 242.7h1.2v1.2h-1.2zM50.4 235.8h1.2v1.2h-1.2zM57.3 247.5h1.2v1.2h-1.2zM63.6 239.7h1.2v1.2h-1.2zM54.2 244.7h1.2v1.2h-1.2zM57.0 241.1h1.2v1.2h-1.2zM61.4 233.1h1.2v1.2h-1.2zM58.5 243.1h1.2v1.2h-1.2zM55.9 243.6h1.2v1.2h-1.2zM57.8 237.9h1.2v1.2h-1.2zM59.0 242.3h1.2v1.2h-1.2zM55.9 238.6h1.2v1.2h-1.2zM53.0 238.9h1.2v1.2h-1.2zM57.4 235.4h1.2v1.2h-1.2zM61.3 237.3h1.2v1.2h-1.2zM54.6 241.8h1.2v1.2h-1.2zM58.3 238.7h1.2v1.2h-1.2zM58.4 239.5h1.2v1.2h-1.2zM51.6 235.5h1.2v1.2h-1.2zM50.1 240.2h1.2v1.2h-1.2zM54.7 239.3h1.2v1.2h-1.2zM56.9 235.9h1.2v1.2h-1.2zM59.3 239.2h1.2v1.2h-1.2zM53.2 235.2h1.2v1.2h-1.2zM56.4 241.4h1.2v1.2h-1.2zM56.7 231.0h1.2v1.2h-1.2zM56.6 239.1h1.2v1.2h-1.2zM56.3 234.9h1.2v1.2h-1.2zM55.1 236.9h1.2v1.2h-1.2zM53.5 240.3h1.2v1.2h-1.2zM55.0 235.3h1.2v1.2h-1.2zM57.5 236.2h1.2v1.2h-1.2zM49.5 232.9h1.2v1.2h-1.2zM52.0 241.8h1.2v1.2h-1.2zM58.0 239.4h1.2v1.2h-1.2zM62.0 228.3h1.2v1.2h-1.2zM58.0 232.7h1.2v1.2h-1.2zM57.1 240.2h1.2v1.2h-1.2zM56.9 248.0h1.2v1.2h-1.2zM57.7 238.6h1.2v1.2h-1.2zM52.3 242.1h1.2v1.2h-1.2zM55.4 241.0h1.2v1.2h-1.2zM55.3 236.7h1.2v1.2h-1.2zM58.1 237.1h1.2v1.2h-1.2zM54.9 243.2h1.2v1.2h-1.2zM53.4 244.6h1.2v1.2h-1.2zM54.8 234.1h1.2v1.2h-1.2zM58.7 230.7h1.2v1.2h-1.2zM56.9 234.6h1.2v1.2h-1.2zM59.6 235.2h1.2v1.2h-1.2zM54.7 237.6h1.2v1.2h-1.2zM60.8 241.5h1.2v1.2h-1.2zM54.6 238.9h1.2v1.2h-1.2zM51.0 240.5h1.2v1.2h-1.2zM56.5 240.6h1.2v1.2h-1.2zM53.6 240.0h1.2v1.2h-1.2zM57.5 236.8h1.2v1.2h-1.2zM56.5 240.3h1.2v1.2h-1.2zM57.6 242.8h1.2v1.2h-1.2zM54.4 242.3h1.2v1.2h-1.2zM55.0 237.5h1.2v1.2h-1.2zM60.8 244.1h1.2v1.2h-1.2zM52.5 231.1h1.2v1.2h-1.2zM52.7 237.2h1.2v1.2h-1.2zM52.7 236.4h1.2v1.2h-1.2zM57.9 236.1h1.2v1.2h-1.2zM60.5 231.6h1.2v1.2h-1.2zM58.2 240.7h1.2v1.2h-1.2zM55.4 240.2h1.2v1.2h-1.2zM50.9 239.6h1.2v1.2h-1.2zM51.0 234.8h1.2v1.2h-1.2zM57.2 239.5h1.2v1.2h-1.2zM51.9 237.1h1.2v1.2h-1.2zM57.3 241.4h1.2v1.2h-1.2zM61.1 234.4h1.2v1.2h-1.2zM55.9 246.2h1.2v1.2h-1.2zM57.7 240.7h1.2v1.2h-1.2zM54.4 245.4h1.2v1.2h-1.2zM54.8 235.0h1.2v1.2h-1.2zM53.1 239.4h1.2v1.2h-1.2zM53.3 233.0h1.2v1.2h-1.2zM54.4 242.0h1.2v1.2h-1.2zM61.4 240.6h1.2v1.2h-1.2zM54.0 236.7h1.2v1.2h-1.2zM57.4 236.0h1.2v1.2h-1.2zM56.0 237.1h1.2v1.2h-1.2zM53.2 235.8h1.2v1.2h-1.2zM54.0 243.2h1.2v1.2h-1.2zM57.1 243.3h1.2v1.2h-1.2zM60.8 230.7h1.2v1.2h-1.2zM57.2 236.6h1.2v1.2h-1.2zM52.0 240.6h1.2v1.2h-1.2zM52.4 235.3h1.2v1.2h-1.2zM55.8 237.0h1.2v1.2h-1.2zM56.7 235.1h1.2v1.2h-1.2zM54.5 237.6h1.2v1.2h-1.2zM53.8 245.4h1.2v1.2h-1.2zM59.3 235.8h1.2v1.2h-1.2zM54.4 232.0h1.2v1.2h-1.2zM57.2 242.6h1.2v1.2h-1.2zM62.6 241.4h1.2v1.2h-1.2zM52.2 236.2h1.2v1.2h-1.2zM59.8 241.4h1.2v1.2h-1.2zM55.0 246.1h1.2v1.2h-1.2zM59.3 244.9h1.2v1.2h-1.2zM52.9 239.7h1.2v1.2h-1.2zM52.8 245.2h1.2v1.2h-1.2zM52.8 248.9h1.2v1.2h-1.2zM57.9 229.1h1.2v1.2h-1.2zM52.7 238.9h1.2v1.2h-1.2zM55.0 236.6h1.2v1.2h-1.2zM59.1 242.5h1.2v1.2h-1.2zM53.9 236.0h1.2v1.2h-1.2zM57.0 232.0h1.2v1.2h-1.2zM56.8 236.2h1.2v1.2h-1.2zM58.5 233.6h1.2v1.2h-1.2zM57.7 240.1h1.2v1.2h-1.2zM56.1 240.0h1.2v1.2h-1.2zM54.4 230.8h1.2v1.2h-1.2zM54.2 242.5h1.2v1.2h-1.2zM59.1 241.0h1.2v1.2h-1.2zM61.0 246.1h1.2v1.2h-1.2zM56.0 231.4h1.2v1.2h-1.2zM55.2 237.3h1.2v1.2h-1.2zM58.3 235.8h1.2v1.2h-1.2zM58.6 235.5h1.2v1.2h-1.2zM57.0 230.0h1.2v1.2h-1.2zM56.0 235.2h1.2v1.2h-1.2zM56.6 238.2h1.2v1.2h-1.2zM56.9 238.7h1.2v1.2h-1.2zM55.0 241.8h1.2v1.2h-1.2zM52.4 240.3h1.2v1.2h-1.2zM54.1 241.1h1.2v1.2h-1.2zM51.7 238.2h1.2v1.2h-1.2zM52.8 238.9h1.2v1.2h-1.2zM55.9 241.9h1.2v1.2h-1.2zM57.6 233.7h1.2v1.2h-1.2zM54.5 240.2h1.2v1.2h-1.2zM52.6 231.9h1.2v1.2h-1.2zM52.8 232.8h1.2v1.2h-1.2zM55.7 241.0h1.2v1.2h-1.2zM60.3 240.0h1.2v1.2h-1.2zM56.2 236.2h1.2v1.2h-1.2zM56.8 234.3h1.2v1.2h-1.2zM58.4 242.2h1.2v1.2h-1.2zM60.6 232.6h1.2v1.2h-1.2zM60.3 244.2h1.2v1.2h-1.2zM57.8 240.4h1.2v1.2h-1.2zM63.3 234.4h1.2v1.2h-1.2zM52.0 244.7h1.2v1.2h-1.2zM58.2 233.5h1.2v1.2h-1.2zM47.9 238.2h1.2v1.2h-1.2zM55.8 236.3h1.2v1.2h-1.2zM61.3 250.6h1.2v1.2h-1.2zM52.6 248.6h1.2v1.2h-1.2zM56.6 238.4h1.2v1.2h-1.2zM55.8 235.0h1.2v1.2h-1.2zM54.4 241.9h1.2v1.2h-1.2zM51.4 246.7h1.2v1.2h-1.2zM55.6 229.6h1.2v1.2h-1.2zM61.1 239.5h1.2v1.2h-1.2zM57.1 233.9h1.2v1.2h-1.2zM55.8 235.1h1.2v1.2h-1.2zM58.0 242.6h1.2v1.2h-1.2zM60.4 238.5h1.2v1.2h-1.2zM54.8 239.2h1.2v1.2h-1.2zM55.7 236.7h1.2v1.2h-1.2zM53.4 239.2h1.2v1.2h-1.2zM57.1 237.4h1.2v1.2h-1.2zM57.3 230.5h1.2v1.2h-1.2zM55.9 246.0h1.2v1.2h-1.2zM56.5 228.4h1.2v1.2h-1.2zM55.0 241.6h1.2v1.2h-1.2zM53.0 250.3h1.2v1.2h-1.2zM51.8 238.4h1.2v1.2h-1.2zM54.1 235.4h1.2v1.2h-1.2zM52.7 245.8h1.2v1.2h-1.2zM61.7 236.5h1.2v1.2h-1.2zM57.5 233.1h1.2v1.2h-1.2zM54.9 240.3h1.2v1.2h-1.2zM55.3 233.9h1.2v1.2h-1.2zM58.9 237.0h1.2v1.2h-1.2zM53.7 241.9h1.2v1.2h-1.2zM56.4 236.4h1.2v1.2h-1.2zM54.5 238.6h1.2v1.2h-1.2zM61.0 239.5h1.2v1.2h-1.2zM52.7 231.8h1.2v1.2h-1.2zM56.3 238.1h1.2v1.2h-1.2zM52.3 237.5h1.2v1.2h-1.2zM56.3 238.9h1.2v1.2h-1.2zM56.3 241.3h1.2v1.2h-1.2zM50.1 247.9h1.2v1.2h-1.2zM57.1 238.1h1.2v1.2h-1.2zM54.6 238.8h1.2v1.2h-1.2zM59.1 238.0h1.2v1.2h-1.2zM56.5 234.4h1.2v1.2h-1.2zM58.5 240.8h1.2v1.2h-1.2zM58.8 236.4h1.2v1.2h-1.2zM53.5 239.1h1.2v1.2h-1.2zM54.5 237.2h1.2v1.2h-1.2zM59.2 233.8h1.2v1.2h-1.2zM56.2 247.9h1.2v1.2h-1.2zM59.8 233.1h1.2v1.2h-1.2zM53.3 239.9h1.2v1.2h-1.2zM59.5 234.7h1.2v1.2h-1.2zM52.9 237.5h1.2v1.2h-1.2zM55.6 244.9h1.2v1.2h-1.2zM53.5 241.5h1.2v1.2h-1.2zM59.2 236.9h1.2v1.2h-1.2zM52.6 246.8h1.2v1.2h-1.2zM56.9 232.8h1.2v1.2h-1.2zM57.5 240.1h1.2v1.2h-1.2zM51.8 242.6h1.2v1.2h-1.2zM60.2 239.0h1.2v1.2h-1.2zM56.7 234.0h1.2v1.2h-1.2zM55.7 233.8h1.2v1.2h-1.2zM50.6 242.5h1.2v1.2h-1.2zM58.6 237.6h1.2v1.2h-1.2zM56.2 236.7h1.2v1.2h-1.2zM58.6 240.5h1.2v1.2h-1.2zM52.1 237.8h1.2v1.2h-1.2zM55.3 232.2h1.2v1.2h-1.2zM56.3 236.6h1.2v1.2h-1.2zM57.5 233.9h1.2v1.2h-1.2zM57.5 233.2h1.2v1.2h-1.2zM54.3 240.0h1.2v1.2h-1.2zM54.2 235.1h1.2v1.2h-1.2zM56.1 234.2h1.2v1.2h-1.2zM52.9 241.8h1.2v1.2h-1.2zM60.7 239.8h1.2v1.2h-1.2zM56.6 235.0h1.2v1.2h-1.2zM60.5 243.1h1.2v1.2h-1.2zM55.8 239.5h1.2v1.2h-1.2zM59.3 240.7h1.2v1.2h-1.2zM54.9 237.3h1.2v1.2h-1.2zM53.4 237.0h1.2v1.2h-1.2zM54.8 242.7h1.2v1.2h-1.2zM57.0 251.1h1.2v1.2h-1.2zM54.5 229.3h1.2v1.2h-1.2zM51.6 238.2h1.2v1.2h-1.2zM56.7 237.7h1.2v1.2h-1.2zM53.0 234.5h1.2v1.2h-1.2zM53.8 240.5h1.2v1.2h-1.2zM62.0 240.4h1.2v1.2h-1.2zM55.7 239.1h1.2v1.2h-1.2zM57.8 240.8h1.2v1.2h-1.2zM61.1 227.9h1.2v1.2h-1.2zM54.2 231.3h1.2v1.2h-1.2zM56.9 233.8h1.2v1.2h-1.2zM59.8 233.5h1.2v1.2h-1.2zM52.0 234.7h1.2v1.2h-1.2zM54.7 237.5h1.2v1.2h-1.2zM56.4 236.4h1.2v1.2h-1.2zM52.5 233.1h1.2v1.2h-1.2zM55.2 241.4h1.2v1.2h-1.2zM55.1 236.7h1.2v1.2h-1.2zM56.1 238.4h1.2v1.2h-1.2zM56.5 233.8h1.2v1.2h-1.2zM51.3 236.4h1.2v1.2h-1.2zM50.1 248.7h1.2v1.2h-1.2zM50.0 235.7h1.2v1.2h-1.2zM56.0 236.5h1.2v1.2h-1.2zM54.0 237.9h1.2v1.2h-1.2zM57.9 240.5h1.2v1.2h-1.2zM56.2 236.8h1.2v1.2h-1.2zM56.2 240.5h1.2v1.2h-1.2zM56.8 233.2h1.2v1.2h-1.2zM52.5 239.3h1.2v1.2h-1.2zM53.6 237.4h1.2v1.2h-1.2zM57.3 244.8h1.2v1.2h-1.2zM50.0 240.0h1.2v1.2h-1.2z" fill="#1f44a0"/>
<path d="M81.8 258.5h1.2v1.2h-1.2zM78.3 249.2h1.2v1.2h-1.2zM78.0 257.3h1.2v1.2h-1.2zM83.4 250.8h1.2v1.2h-1.2zM81.4 253.6h1.2v1.2h-1.2zM88.7 247.4h1.2v1.2h-1.2zM78.0 249.2h1.2v1.2h-1.2zM86.1 253.8h1.2v1.2h-1.2zM81.7 246.7h1.2v1.2h-1.2zM84.5 254.1h1.2v1.2h-1.2zM79.6 255.2h1.2v1.2h-1.2zM89.5 251.2h1.2v1.2h-1.2zM71.3 253.5h1.2v1.2h-1.2zM84.2 252.1h1.2v1.2h-1.2zM79.8 253.0h1.2v1.2h-1.2zM81.9 256.0h1.2v1.2h-1.2zM72.4 260.2h1.2v1.2h-1.2zM74.6 254.8h1.2v1.2h-1.2zM73.1 255.2h1.2v1.2h-1.2zM81.2 251.9h1.2v1.2h-1.2zM88.4 245.0h1.2v1.2h-1.2zM83.4 251.4h1.2v1.2h-1.2zM85.2 254.2h1.2v1.2h-1.2zM82.2 251.6h1.2v1.2h-1.2zM80.8 252.2h1.2v1.2h-1.2zM83.0 254.2h1.2v1.2h-1.2zM81.5 251.9h1.2v1.2h-1.2zM82.5 253.7h1.2v1.2h-1.2zM81.1 255.6h1.2v1.2h-1.2zM80.2 255.4h1.2v1.2h-1.2zM89.9 245.5h1.2v1.2h-1.2zM78.7 249.4h1.2v1.2h-1.2zM84.5 249.2h1.2v1.2h-1.2zM83.9 247.1h1.2v1.2h-1.2zM86.9 254.0h1.2v1.2h-1.2zM82.4 249.6h1.2v1.2h-1.2zM75.8 256.4h1.2v1.2h-1.2zM85.2 250.8h1.2v1.2h-1.2zM74.6 253.4h1.2v1.2h-1.2zM75.2 253.0h1.2v1.2h-1.2zM80.6 253.4h1.2v1.2h-1.2zM89.8 245.4h1.2v1.2h-1.2zM84.3 242.9h1.2v1.2h-1.2zM89.3 248.1h1.2v1.2h-1.2zM84.7 252.1h1.2v1.2h-1.2zM87.6 253.9h1.2v1.2h-1.2zM81.4 245.0h1.2v1.2h-1.2zM77.0 261.7h1.2v1.2h-1.2zM83.5 255.1h1.2v1.2h-1.2zM78.6 251.5h1.2v1.2h-1.2zM80.4 253.7h1.2v1.2h-1.2zM80.9 249.7h1.2v1.2h-1.2zM84.7 251.3h1.2v1.2h-1.2zM75.3 252.5h1.2v1.2h-1.2zM72.4 258.1h1.2v1.2h-1.2zM80.0 250.2h1.2v1.2h-1.2zM78.5 253.6h1.2v1.2h-1.2zM82.5 253.0h1.2v1.2h-1.2zM85.7 249.8h1.2v1.2h-1.2zM84.2 245.6h1.2v1.2h-1.2zM84.6 250.5h1.2v1.2h-1.2zM75.6 254.0h1.2v1.2h-1.2zM83.3 250.4h1.2v1.2h-1.2zM74.9 255.0h1.2v1.2h-1.2zM89.4 248.3h1.2v1.2h-1.2zM84.2 254.6h1.2v1.2h-1.2zM77.1 254.6h1.2v1.2h-1.2zM84.7 247.6h1.2v1.2h-1.2zM77.7 257.1h1.2v1.2h-1.2zM83.3 240.3h1.2v1.2h-1.2zM79.6 248.4h1.2v1.2h-1.2zM77.3 249.7h1.2v1.2h-1.2zM91.0 241.0h1.2v1.2h-1.2zM80.1 250.0h1.2v1.2h-1.2zM76.2 254.3h1.2v1.2h-1.2zM85.5 255.0h1.2v1.2h-1.2zM85.5 254.3h1.2v1.2h-1.2zM76.9 255.8h1.2v1.2h-1.2zM76.5 249.8h1.2v1.2h-1.2zM96.6 238.0h1.2v1.2h-1.2zM80.9 249.2h1.2v1.2h-1.2zM76.9 251.5h1.2v1.2h-1.2zM84.9 247.2h1.2v1.2h-1.2zM81.0 252.7h1.2v1.2h-1.2zM76.5 256.7h1.2v1.2h-1.2zM81.4 253.4h1.2v1.2h-1.2zM79.7 253.3h1.2v1.2h-1.2zM85.3 252.2h1.2v1.2h-1.2zM80.2 256.5h1.2v1.2h-1.2zM76.8 254.9h1.2v1.2h-1.2zM82.1 251.7h1.2v1.2h-1.2zM68.9 258.5h1.2v1.2h-1.2zM82.3 254.6h1.2v1.2h-1.2zM81.2 257.7h1.2v1.2h-1.2zM73.8 258.4h1.2v1.2h-1.2zM83.6 249.9h1.2v1.2h-1.2zM84.2 253.0h1.2v1.2h-1.2zM79.0 256.0h1.2v1.2h-1.2zM85.4 247.5h1.2v1.2h-1.2zM69.2 257.3h1.2v1.2h-1.2zM75.7 252.4h1.2v1.2h-1.2zM81.6 248.4h1.2v1.2h-1.2zM92.9 244.3h1.2v1.2h-1.2zM75.2 255.8h1.2v1.2h-1.2zM89.1 247.9h1.2v1.2h-1.2zM79.0 257.8h1.2v1.2h-1.2zM83.5 258.5h1.2v1.2h-1.2zM80.1 255.1h1.2v1.2h-1.2zM82.8 248.8h1.2v1.2h-1.2zM82.9 255.0h1.2v1.2h-1.2zM83.3 249.9h1.2v1.2h-1.2zM86.5 254.2h1.2v1.2h-1.2zM86.2 249.6h1.2v1.2h-1.2zM79.7 247.1h1.2v1.2h-1.2zM80.9 250.2h1.2v1.2h-1.2zM83.2 247.8h1.2v1.2h-1.2zM81.2 247.8h1.2v1.2h-1.2zM83.7 247.0h1.2v1.2h-1.2zM82.3 253.2h1.2v1.2h-1.2zM79.9 253.0h1.2v1.2h-1.2zM89.2 252.0h1.2v1.2h-1.2zM71.9 256.2h1.2v1.2h-1.2zM86.0 251.5h1.2v1.2h-1.2zM79.5 253.7h1.2v1.2h-1.2zM84.8 257.7h1.2v1.2h-1.2zM78.2 249.8h1.2v1.2h-1.2zM72.3 254.4h1.2v1.2h-1.2zM86.1 246.3h1.2v1.2h-1.2zM90.8 246.3h1.2v1.2h-1.2zM84.2 251.9h1.2v1.2h-1.2zM86.4 251.1h1.2v1.2h-1.2zM76.1 254.0h1.2v1.2h-1.2zM79.2 254.0h1.2v1.2h-1.2zM77.9 249.9h1.2v1.2h-1.2zM81.8 258.3h1.2v1.2h-1.2zM88.7 242.3h1.2v1.2h-1.2zM82.8 250.4h1.2v1.2h-1.2zM79.1 256.4h1.2v1.2h-1.2zM84.2 255.8h1.2v1.2h-1.2zM82.6 249.5h1.2v1.2h-1.2zM69.9 261.0h1.2v1.2h-1.2zM83.5 247.2h1.2v1.2h-1.2zM86.3 250.2h1.2v1.2h-1.2zM73.4 257.6h1.2v1.2h-1.2zM84.1 252.4h1.2v1.2h-1.2zM81.9 251.2h1.2v1.2h-1.2zM79.3 252.4h1.2v1.2h-1.2zM79.3 249.4h1.2v1.2h-1.2zM83.4 248.8h1.2v1.2h-1.2zM82.5 248.8h1.2v1.2h-1.2zM83.3 250.6h1.2v1.2h-1.2zM86.0 249.7h1.2v1.2h-1.2zM84.9 248.1h1.2v1.2h-1.2zM80.6 251.4h1.2v1.2h-1.2zM75.7 256.0h1.2v1.2h-1.2zM87.4 249.7h1.2v1.2h-1.2zM78.3 255.5h1.2v1.2h-1.2zM81.9 246.0h1.2v1.2h-1.2zM83.4 251.3h1.2v1.2h-1.2zM85.0 249.7h1.2v1.2h-1.2zM70.1 253.4h1.2v1.2h-1.2zM89.0 243.8h1.2v1.2h-1.2zM89.1 250.1h1.2v1.2h-1.2zM79.5 248.9h1.2v1.2h-1.2zM87.0 246.9h1.2v1.2h-1.2zM84.4 251.0h1.2v1.2h-1.2zM87.3 250.7h1.2v1.2h-1.2zM72.6 253.7h1.2v1.2h-1.2zM81.9 251.3h1.2v1.2h-1.2zM84.3 248.7h1.2v1.2h-1.2zM84.4 257.0h1.2v1.2h-1.2zM89.3 249.5h1.2v1.2h-1.2zM84.2 246.3h1.2v1.2h-1.2zM80.8 251.9h1.2v1.2h-1.2zM75.0 253.7h1.2v1.2h-1.2zM79.7 248.5h1.2v1.2h-1.2zM84.5 250.9h1.2v1.2h-1.2zM79.7 251.9h1.2v1.2h-1.2zM84.8 250.7h1.2v1.2h-1.2zM80.5 247.7h1.2v1.2h-1.2zM78.3 262.2h1.2v1.2h-1.2zM77.8 253.3h1.2v1.2h-1.2zM72.1 256.5h1.2v1.2h-1.2zM79.7 256.2h1.2v1.2h-1.2zM67.4 258.0h1.2v1.2h-1.2zM78.6 252.2h1.2v1.2h-1.2zM77.2 253.6h1.2v1.2h-1.2zM75.1 258.0h1.2v1.2h-1.2zM86.7 247.9h1.2v1.2h-1.2zM81.4 256.6h1.2v1.2h-1.2zM81.4 247.7h1.2v1.2h-1.2zM77.7 252.5h1.2v1.2h-1.2zM83.4 254.7h1.2v1.2h-1.2zM78.0 254.0h1.2v1.2h-1.2zM79.5 248.7h1.2v1.2h-1.2zM80.4 254.9h1.2v1.2h-1.2zM82.5 243.5h1.2v1.2h-1.2zM83.7 248.6h1.2v1.2h-1.2zM87.9 248.6h1.2v1.2h-1.2zM90.2 245.5h1.2v1.2h-1.2zM78.0 251.3h1.2v1.2h-1.2zM76.3 258.1h1.2v1.2h-1.2zM85.0 251.8h1.2v1.2h-1.2zM80.0 247.2h1.2v1.2h-1.2zM79.1 252.7h1.2v1.2h-1.2zM83.4 253.0h1.2v1.2h-1.2zM87.9 247.4h1.2v1.2h-1.2zM70.6 256.8h1.2v1.2h-1.2zM70.8 257.7h1.2v1.2h-1.2zM76.7 256.6h1.2v1.2h-1.2zM82.5 255.1h1.2v1.2h-1.2zM85.0 246.9h1.2v1.2h-1.2zM85.3 248.5h1.2v1.2h-1.2zM85.8 253.2h1.2v1.2h-1.2zM76.3 255.7h1.2v1.2h-1.2zM86.4 244.6h1.2v1.2h-1.2zM82.5 251.3h1.2v1.2h-1.2zM77.1 250.3h1.2v1.2h-1.2zM76.5 252.0h1.2v1.2h-1.2zM86.4 248.5h1.2v1.2h-1.2zM82.0 246.6h1.2v1.2h-1.2zM83.7 250.3h1.2v1.2h-1.2zM84.4 246.4h1.2v1.2h-1.2zM87.3 252.0h1.2v1.2h-1.2zM87.2 243.3h1.2v1.2h-1.2zM73.8 252.5h1.2v1.2h-1.2zM86.5 249.7h1.2v1.2h-1.2zM81.1 248.6h1.2v1.2h-1.2zM89.7 251.0h1.2v1.2h-1.2zM80.9 251.7h1.2v1.2h-1.2zM87.3 248.7h1.2v1.2h-1.2zM86.2 246.1h1.2v1.2h-1.2zM82.1 249.8h1.2v1.2h-1.2zM78.3 253.2h1.2v1.2h-1.2zM81.1 253.9h1.2v1.2h-1.2zM80.1 253.0h1.2v1.2h-1.2zM75.6 251.9h1.2v1.2h-1.2zM85.5 244.5h1.2v1.2h-1.2zM90.8 247.5h1.2v1.2h-1.2zM70.4 258.5h1.2v1.2h-1.2zM79.6 253.3h1.2v1.2h-1.2zM79.4 251.1h1.2v1.2h-1.2zM86.4 247.1h1.2v1.2h-1.2zM84.1 246.8h1.2v1.2h-1.2zM80.9 257.3h1.2v1.2h-1.2zM78.0 250.3h1.2v1.2h-1.2zM82.6 254.8h1.2v1.2h-1.2zM79.3 250.8h1.2v1.2h-1.2zM85.9 251.7h1.2v1.2h-1.2zM79.8 251.8h1.2v1.2h-1.2zM84.9 259.2h1.2v1.2h-1.2zM83.8 256.4h1.2v1.2h-1.2zM81.4 253.2h1.2v1.2h-1.2zM73.0 259.4h1.2v1.2h-1.2zM80.9 250.9h1.2v1.2h-1.2zM77.0 250.2h1.2v1.2h-1.2zM75.3 257.5h1.2v1.2h-1.2zM78.4 253.9h1.2v1.2h-1.2zM79.6 251.3h1.2v1.2h-1.2zM81.7 258.6h1.2v1.2h-1.2zM75.7 254.6h1.2v1.2h-1.2zM77.9 250.3h1.2v1.2h-1.2zM78.9 257.1h1.2v1.2h-1.2zM85.5 248.8h1.2v1.2h-1.2zM96.6 242.1h1.2v1.2h-1.2zM85.0 245.6h1.2v1.2h-1.2zM89.1 251.7h1.2v1.2h-1.2zM83.1 257.2h1.2v1.2h-1.2zM75.8 252.1h1.2v1.2h-1.2zM79.6 250.1h1.2v1.2h-1.2zM81.9 247.0h1.2v1.2h-1.2zM78.0 247.1h1.2v1.2h-1.2zM83.2 254.3h1.2v1.2h-1.2zM80.8 253.4h1.2v1.2h-1.2zM83.9 245.5h1.2v1.2h-1.2zM76.1 256.5h1.2v1.2h-1.2zM82.0 250.2h1.2v1.2h-1.2zM79.5 258.0h1.2v1.2h-1.2zM75.9 255.3h1.2v1.2h-1.2zM82.5 253.6h1.2v1.2h-1.2zM77.9 251.5h1.2v1.2h-1.2zM88.2 242.7h1.2v1.2h-1.2zM84.4 248.6h1.2v1.2h-1.2zM79.2 253.4h1.2v1.2h-1.2zM80.8 253.4h1.2v1.2h-1.2zM70.5 260.8h1.2v1.2h-1.2zM79.8 249.4h1.2v1.2h-1.2zM84.1 258.4h1.2v1.2h-1.2zM90.3 246.7h1.2v1.2h-1.2zM81.7 250.3h1.2v1.2h-1.2zM86.4 245.9h1.2v1.2h-1.2zM79.1 256.3h1.2v1.2h-1.2zM75.7 253.4h1.2v1.2h-1.2zM84.4 243.0h1.2v1.2h-1.2zM81.3 252.3h1.2v1.2h-1.2zM79.7 247.6h1.2v1.2h-1.2zM79.7 251.8h1.2v1.2h-1.2zM91.3 247.2h1.2v1.2h-1.2zM79.8 256.4h1.2v1.2h-1.2zM83.9 249.2h1.2v1.2h-1.2zM79.8 252.0h1.2v1.2h-1.2zM73.6 255.9h1.2v1.2h-1.2zM88.0 251.7h1.2v1.2h-1.2zM88.5 244.4h1.2v1.2h-1.2zM79.4 244.2h1.2v1.2h-1.2zM77.8 249.9h1.2v1.2h-1.2zM81.7 245.1h1.2v1.2h-1.2zM74.8 253.0h1.2v1.2h-1.2zM84.6 252.3h1.2v1.2h-1.2zM80.8 259.1h1.2v1.2h-1.2zM80.4 249.3h1.2v1.2h-1.2zM82.8 250.5h1.2v1.2h-1.2zM85.5 249.6h1.2v1.2h-1.2zM92.8 246.6h1.2v1.2h-1.2zM80.1 255.8h1.2v1.2h-1.2zM82.7 246.8h1.2v1.2h-1.2zM76.6 252.6h1.2v1.2h-1.2zM72.1 262.0h1.2v1.2h-1.2zM82.7 255.3h1.2v1.2h-1.2zM79.1 253.9h1.2v1.2h-1.2zM86.2 251.4h1.2v1.2h-1.2zM80.7 248.3h1.2v1.2h-1.2zM92.3 245.9h1.2v1.2h-1.2zM90.1 250.6h1.2v1.2h-1.2zM88.0 247.7h1.2v1.2h-1.2zM84.5 251.5h1.2v1.2h-1.2zM76.5 258.9h1.2v1.2h-1.2zM78.0 256.2h1.2v1.2h-1.2zM78.4 257.0h1.2v1.2h-1.2zM83.9 259.1h1.2v1.2h-1.2zM83.1 252.2h1.2v1.2h-1.2zM77.0 254.4h1.2v1.2h-1.2zM80.5 251.3h1.2v1.2h-1.2zM77.8 251.4h1.2v1.2h-1.2zM83.8 248.2h1.2v1.2h-1.2zM78.6 255.5h1.2v1.2h-1.2zM77.6 254.3h1.2v1.2h-1.2zM77.4 251.5h1.2v1.2h-1.2zM78.8 250.7h1.2v1.2h-1.2zM76.7 257.0h1.2v1.2h-1.2zM77.3 249.6h1.2v1.2h-1.2zM80.0 253.6h1.2v1.2h-1.2zM83.8 251.1h1.2v1.2h-1.2zM83.5 252.2h1.2v1.2h-1.2zM77.7 251.7h1.2v1.2h-1.2zM83.2 248.7h1.2v1.2h-1.2zM82.6 253.2h1.2v1.2h-1.2zM87.6 251.2h1.2v1.2h-1.2zM77.7 253.4h1.2v1.2h-1.2zM81.0 246.6h1.2v1.2h-1.2zM77.2 257.6h1.2v1.2h-1.2zM77.0 251.9h1.2v1.2h-1.2zM85.7 250.1h1.2v1.2h-1.2zM84.6 247.8h1.2v1.2h-1.2zM79.5 252.0h1.2v1.2h-1.2zM78.8 246.2h1.2v1.2h-1.2zM79.7 255.8h1.2v1.2h-1.2zM77.9 254.4h1.2v1.2h-1.2zM82.8 252.5h1.2v1.2h-1.2zM77.2 250.9h1.2v1.2h-1.2zM90.5 241.3h1.2v1.2h-1.2zM85.3 241.8h1.2v1.2h-1.2zM81.4 250.9h1.2v1.2h-1.2zM93.2 249.6h1.2v1.2h-1.2zM83.6 246.0h1.2v1.2h-1.2zM76.5 252.9h1.2v1.2h-1.2zM79.6 254.2h1.2v1.2h-1.2zM77.6 254.0h1.2v1.2h-1.2zM90.3 249.8h1.2v1.2h-1.2zM71.7 256.2h1.2v1.2h-1.2zM82.2 256.0h1.2v1.2h-1.2zM83.5 257.2h1.2v1.2h-1.2zM85.6 253.7h1.2v1.2h-1.2zM77.1 254.1h1.2v1.2h-1.2zM86.7 249.4h1.2v1.2h-1.2zM72.9 257.8h1.2v1.2h-1.2zM83.3 252.5h1.2v1.2h-1.2zM81.9 257.9h1.2v1.2h-1.2zM84.7 254.5h1.2v1.2h-1.2zM83.2 250.5h1.2v1.2h-1.2zM77.8 250.3h1.2v1.2h-1.2zM86.4 250.4h1.2v1.2h-1.2zM84.6 247.6h1.2v1.2h-1.2zM76.4 254.5h1.2v1.2h-1.2zM80.0 252.8h1.2v1.2h-1.2zM83.8 246.3h1.2v1.2h-1.2zM80.6 255.0h1.2v1.2h-1.2zM89.3 253.5h1.2v1.2h-1.2zM82.0 248.0h1.2v1.2h-1.2zM75.5 253.7h1.2v1.2h-1.2zM82.1 252.1h1.2v1.2h-1.2zM79.9 250.6h1.2v1.2h-1.2zM80.4 252.2h1.2v1.2h-1.2zM84.0 249.9h1.2v1.2h-1.2zM75.8 252.0h1.2v1.2h-1.2zM87.4 246.3h1.2v1.2h-1.2zM80.6 252.3h1.2v1.2h-1.2zM85.5 247.1h1.2v1.2h-1.2zM81.6 250.6h1.2v1.2h-1.2zM81.9 247.5h1.2v1.2h-1.2zM84.1 253.3h1.2v1.2h-1.2zM87.5 249.0h1.2v1.2h-1.2zM85.5 254.2h1.2v1.2h-1.2zM86.9 252.4h1.2v1.2h-1.2zM74.2 253.6h1.2v1.2h-1.2zM84.2 248.3h1.2v1.2h-1.2zM77.8 251.2h1.2v1.2h-1.2zM85.4 243.9h1.2v1.2h-1.2zM79.2 248.3h1.2v1.2h-1.2zM84.8 257.4h1.2v1.2h-1.2zM90.7 242.1h1.2v1.2h-1.2zM80.2 258.9h1.2v1.2h-1.2zM74.4 250.8h1.2v1.2h-1.2zM80.8 248.1h1.2v1.2h-1.2zM77.4 259.4h1.2v1.2h-1.2zM76.3 252.0h1.2v1.2h-1.2zM81.7 250.7h1.2v1.2h-1.2zM86.3 248.0h1.2v1.2h-1.2zM90.2 248.7h1.2v1.2h-1.2zM90.9 248.0h1.2v1.2h-1.2zM82.7 252.7h1.2v1.2h-1.2zM78.6 248.2h1.2v1.2h-1.2zM77.8 257.6h1.2v1.2h-1.2zM69.9 258.3h1.2v1.2h-1.2zM75.8 256.1h1.2v1.2h-1.2zM77.5 256.0h1.2v1.2h-1.2zM79.7 251.4h1.2v1.2h-1.2zM73.7 249.8h1.2v1.2h-1.2zM79.3 248.6h1.2v1.2h-1.2zM80.8 253.6h1.2v1.2h-1.2zM87.1 249.6h1.2v1.2h-1.2zM84.9 243.4h1.2v1.2h-1.2zM87.1 252.9h1.2v1.2h-1.2zM81.0 247.9h1.2v1.2h-1.2zM82.1 249.2h1.2v1.2h-1.2zM80.7 256.4h1.2v1.2h-1.2zM78.5 249.9h1.2v1.2h-1.2zM82.2 258.5h1.2v1.2h-1.2zM79.1 256.2h1.2v1.2h-1.2zM84.3 253.7h1.2v1.2h-1.2zM78.4 250.6h1.2v1.2h-1.2zM76.8 251.7h1.2v1.2h-1.2zM92.6 243.0h1.2v1.2h-1.2zM82.4 255.7h1.2v1.2h-1.2zM83.8 249.0h1.2v1.2h-1.2zM84.5 250.2h1.2v1.2h-1.2zM89.2 251.5h1.2v1.2h-1.2zM80.0 252.8h1.2v1.2h-1.2zM82.9 255.1h1.2v1.2h-1.2zM84.4 252.1h1.2v1.2h-1.2zM84.0 247.2h1.2v1.2h-1.2zM84.5 254.4h1.2v1.2h-1.2zM86.8 250.3h1.2v1.2h-1.2zM79.5 251.9h1.2v1.2h-1.2zM77.3 254.2h1.2v1.2h-1.2zM78.4 248.8h1.2v1.2h-1.2zM84.8 246.0h1.2v1.2h-1.2zM83.6 252.2h1.2v1.2h-1.2zM75.7 249.7h1.2v1.2h-1.2zM86.2 249.3h1.2v1.2h-1.2zM82.4 255.2h1.2v1.2h-1.2zM83.3 246.5h1.2v1.2h-1.2zM77.8 248.1h1.2v1.2h-1.2zM82.9 255.8h1.2v1.2h-1.2zM79.4 256.5h1.2v1.2h-1.2zM74.5 256.4h1.2v1.2h-1.2zM88.5 252.3h1.2v1.2h-1.2zM84.7 251.8h1.2v1.2h-1.2zM84.0 240.3h1.2v1.2h-1.2zM77.8 261.9h1.2v1.2h-1.2zM92.8 244.4h1.2v1.2h-1.2zM82.1 252.1h1.2v1.2h-1.2zM80.4 250.3h1.2v1.2h-1.2zM81.1 251.5h1.2v1.2h-1.2zM85.4 250.9h1.2v1.2h-1.2zM86.6 249.6h1.2v1.2h-1.2zM79.9 258.2h1.2v1.2h-1.2zM70.4 261.4h1.2v1.2h-1.2zM81.8 249.4h1.2v1.2h-1.2zM87.2 242.7h1.2v1.2h-1.2zM75.5 254.7h1.2v1.2h-1.2zM84.6 252.0h1.2v1.2h-1.2zM83.1 252.8h1.2v1.2h-1.2zM77.3 252.9h1.2v1.2h-1.2zM79.4 248.3h1.2v1.2h-1.2zM81.4 250.2h1.2v1.2h-1.2zM82.3 247.1h1.2v1.2h-1.2zM78.1 252.3h1.2v1.2h-1.2zM78.0 250.8h1.2v1.2h-1.2zM77.8 249.7h1.2v1.2h-1.2zM84.9 251.4h1.2v1.2h-1.2zM81.0 251.4h1.2v1.2h-1.2zM75.9 252.7h1.2v1.2h-1.2zM78.8 250.5h1.2v1.2h-1.2zM76.8 256.2h1.2v1.2h-1.2zM80.5 250.9h1.2v1.2h-1.2zM77.9 254.5h1.2v1.2h-1.2zM77.7 253.2h1.2v1.2h-1.2zM83.5 252.7h1.2v1.2h-1.2zM83.4 247.8h1.2v1.2h-1.2zM84.3 245.0h1.2v1.2h-1.2zM83.1 255.2h1.2v1.2h-1.2zM91.5 243.7h1.2v1.2h-1.2zM79.2 252.2h1.2v1.2h-1.2zM76.1 255.7h1.2v1.2h-1.2zM78.2 251.6h1.2v1.2h-1.2zM84.9 245.8h1.2v1.2h-1.2zM90.0 247.7h1.2v1.2h-1.2zM82.9 248.2h1.2v1.2h-1.2zM75.5 249.1h1.2v1.2h-1.2zM82.0 250.2h1.2v1.2h-1.2zM81.7 248.9h1.2v1.2h-1.2zM80.6 246.7h1.2v1.2h-1.2zM73.2 260.4h1.2v1.2h-1.2zM80.0 241.0h1.2v1.2h-1.2zM86.1 246.5h1.2v1.2h-1.2zM77.8 248.9h1.2v1.2h-1.2zM78.5 256.8h1.2v1.2h-1.2zM78.2 254.2h1.2v1.2h-1.2zM84.4 256.7h1.2v1.2h-1.2zM82.6 245.7h1.2v1.2h-1.2zM77.2 250.9h1.2v1.2h-1.2zM74.3 255.1h1.2v1.2h-1.2zM86.0 248.0h1.2v1.2h-1.2zM83.9 249.1h1.2v1.2h-1.2zM79.8 253.4h1.2v1.2h-1.2zM84.6 256.3h1.2v1.2h-1.2zM89.5 246.3h1.2v1.2h-1.2zM80.2 245.2h1.2v1.2h-1.2zM85.3 257.5h1.2v1.2h-1.2zM79.6 256.3h1.2v1.2h-1.2zM85.7 246.6h1.2v1.2h-1.2zM79.6 251.5h1.2v1.2h-1.2zM84.7 249.0h1.2v1.2h-1.2zM89.8 249.2h1.2v1.2h-1.2zM86.2 257.6h1.2v1.2h-1.2zM78.9 251.5h1.2v1.2h-1.2zM78.7 250.6h1.2v1.2h-1.2zM79.5 253.1h1.2v1.2h-1.2zM82.1 245.1h1.2v1.2h-1.2zM74.1 254.9h1.2v1.2h-1.2zM81.0 253.8h1.2v1.2h-1.2zM80.9 257.8h1.2v1.2h-1.2zM78.8 253.1h1.2v1.2h-1.2zM83.8 254.2h1.2v1.2h-1.2zM82.6 250.8h1.2v1.2h-1.2zM79.4 254.0h1.2v1.2h-1.2zM82.4 249.6h1.2v1.2h-1.2zM77.8 247.7h1.2v1.2h-1.2zM81.4 256.2h1.2v1.2h-1.2zM87.1 246.7h1.2v1.2h-1.2zM75.8 263.3h1.2v1.2h-1.2zM85.4 258.1h1.2v1.2h-1.2zM81.5 255.4h1.2v1.2h-1.2zM81.4 257.0h1.2v1.2h-1.2zM84.2 245.4h1.2v1.2h-1.2zM92.1 253.6h1.2v1.2h-1.2zM78.2 249.8h1.2v1.2h-1.2zM81.8 249.9h1.2v1.2h-1.2zM73.2 254.6h1.2v1.2h-1.2zM79.5 247.5h1.2v1.2h-1.2zM86.7 249.0h1.2v1.2h-1.2zM83.2 255.5h1.2v1.2h-1.2zM78.8 256.5h1.2v1.2h-1.2zM75.1 255.7h1.2v1.2h-1.2zM83.0 248.3h1.2v1.2h-1.2zM82.1 253.6h1.2v1.2h-1.2zM90.1 249.4h1.2v1.2h-1.2zM82.8 249.6h1.2v1.2h-1.2zM78.6 260.6h1.2v1.2h-1.2zM85.1 240.5h1.2v1.2h-1.2zM84.9 248.6h1.2v1.2h-1.2zM84.9 250.0h1.2v1.2h-1.2zM80.5 252.4h1.2v1.2h-1.2zM83.4 254.5h1.2v1.2h-1.2zM79.2 251.5h1.2v1.2h-1.2zM85.3 250.9h1.2v1.2h-1.2zM83.7 250.9h1.2v1.2h-1.2zM89.5 249.1h1.2v1.2h-1.2zM81.8 250.6h1.2v1.2h-1.2zM80.6 245.3h1.2v1.2h-1.2zM77.9 252.0h1.2v1.2h-1.2zM81.3 250.3h1.2v1.2h-1.2zM92.9 244.9h1.2v1.2h-1.2zM87.2 255.4h1.2v1.2h-1.2zM80.7 251.1h1.2v1.2h-1.2zM88.0 249.3h1.2v1.2h-1.2zM87.4 251.3h1.2v1.2h-1.2zM78.6 251.6h1.2v1.2h-1.2zM78.6 254.5h1.2v1.2h-1.2zM83.5 245.9h1.2v1.2h-1.2zM76.6 250.6h1.2v1.2h-1.2zM91.1 246.6h1.2v1.2h-1.2zM80.0 248.3h1.2v1.2h-1.2zM75.9 253.9h1.2v1.2h-1.2zM79.1 248.8h1.2v1.2h-1.2zM82.7 255.3h1.2v1.2h-1.2zM81.6 251.9h1.2v1.2h-1.2zM72.2 258.4h1.2v1.2h-1.2zM79.4 250.7h1.2v1.2h-1.2zM75.5 256.4h1.2v1.2h-1.2zM76.1 254.1h1.2v1.2h-1.2zM74.6 257.1h1.2v1.2h-1.2zM83.5 246.7h1.2v1.2h-1.2zM79.8 247.3h1.2v1.2h-1.2zM84.7 251.0h1.2v1.2h-1.2zM81.4 255.1h1.2v1.2h-1.2zM77.8 254.9h1.2v1.2h-1.2zM88.2 245.9h1.2v1.2h-1.2zM78.9 258.2h1.2v1.2h-1.2zM83.0 249.3h1.2v1.2h-1.2zM70.3 253.8h1.2v1.2h-1.2zM77.9 260.3h1.2v1.2h-1.2zM80.9 248.8h1.2v1.2h-1.2zM88.8 251.1h1.2v1.2h-1.2zM78.8 255.8h1.2v1.2h-1.2zM75.3 258.3h1.2v1.2h-1.2zM86.2 242.3h1.2v1.2h-1.2zM80.4 250.1h1.2v1.2h-1.2zM81.1 252.3h1.2v1.2h-1.2zM84.2 252.8h1.2v1.2h-1.2zM85.4 252.3h1.2v1.2h-1.2zM87.6 250.7h1.2v1.2h-1.2zM79.3 255.0h1.2v1.2h-1.2zM78.2 251.2h1.2v1.2h-1.2zM89.9 245.7h1.2v1.2h-1.2zM77.6 246.9h1.2v1.2h-1.2zM81.8 254.3h1.2v1.2h-1.2zM79.5 251.2h1.2v1.2h-1.2zM86.8 246.0h1.2v1.2h-1.2zM79.8 252.7h1.2v1.2h-1.2zM82.3 254.9h1.2v1.2h-1.2zM83.6 249.6h1.2v1.2h-1.2zM79.4 252.5h1.2v1.2h-1.2zM87.7 245.2h1.2v1.2h-1.2zM81.1 246.0h1.2v1.2h-1.2zM84.0 252.2h1.2v1.2h-1.2zM87.2 248.1h1.2v1.2h-1.2zM84.3 250.5h1.2v1.2h-1.2zM89.6 252.7h1.2v1.2h-1.2zM80.6 249.2h1.2v1.2h-1.2zM83.6 249.5h1.2v1.2h-1.2zM85.4 251.3h1.2v1.2h-1.2zM81.1 250.3h1.2v1.2h-1.2zM80.3 247.9h1.2v1.2h-1.2zM80.8 248.8h1.2v1.2h-1.2zM83.4 250.5h1.2v1.2h-1.2zM78.2 249.8h1.2v1.2h-1.2zM80.3 250.1h1.2v1.2h-1.2zM82.1 253.8h1.2v1.2h-1.2zM82.8 245.6h1.2v1.2h-1.2zM87.7 251.6h1.2v1.2h-1.2zM86.5 248.5h1.2v1.2h-1.2zM84.2 256.0h1.2v1.2h-1.2zM77.2 249.4h1.2v1.2h-1.2zM82.3 252.1h1.2v1.2h-1.2zM74.8 252.6h1.2v1.2h-1.2zM89.7 245.2h1.2v1.2h-1.2zM83.4 247.8h1.2v1.2h-1.2zM74.8 256.6h1.2v1.2h-1.2zM85.6 245.6h1.2v1.2h-1.2zM73.7 257.5h1.2v1.2h-1.2zM80.2 252.8h1.2v1.2h-1.2zM76.5 254.7h1.2v1.2h-1.2zM80.8 255.6h1.2v1.2h-1.2zM83.6 253.2h1.2v1.2h-1.2zM77.1 247.2h1.2v1.2h-1.2zM74.3 259.7h1.2v1.2h-1.2zM86.6 250.7h1.2v1.2h-1.2zM77.7 248.0h1.2v1.2h-1.2zM80.1 254.4h1.2v1.2h-1.2zM86.4 246.2h1.2v1.2h-1.2zM77.6 252.0h1.2v1.2h-1.2zM87.2 250.2h1.2v1.2h-1.2zM76.1 260.8h1.2v1.2h-1.2zM74.8 251.6h1.2v1.2h-1.2zM73.4 255.6h1.2v1.2h-1.2zM95.7 249.5h1.2v1.2h-1.2zM75.0 254.5h1.2v1.2h-1.2zM82.8 252.2h1.2v1.2h-1.2zM76.4 249.9h1.2v1.2h-1.2zM78.4 251.7h1.2v1.2h-1.2zM74.3 258.3h1.2v1.2h-1.2zM72.1 252.9h1.2v1.2h-1.2zM89.3 248.6h1.2v1.2h-1.2zM87.5 247.0h1.2v1.2h-1.2zM79.5 253.0h1.2v1.2h-1.2zM77.1 258.1h1.2v1.2h-1.2zM81.9 250.1h1.2v1.2h-1.2zM73.5 258.0h1.2v1.2h-1.2zM90.8 249.4h1.2v1.2h-1.2zM84.3 248.0h1.2v1.2h-1.2zM83.0 252.5h1.2v1.2h-1.2zM84.1 253.4h1.2v1.2h-1.2zM74.2 248.8h1.2v1.2h-1.2zM69.7 258.1h1.2v1.2h-1.2zM76.9 258.0h1.2v1.2h-1.2zM85.8 248.1h1.2v1.2h-1.2zM83.7 250.1h1.2v1.2h-1.2zM81.2 250.1h1.2v1.2h-1.2zM81.9 255.8h1.2v1.2h-1.2zM80.2 252.6h1.2v1.2h-1.2zM88.1 249.9h1.2v1.2h-1.2zM80.2 253.7h1.2v1.2h-1.2zM77.4 255.5h1.2v1.2h-1.2zM82.6 250.7h1.2v1.2h-1.2zM82.7 252.0h1.2v1.2h-1.2zM69.4 258.6h1.2v1.2h-1.2zM80.7 250.4h1.2v1.2h-1.2zM76.9 254.6h1.2v1.2h-1.2zM87.5 245.7h1.2v1.2h-1.2zM77.8 252.9h1.2v1.2h-1.2zM77.4 256.9h1.2v1.2h-1.2zM79.0 257.2h1.2v1.2h-1.2zM86.2 249.9h1.2v1.2h-1.2zM85.5 248.0h1.2v1.2h-1.2zM74.0 257.7h1.2v1.2h-1.2zM81.1 246.1h1.2v1.2h-1.2zM78.4 258.4h1.2v1.2h-1.2zM85.7 253.3h1.2v1.2h-1.2zM84.2 249.6h1.2v1.2h-1.2zM84.7 252.2h1.2v1.2h-1.2zM80.8 251.4h1.2v1.2h-1.2zM82.0 250.0h1.2v1.2h-1.2zM89.8 241.7h1.2v1.2h-1.2zM72.7 254.1h1.2v1.2h-1.2zM84.9 247.2h1.2v1.2h-1.2zM81.6 250.7h1.2v1.2h-1.2zM79.8 247.5h1.2v1.2h-1.2zM80.6 250.2h1.2v1.2h-1.2zM87.0 249.4h1.2v1.2h-1.2zM74.3 253.9h1.2v1.2h-1.2zM85.9 252.5h1.2v1.2h-1.2zM84.2 248.8h1.2v1.2h-1.2zM81.5 242.6h1.2v1.2h-1.2zM77.3 251.4h1.2v1.2h-1.2zM78.2 256.6h1.2v1.2h-1.2zM83.0 251.4h1.2v1.2h-1.2zM82.0 253.6h1.2v1.2h-1.2zM83.5 247.8h1.2v1.2h-1.2zM83.5 246.4h1.2v1.2h-1.2zM86.2 242.7h1.2v1.2h-1.2zM78.1 250.3h1.2v1.2h-1.2zM84.0 254.6h1.2v1.2h-1.2zM81.6 258.4h1.2v1.2h-1.2zM87.9 247.7h1.2v1.2h-1.2zM80.6 255.8h1.2v1.2h-1.2zM68.1 260.0h1.2v1.2h-1.2zM85.3 248.3h1.2v1.2h-1.2zM90.4 241.6h1.2v1.2h-1.2zM75.4 255.9h1.2v1.2h-1.2zM87.0 253.6h1.2v1.2h-1.2zM74.4 258.2h1.2v1.2h-1.2zM85.3 245.8h1.2v1.2h-1.2zM77.2 250.6h1.2v1.2h-1.2zM86.1 251.0h1.2v1.2h-1.2zM84.3 250.3h1.2v1.2h-1.2zM85.2 248.0h1.2v1.2h-1.2zM85.9 251.1h1.2v1.2h-1.2zM87.7 248.4h1.2v1.2h-1.2zM83.0 253.1h1.2v1.2h-1.2zM71.6 253.2h1.2v1.2h-1.2zM88.3 246.4h1.2v1.2h-1.2zM75.9 254.1h1.2v1.2h-1.2zM80.9 252.4h1.2v1.2h-1.2zM80.1 256.7h1.2v1.2h-1.2zM79.6 264.0h1.2v1.2h-1.2zM80.0 259.3h1.2v1.2h-1.2zM81.0 245.6h1.2v1.2h-1.2zM76.4 256.2h1.2v1.2h-1.2zM81.7 249.8h1.2v1.2h-1.2zM81.7 252.1h1.2v1.2h-1.2zM76.7 255.9h1.2v1.2h-1.2zM89.6 242.3h1.2v1.2h-1.2zM78.4 256.8h1.2v1.2h-1.2zM88.9 249.4h1.2v1.2h-1.2zM78.6 253.8h1.2v1.2h-1.2zM81.8 250.6h1.2v1.2h-1.2zM85.1 252.8h1.2v1.2h-1.2zM83.6 249.8h1.2v1.2h-1.2zM83.9 256.5h1.2v1.2h-1.2zM80.0 260.6h1.2v1.2h-1.2zM84.6 249.4h1.2v1.2h-1.2zM81.7 258.5h1.2v1.2h-1.2zM88.2 249.5h1.2v1.2h-1.2zM86.7 240.4h1.2v1.2h-1.2zM81.2 250.7h1.2v1.2h-1.2zM78.5 254.5h1.2v1.2h-1.2zM84.6 251.1h1.2v1.2h-1.2zM78.3 249.2h1.2v1.2h-1.2zM84.9 251.2h1.2v1.2h-1.2zM92.0 246.4h1.2v1.2h-1.2zM79.2 249.1h1.2v1.2h-1.2zM91.5 240.6h1.2v1.2h-1.2zM83.6 252.8h1.2v1.2h-1.2zM86.0 253.0h1.2v1.2h-1.2zM75.7 253.8h1.2v1.2h-1.2zM79.7 248.3h1.2v1.2h-1.2zM81.4 257.1h1.2v1.2h-1.2zM82.4 250.5h1.2v1.2h-1.2z" fill="#6cb842"/>
<path d="M79.7 253.3h1.2v1.2h-1.2zM79.9 250.2h1.2v1.2h-1.2zM82.1 247.8h1.2v1.2h-1.2zM84.8 248.0h1.2v1.2h-1.2zM72.5 255.2h1.2v1.2h-1.2zM81.1 249.7h1.2v1.2h-1.2zM88.6 249.3h1.2v1.2h-1.2zM88.8 247.8h1.2v1.2h-1.2zM84.7 247.4h1.2v1.2h-1.2zM84.7 247.8h1.2v1.2h-1.2zM79.5 249.8h1.2v1.2h-1.2zM82.0 252.2h1.2v1.2h-1.2zM79.7 250.2h1.2v1.2h-1.2zM85.2 250.9h1.2v1.2h-1.2zM82.1 253.2h1.2v1.2h-1.2zM83.1 247.8h1.2v1.2h-1.2zM78.9 249.0h1.2v1.2h-1.2zM78.8 255.0h1.2v1.2h-1.2zM79.2 254.6h1.2v1.2h-1.2zM79.8 247.7h1.2v1.2h-1.2zM81.8 255.3h1.2v1.2h-1.2zM81.5 251.9h1.2v1.2h-1.2zM77.2 251.1h1.2v1.2h-1.2zM80.2 260.2h1.2v1.2h-1.2zM79.7 250.9h1.2v1.2h-1.2zM79.2 248.5h1.2v1.2h-1.2zM87.8 250.8h1.2v1.2h-1.2zM79.5 254.2h1.2v1.2h-1.2zM79.7 255.4h1.2v1.2h-1.2zM78.6 253.7h1.2v1.2h-1.2zM86.0 249.2h1.2v1.2h-1.2zM78.4 250.3h1.2v1.2h-1.2zM78.0 257.7h1.2v1.2h-1.2zM83.0 250.5h1.2v1.2h-1.2zM85.4 248.8h1.2v1.2h-1.2zM79.0 253.5h1.2v1.2h-1.2zM81.0 252.0h1.2v1.2h-1.2zM89.7 246.3h1.2v1.2h-1.2zM81.9 250.7h1.2v1.2h-1.2zM78.0 252.0h1.2v1.2h-1.2zM75.0 255.9h1.2v1.2h-1.2zM74.3 252.8h1.2v1.2h-1.2zM75.9 251.1h1.2v1.2h-1.2zM87.1 250.1h1.2v1.2h-1.2zM81.0 257.4h1.2v1.2h-1.2zM80.1 246.2h1.2v1.2h-1.2zM80.1 250.2h1.2v1.2h-1.2zM75.7 255.8h1.2v1.2h-1.2zM85.4 249.5h1.2v1.2h-1.2zM76.0 254.5h1.2v1.2h-1.2zM80.5 255.5h1.2v1.2h-1.2zM79.8 250.5h1.2v1.2h-1.2zM76.0 251.1h1.2v1.2h-1.2zM79.9 255.3h1.2v1.2h-1.2zM75.7 257.0h1.2v1.2h-1.2zM82.0 253.3h1.2v1.2h-1.2zM79.0 256.1h1.2v1.2h-1.2zM89.0 251.3h1.2v1.2h-1.2zM76.3 255.9h1.2v1.2h-1.2zM80.8 252.5h1.2v1.2h-1.2zM79.4 255.6h1.2v1.2h-1.2zM90.5 248.0h1.2v1.2h-1.2zM77.7 253.4h1.2v1.2h-1.2zM83.7 250.1h1.2v1.2h-1.2zM80.6 255.6h1.2v1.2h-1.2zM84.2 252.0h1.2v1.2h-1.2zM82.4 254.2h1.2v1.2h-1.2zM78.5 251.3h1.2v1.2h-1.2zM79.5 249.7h1.2v1.2h-1.2zM86.1 249.7h1.2v1.2h-1.2zM76.4 256.4h1.2v1.2h-1.2zM83.5 249.0h1.2v1.2h-1.2zM81.9 249.8h1.2v1.2h-1.2zM81.0 251.8h1.2v1.2h-1.2zM81.6 249.0h1.2v1.2h-1.2zM78.3 255.2h1.2v1.2h-1.2zM80.4 253.9h1.2v1.2h-1.2zM78.1 251.1h1.2v1.2h-1.2zM83.9 250.3h1.2v1.2h-1.2zM83.1 249.4h1.2v1.2h-1.2zM81.8 254.6h1.2v1.2h-1.2zM78.4 258.8h1.2v1.2h-1.2zM82.8 250.4h1.2v1.2h-1.2zM82.4 252.5h1.2v1.2h-1.2zM79.3 254.2h1.2v1.2h-1.2zM76.0 251.4h1.2v1.2h-1.2zM82.1 251.4h1.2v1.2h-1.2zM84.0 251.0h1.2v1.2h-1.2zM84.5 251.2h1.2v1.2h-1.2zM79.6 256.4h1.2v1.2h-1.2zM88.8 244.0h1.2v1.2h-1.2zM78.3 256.1h1.2v1.2h-1.2zM85.4 251.0h1.2v1.2h-1.2zM84.3 245.7h1.2v1.2h-1.2zM83.1 251.5h1.2v1.2h-1.2zM84.0 247.2h1.2v1.2h-1.2zM80.9 251.2h1.2v1.2h-1.2zM80.6 252.0h1.2v1.2h-1.2zM78.6 249.5h1.2v1.2h-1.2zM81.3 252.0h1.2v1.2h-1.2zM75.6 247.3h1.2v1.2h-1.2zM78.3 252.6h1.2v1.2h-1.2zM80.7 256.5h1.2v1.2h-1.2zM83.9 249.1h1.2v1.2h-1.2zM87.4 255.3h1.2v1.2h-1.2zM78.9 255.0h1.2v1.2h-1.2zM81.4 255.6h1.2v1.2h-1.2zM84.6 248.7h1.2v1.2h-1.2zM82.2 249.0h1.2v1.2h-1.2zM77.5 257.2h1.2v1.2h-1.2zM86.0 247.1h1.2v1.2h-1.2zM77.4 250.4h1.2v1.2h-1.2zM86.4 244.4h1.2v1.2h-1.2zM78.1 254.0h1.2v1.2h-1.2zM85.1 248.7h1.2v1.2h-1.2zM81.3 251.9h1.2v1.2h-1.2zM83.9 249.5h1.2v1.2h-1.2zM81.7 251.3h1.2v1.2h-1.2zM79.6 256.7h1.2v1.2h-1.2zM77.5 251.6h1.2v1.2h-1.2zM80.0 253.0h1.2v1.2h-1.2zM81.9 247.4h1.2v1.2h-1.2zM77.6 255.3h1.2v1.2h-1.2zM81.1 249.1h1.2v1.2h-1.2zM78.0 255.0h1.2v1.2h-1.2zM78.8 249.7h1.2v1.2h-1.2zM80.5 256.3h1.2v1.2h-1.2zM79.4 256.1h1.2v1.2h-1.2zM78.5 258.0h1.2v1.2h-1.2zM85.4 246.7h1.2v1.2h-1.2zM80.0 254.5h1.2v1.2h-1.2zM78.2 255.8h1.2v1.2h-1.2zM85.4 249.0h1.2v1.2h-1.2zM82.1 250.7h1.2v1.2h-1.2zM83.3 247.9h1.2v1.2h-1.2zM86.2 247.6h1.2v1.2h-1.2zM78.2 250.1h1.2v1.2h-1.2zM80.3 253.3h1.2v1.2h-1.2zM83.1 246.1h1.2v1.2h-1.2zM80.0 251.1h1.2v1.2h-1.2zM77.6 254.9h1.2v1.2h-1.2zM80.1 255.1h1.2v1.2h-1.2zM74.0 259.9h1.2v1.2h-1.2zM72.9 253.7h1.2v1.2h-1.2zM82.5 249.9h1.2v1.2h-1.2zM80.5 250.0h1.2v1.2h-1.2zM77.1 253.4h1.2v1.2h-1.2zM80.0 250.6h1.2v1.2h-1.2zM78.9 251.6h1.2v1.2h-1.2zM80.6 249.4h1.2v1.2h-1.2zM71.5 253.1h1.2v1.2h-1.2zM81.4 252.0h1.2v1.2h-1.2zM83.3 248.2h1.2v1.2h-1.2zM75.9 252.4h1.2v1.2h-1.2zM82.8 248.9h1.2v1.2h-1.2zM84.2 249.1h1.2v1.2h-1.2zM78.1 249.6h1.2v1.2h-1.2zM80.2 254.8h1.2v1.2h-1.2zM80.3 254.4h1.2v1.2h-1.2zM77.6 257.6h1.2v1.2h-1.2zM91.3 246.3h1.2v1.2h-1.2zM80.7 249.1h1.2v1.2h-1.2zM78.8 252.2h1.2v1.2h-1.2zM79.3 248.2h1.2v1.2h-1.2zM79.7 255.2h1.2v1.2h-1.2zM82.7 252.6h1.2v1.2h-1.2zM82.5 247.8h1.2v1.2h-1.2zM77.8 256.0h1.2v1.2h-1.2zM81.5 251.8h1.2v1.2h-1.2zM80.1 255.5h1.2v1.2h-1.2zM84.3 252.3h1.2v1.2h-1.2zM81.1 253.8h1.2v1.2h-1.2zM79.9 250.5h1.2v1.2h-1.2zM78.9 249.5h1.2v1.2h-1.2zM81.0 252.5h1.2v1.2h-1.2zM82.1 248.4h1.2v1.2h-1.2zM76.3 254.1h1.2v1.2h-1.2zM74.1 256.1h1.2v1.2h-1.2zM89.5 245.3h1.2v1.2h-1.2zM78.1 252.7h1.2v1.2h-1.2zM85.2 245.4h1.2v1.2h-1.2zM80.8 252.0h1.2v1.2h-1.2zM78.1 252.6h1.2v1.2h-1.2zM75.1 254.8h1.2v1.2h-1.2zM87.1 250.6h1.2v1.2h-1.2zM81.3 253.6h1.2v1.2h-1.2zM82.9 250.8h1.2v1.2h-1.2zM82.4 254.0h1.2v1.2h-1.2zM82.8 250.0h1.2v1.2h-1.2zM81.8 253.8h1.2v1.2h-1.2zM78.5 252.2h1.2v1.2h-1.2zM79.8 251.7h1.2v1.2h-1.2zM85.6 249.1h1.2v1.2h-1.2zM80.4 251.2h1.2v1.2h-1.2zM86.2 248.8h1.2v1.2h-1.2zM88.9 247.8h1.2v1.2h-1.2zM79.9 251.5h1.2v1.2h-1.2zM80.7 252.8h1.2v1.2h-1.2zM84.4 250.5h1.2v1.2h-1.2zM84.2 245.4h1.2v1.2h-1.2zM79.6 249.5h1.2v1.2h-1.2zM77.4 253.5h1.2v1.2h-1.2zM78.0 252.0h1.2v1.2h-1.2zM78.1 257.5h1.2v1.2h-1.2zM81.6 254.1h1.2v1.2h-1.2zM74.9 251.1h1.2v1.2h-1.2zM80.6 254.7h1.2v1.2h-1.2zM80.1 253.8h1.2v1.2h-1.2zM79.8 256.7h1.2v1.2h-1.2zM84.0 252.3h1.2v1.2h-1.2zM82.1 254.5h1.2v1.2h-1.2zM80.9 250.9h1.2v1.2h-1.2zM79.4 253.5h1.2v1.2h-1.2zM77.0 252.3h1.2v1.2h-1.2zM82.6 252.6h1.2v1.2h-1.2zM81.5 253.8h1.2v1.2h-1.2zM84.5 245.8h1.2v1.2h-1.2zM80.8 249.7h1.2v1.2h-1.2zM79.5 253.7h1.2v1.2h-1.2zM74.8 258.8h1.2v1.2h-1.2zM84.6 250.5h1.2v1.2h-1.2zM85.6 252.9h1.2v1.2h-1.2zM81.6 254.4h1.2v1.2h-1.2zM86.4 248.8h1.2v1.2h-1.2zM75.6 256.2h1.2v1.2h-1.2zM78.3 250.1h1.2v1.2h-1.2zM82.1 253.1h1.2v1.2h-1.2zM80.3 252.2h1.2v1.2h-1.2zM85.0 247.1h1.2v1.2h-1.2zM78.5 254.3h1.2v1.2h-1.2zM85.5 249.8h1.2v1.2h-1.2zM80.9 250.9h1.2v1.2h-1.2zM86.2 250.0h1.2v1.2h-1.2zM76.4 256.8h1.2v1.2h-1.2zM75.8 260.3h1.2v1.2h-1.2zM82.4 249.3h1.2v1.2h-1.2zM76.9 254.7h1.2v1.2h-1.2zM76.6 257.2h1.2v1.2h-1.2zM77.4 250.4h1.2v1.2h-1.2zM82.8 253.7h1.2v1.2h-1.2zM76.9 254.5h1.2v1.2h-1.2zM87.1 247.4h1.2v1.2h-1.2zM79.8 253.5h1.2v1.2h-1.2zM82.4 248.2h1.2v1.2h-1.2zM78.9 249.5h1.2v1.2h-1.2zM74.4 253.5h1.2v1.2h-1.2zM84.3 250.1h1.2v1.2h-1.2zM85.1 251.8h1.2v1.2h-1.2zM81.7 252.0h1.2v1.2h-1.2zM83.1 251.5h1.2v1.2h-1.2zM77.7 254.1h1.2v1.2h-1.2zM80.9 252.2h1.2v1.2h-1.2zM78.8 253.5h1.2v1.2h-1.2zM82.4 251.3h1.2v1.2h-1.2zM84.2 251.5h1.2v1.2h-1.2zM84.3 251.8h1.2v1.2h-1.2zM85.7 251.8h1.2v1.2h-1.2zM82.4 249.2h1.2v1.2h-1.2zM89.9 247.5h1.2v1.2h-1.2zM86.1 249.7h1.2v1.2h-1.2zM80.0 249.9h1.2v1.2h-1.2zM82.2 250.1h1.2v1.2h-1.2zM77.3 249.6h1.2v1.2h-1.2zM84.5 246.0h1.2v1.2h-1.2zM78.5 255.3h1.2v1.2h-1.2zM82.0 249.1h1.2v1.2h-1.2zM81.6 252.2h1.2v1.2h-1.2zM82.5 252.2h1.2v1.2h-1.2zM83.2 249.2h1.2v1.2h-1.2zM79.1 259.3h1.2v1.2h-1.2zM78.8 251.3h1.2v1.2h-1.2zM84.4 250.8h1.2v1.2h-1.2zM82.4 257.0h1.2v1.2h-1.2zM75.7 259.8h1.2v1.2h-1.2zM81.6 252.4h1.2v1.2h-1.2zM82.0 250.6h1.2v1.2h-1.2zM80.6 249.0h1.2v1.2h-1.2zM82.5 255.7h1.2v1.2h-1.2zM75.0 260.3h1.2v1.2h-1.2zM73.3 256.3h1.2v1.2h-1.2zM83.5 248.9h1.2v1.2h-1.2zM77.6 251.0h1.2v1.2h-1.2zM80.7 251.8h1.2v1.2h-1.2zM77.3 251.1h1.2v1.2h-1.2zM82.3 252.0h1.2v1.2h-1.2zM85.5 249.7h1.2v1.2h-1.2zM87.5 249.7h1.2v1.2h-1.2zM74.8 261.6h1.2v1.2h-1.2zM79.6 250.5h1.2v1.2h-1.2zM83.9 252.2h1.2v1.2h-1.2zM74.9 253.9h1.2v1.2h-1.2zM82.7 249.2h1.2v1.2h-1.2zM86.1 248.4h1.2v1.2h-1.2zM77.9 251.2h1.2v1.2h-1.2zM80.9 247.6h1.2v1.2h-1.2zM75.6 253.1h1.2v1.2h-1.2zM88.7 250.0h1.2v1.2h-1.2zM80.1 251.8h1.2v1.2h-1.2zM85.1 251.9h1.2v1.2h-1.2zM81.7 257.3h1.2v1.2h-1.2z" fill="#5fa838"/>
<path d="M98.8 274.8h1.0v1.0h-1.0zM87.3 274.9h1.0v1.0h-1.0zM97.4 278.2h1.0v1.0h-1.0zM96.1 267.5h1.0v1.0h-1.0zM106.9 265.6h1.0v1.0h-1.0zM97.1 267.2h1.0v1.0h-1.0zM101.9 270.4h1.0v1.0h-1.0zM96.7 270.3h1.0v1.0h-1.0zM95.0 269.8h1.0v1.0h-1.0zM93.2 277.1h1.0v1.0h-1.0zM101.2 265.3h1.0v1.0h-1.0zM93.4 274.2h1.0v1.0h-1.0zM108.9 266.5h1.0v1.0h-1.0zM96.7 270.8h1.0v1.0h-1.0zM99.5 270.0h1.0v1.0h-1.0zM104.7 272.1h1.0v1.0h-1.0zM102.8 274.8h1.0v1.0h-1.0zM96.8 269.7h1.0v1.0h-1.0zM110.4 260.1h1.0v1.0h-1.0zM88.5 266.6h1.0v1.0h-1.0zM99.0 267.2h1.0v1.0h-1.0zM101.2 262.8h1.0v1.0h-1.0zM97.4 270.1h1.0v1.0h-1.0zM94.6 276.2h1.0v1.0h-1.0zM97.1 273.0h1.0v1.0h-1.0zM96.2 272.4h1.0v1.0h-1.0zM96.5 272.0h1.0v1.0h-1.0zM97.3 269.1h1.0v1.0h-1.0zM100.4 269.7h1.0v1.0h-1.0zM92.8 269.5h1.0v1.0h-1.0zM102.0 274.3h1.0v1.0h-1.0zM91.8 272.0h1.0v1.0h-1.0zM101.8 273.4h1.0v1.0h-1.0zM100.6 266.2h1.0v1.0h-1.0zM99.7 273.6h1.0v1.0h-1.0zM99.4 269.9h1.0v1.0h-1.0zM93.1 273.5h1.0v1.0h-1.0zM98.2 271.2h1.0v1.0h-1.0zM106.9 272.0h1.0v1.0h-1.0zM95.0 273.1h1.0v1.0h-1.0zM97.1 271.8h1.0v1.0h-1.0zM107.2 271.0h1.0v1.0h-1.0zM98.0 268.9h1.0v1.0h-1.0zM98.1 272.4h1.0v1.0h-1.0zM97.4 275.2h1.0v1.0h-1.0z" fill="#d23a3a"/>
</g>
<g id="D">
<text x="179.6" y="175.9" font-size="11" text-anchor="start" font-weight="bold" font-style="normal" fill="#000">D</text>
<polyline points="203.6,376.5 209,375.5 211,368.5 212.7,366.2 213.6,357.5 215.6,344.8 220.8,353.5 221.1,376.6 240.4,376.6 246.2,369.6 248.4,361.5 249.0,256 250.0,256 250.6,330 251.9,375.8 263.8,375.8 279.4,375.6 279.6,327.2 280.6,327.2 281,373 284.6,373.5 300,377.3 340,377.5 380,377.4 410,377 414.2,376.8 416.3,359 418.8,375.6 427.3,374.5 429,375.6 433.2,375.4 433.7,290 434.7,290 435.1,374.4 436,376.2 456.1,376.2 456.4,349.5 457.2,349.5 457.6,376 466.5,375.6 470.4,364.5 476.4,377 496.4,377" fill="none" stroke="#5564a8" stroke-width="1.6" stroke-linejoin="round"/>
<circle cx="204" cy="373.7" r="2.7" fill="#2b2b45" stroke="#1e1e26" stroke-width="1.2"/>
<circle cx="210.4" cy="374.2" r="2.7" fill="#2b2b45" stroke="#1e1e26" stroke-width="1.2"/>
<circle cx="213.3" cy="374.2" r="2.7" fill="#2b2b45" stroke="#1e1e26" stroke-width="1.2"/>
<circle cx="220.2" cy="371.3" r="2.7" fill="#2b2b45" stroke="#1e1e26" stroke-width="1.2"/>
<circle cx="224" cy="372" r="2.7" fill="#2b2b45" stroke="#1e1e26" stroke-width="1.2"/>
<circle cx="227" cy="374" r="2.7" fill="#2b2b45" stroke="#1e1e26" stroke-width="1.2"/>
<circle cx="230.6" cy="365" r="2.7" fill="#2b2b45" stroke="#1e1e26" stroke-width="1.2"/>
<circle cx="231.2" cy="368.5" r="2.7" fill="#2b2b45" stroke="#1e1e26" stroke-width="1.2"/>
<circle cx="233.5" cy="359.8" r="2.7" fill="#2b2b45" stroke="#1e1e26" stroke-width="1.2"/>
<circle cx="235.2" cy="361.5" r="2.7" fill="#2b2b45" stroke="#1e1e26" stroke-width="1.2"/>
<circle cx="228" cy="376" r="2.7" fill="#2b2b45" stroke="#1e1e26" stroke-width="1.2"/>
<circle cx="232" cy="376.5" r="2.7" fill="#2b2b45" stroke="#1e1e26" stroke-width="1.2"/>
<circle cx="236" cy="375" r="2.7" fill="#2b2b45" stroke="#1e1e26" stroke-width="1.2"/>
<circle cx="240" cy="374" r="2.7" fill="#2b2b45" stroke="#1e1e26" stroke-width="1.2"/>
<circle cx="243" cy="372" r="2.7" fill="#2b2b45" stroke="#1e1e26" stroke-width="1.2"/>
<circle cx="238" cy="368" r="2.7" fill="#2b2b45" stroke="#1e1e26" stroke-width="1.2"/>
<circle cx="225" cy="376.5" r="2.7" fill="#2b2b45" stroke="#1e1e26" stroke-width="1.2"/>
<circle cx="242" cy="376" r="2.7" fill="#2b2b45" stroke="#1e1e26" stroke-width="1.2"/>
<circle cx="256.9" cy="372.7" r="2.7" fill="#2b2b45" stroke="#1e1e26" stroke-width="1.2"/>
<circle cx="265.6" cy="372.7" r="2.7" fill="#2b2b45" stroke="#1e1e26" stroke-width="1.2"/>
<circle cx="267.3" cy="369.8" r="2.7" fill="#2b2b45" stroke="#1e1e26" stroke-width="1.2"/>
<circle cx="270.8" cy="372.7" r="2.7" fill="#2b2b45" stroke="#1e1e26" stroke-width="1.2"/>
<circle cx="274.2" cy="371.3" r="2.7" fill="#2b2b45" stroke="#1e1e26" stroke-width="1.2"/>
<circle cx="276" cy="375" r="2.7" fill="#2b2b45" stroke="#1e1e26" stroke-width="1.2"/>
<circle cx="279.4" cy="371" r="2.7" fill="#2b2b45" stroke="#1e1e26" stroke-width="1.2"/>
<circle cx="281.2" cy="373.8" r="2.7" fill="#2b2b45" stroke="#1e1e26" stroke-width="1.2"/>
<circle cx="284.6" cy="374.4" r="2.7" fill="#2b2b45" stroke="#1e1e26" stroke-width="1.2"/>
<circle cx="288" cy="375" r="2.7" fill="#2b2b45" stroke="#1e1e26" stroke-width="1.2"/>
<circle cx="290.4" cy="375.6" r="2.7" fill="#2b2b45" stroke="#1e1e26" stroke-width="1.2"/>
<circle cx="293.8" cy="368.7" r="2.7" fill="#2b2b45" stroke="#1e1e26" stroke-width="1.2"/>
<circle cx="297.3" cy="369.2" r="2.7" fill="#2b2b45" stroke="#1e1e26" stroke-width="1.2"/>
<circle cx="300.8" cy="369.8" r="2.7" fill="#2b2b45" stroke="#1e1e26" stroke-width="1.2"/>
<circle cx="305.4" cy="369.2" r="2.7" fill="#2b2b45" stroke="#1e1e26" stroke-width="1.2"/>
<circle cx="308.3" cy="376.2" r="2.7" fill="#2b2b45" stroke="#1e1e26" stroke-width="1.2"/>
<circle cx="307.3" cy="369.8" r="2.7" fill="#2b2b45" stroke="#1e1e26" stroke-width="1.2"/>
<circle cx="311.9" cy="370.5" r="2.7" fill="#2b2b45" stroke="#1e1e26" stroke-width="1.2"/>
<circle cx="316.5" cy="370.5" r="2.7" fill="#2b2b45" stroke="#1e1e26" stroke-width="1.2"/>
<circle cx="321.2" cy="370.5" r="2.7" fill="#2b2b45" stroke="#1e1e26" stroke-width="1.2"/>
<circle cx="325.8" cy="371" r="2.7" fill="#2b2b45" stroke="#1e1e26" stroke-width="1.2"/>
<circle cx="330.4" cy="371" r="2.7" fill="#2b2b45" stroke="#1e1e26" stroke-width="1.2"/>
<circle cx="334.4" cy="369.5" r="2.7" fill="#2b2b45" stroke="#1e1e26" stroke-width="1.2"/>
<circle cx="335.6" cy="367.5" r="2.7" fill="#2b2b45" stroke="#1e1e26" stroke-width="1.2"/>
<circle cx="331.5" cy="374.4" r="2.7" fill="#2b2b45" stroke="#1e1e26" stroke-width="1.2"/>
<circle cx="341.9" cy="367.5" r="2.7" fill="#2b2b45" stroke="#1e1e26" stroke-width="1.2"/>
<circle cx="344.2" cy="370.4" r="2.7" fill="#2b2b45" stroke="#1e1e26" stroke-width="1.2"/>
<circle cx="346.5" cy="372.1" r="2.7" fill="#2b2b45" stroke="#1e1e26" stroke-width="1.2"/>
<circle cx="351.2" cy="371" r="2.7" fill="#2b2b45" stroke="#1e1e26" stroke-width="1.2"/>
<circle cx="352.3" cy="372.7" r="2.7" fill="#2b2b45" stroke="#1e1e26" stroke-width="1.2"/>
<circle cx="358.7" cy="369.8" r="2.7" fill="#2b2b45" stroke="#1e1e26" stroke-width="1.2"/>
<circle cx="362.7" cy="371.5" r="2.7" fill="#2b2b45" stroke="#1e1e26" stroke-width="1.2"/>
<circle cx="361.7" cy="370.6" r="2.7" fill="#2b2b45" stroke="#1e1e26" stroke-width="1.2"/>
<circle cx="364.6" cy="371.2" r="2.7" fill="#2b2b45" stroke="#1e1e26" stroke-width="1.2"/>
<circle cx="369.8" cy="366.5" r="2.7" fill="#2b2b45" stroke="#1e1e26" stroke-width="1.2"/>
<circle cx="375.6" cy="374.6" r="2.7" fill="#2b2b45" stroke="#1e1e26" stroke-width="1.2"/>
<circle cx="381.3" cy="375.8" r="2.7" fill="#2b2b45" stroke="#1e1e26" stroke-width="1.2"/>
<circle cx="384.8" cy="374.6" r="2.7" fill="#2b2b45" stroke="#1e1e26" stroke-width="1.2"/>
<circle cx="388.8" cy="373.5" r="2.7" fill="#2b2b45" stroke="#1e1e26" stroke-width="1.2"/>
<circle cx="392.3" cy="374.6" r="2.7" fill="#2b2b45" stroke="#1e1e26" stroke-width="1.2"/>
<circle cx="400.4" cy="371.2" r="2.7" fill="#2b2b45" stroke="#1e1e26" stroke-width="1.2"/>
<circle cx="404.4" cy="374" r="2.7" fill="#2b2b45" stroke="#1e1e26" stroke-width="1.2"/>
<circle cx="408.5" cy="376.3" r="2.7" fill="#2b2b45" stroke="#1e1e26" stroke-width="1.2"/>
<circle cx="412.3" cy="373.7" r="2.7" fill="#2b2b45" stroke="#1e1e26" stroke-width="1.2"/>
<circle cx="415.8" cy="374.2" r="2.7" fill="#2b2b45" stroke="#1e1e26" stroke-width="1.2"/>
<circle cx="413.1" cy="375.2" r="2.7" fill="#2b2b45" stroke="#1e1e26" stroke-width="1.2"/>
<circle cx="437.7" cy="361.5" r="2.7" fill="#2b2b45" stroke="#1e1e26" stroke-width="1.2"/>
<circle cx="441.2" cy="359.2" r="2.7" fill="#2b2b45" stroke="#1e1e26" stroke-width="1.2"/>
<circle cx="444" cy="358.1" r="2.7" fill="#2b2b45" stroke="#1e1e26" stroke-width="1.2"/>
<circle cx="440.6" cy="365.6" r="2.7" fill="#2b2b45" stroke="#1e1e26" stroke-width="1.2"/>
<circle cx="437.7" cy="373.7" r="2.7" fill="#2b2b45" stroke="#1e1e26" stroke-width="1.2"/>
<circle cx="442.3" cy="374.2" r="2.7" fill="#2b2b45" stroke="#1e1e26" stroke-width="1.2"/>
<circle cx="446.9" cy="374.8" r="2.7" fill="#2b2b45" stroke="#1e1e26" stroke-width="1.2"/>
<circle cx="451.5" cy="374.2" r="2.7" fill="#2b2b45" stroke="#1e1e26" stroke-width="1.2"/>
<circle cx="455.6" cy="372.5" r="2.7" fill="#2b2b45" stroke="#1e1e26" stroke-width="1.2"/>
<circle cx="459.6" cy="354.6" r="2.7" fill="#2b2b45" stroke="#1e1e26" stroke-width="1.2"/>
<circle cx="463.7" cy="355.8" r="2.7" fill="#2b2b45" stroke="#1e1e26" stroke-width="1.2"/>
<circle cx="462" cy="357" r="2.7" fill="#2b2b45" stroke="#1e1e26" stroke-width="1.2"/>
<circle cx="472.2" cy="354.3" r="2.7" fill="#2b2b45" stroke="#1e1e26" stroke-width="1.2"/>
<circle cx="476" cy="353" r="2.7" fill="#2b2b45" stroke="#1e1e26" stroke-width="1.2"/>
<circle cx="481.3" cy="351.9" r="2.7" fill="#2b2b45" stroke="#1e1e26" stroke-width="1.2"/>
<circle cx="485" cy="354" r="2.7" fill="#2b2b45" stroke="#1e1e26" stroke-width="1.2"/>
<circle cx="489" cy="355" r="2.7" fill="#2b2b45" stroke="#1e1e26" stroke-width="1.2"/>
<circle cx="492.5" cy="356" r="2.7" fill="#2b2b45" stroke="#1e1e26" stroke-width="1.2"/>
<circle cx="470" cy="358" r="2.7" fill="#2b2b45" stroke="#1e1e26" stroke-width="1.2"/>
<circle cx="474" cy="360" r="2.7" fill="#2b2b45" stroke="#1e1e26" stroke-width="1.2"/>
<circle cx="478" cy="358.5" r="2.7" fill="#2b2b45" stroke="#1e1e26" stroke-width="1.2"/>
<circle cx="483" cy="359" r="2.7" fill="#2b2b45" stroke="#1e1e26" stroke-width="1.2"/>
<circle cx="487" cy="360" r="2.7" fill="#2b2b45" stroke="#1e1e26" stroke-width="1.2"/>
<circle cx="491" cy="360.5" r="2.7" fill="#2b2b45" stroke="#1e1e26" stroke-width="1.2"/>
<circle cx="494" cy="359" r="2.7" fill="#2b2b45" stroke="#1e1e26" stroke-width="1.2"/>
<circle cx="472" cy="363" r="2.7" fill="#2b2b45" stroke="#1e1e26" stroke-width="1.2"/>
<circle cx="477" cy="362.5" r="2.7" fill="#2b2b45" stroke="#1e1e26" stroke-width="1.2"/>
<circle cx="481" cy="363" r="2.7" fill="#2b2b45" stroke="#1e1e26" stroke-width="1.2"/>
<circle cx="486" cy="363.5" r="2.7" fill="#2b2b45" stroke="#1e1e26" stroke-width="1.2"/>
<circle cx="490" cy="364" r="2.7" fill="#2b2b45" stroke="#1e1e26" stroke-width="1.2"/>
<circle cx="474" cy="371.3" r="2.7" fill="#2b2b45" stroke="#1e1e26" stroke-width="1.2"/>
<circle cx="489.8" cy="368.3" r="2.7" fill="#2b2b45" stroke="#1e1e26" stroke-width="1.2"/>
<circle cx="231.17853995397093" cy="372.7580652816842" r="2.7" fill="#2b2b45" stroke="#1e1e26" stroke-width="1.2"/>
<circle cx="241.79473814053392" cy="371.9580255958481" r="2.7" fill="#2b2b45" stroke="#1e1e26" stroke-width="1.2"/>
<circle cx="232.4264286439011" cy="372.9927710452241" r="2.7" fill="#2b2b45" stroke="#1e1e26" stroke-width="1.2"/>
<circle cx="225.15485773673473" cy="372.3512234318554" r="2.7" fill="#2b2b45" stroke="#1e1e26" stroke-width="1.2"/>
<circle cx="235.17236120487803" cy="374.7403034164196" r="2.7" fill="#2b2b45" stroke="#1e1e26" stroke-width="1.2"/>
<circle cx="223.11777776515743" cy="370.5789107323085" r="2.7" fill="#2b2b45" stroke="#1e1e26" stroke-width="1.2"/>
<circle cx="223.0400870935664" cy="374.88197854212103" r="2.7" fill="#2b2b45" stroke="#1e1e26" stroke-width="1.2"/>
<circle cx="236.6023658571779" cy="368.3559828591437" r="2.7" fill="#2b2b45" stroke="#1e1e26" stroke-width="1.2"/>
<circle cx="243.0993519679725" cy="376.2004411395673" r="2.7" fill="#2b2b45" stroke="#1e1e26" stroke-width="1.2"/>
<circle cx="235.7132570045114" cy="373.23228298891786" r="2.7" fill="#2b2b45" stroke="#1e1e26" stroke-width="1.2"/>
<circle cx="224.54361714065365" cy="368.12750626407166" r="2.7" fill="#2b2b45" stroke="#1e1e26" stroke-width="1.2"/>
<circle cx="232.88857848883578" cy="368.50618439393526" r="2.7" fill="#2b2b45" stroke="#1e1e26" stroke-width="1.2"/>
<circle cx="225.2796859129534" cy="370.05651561615434" r="2.7" fill="#2b2b45" stroke="#1e1e26" stroke-width="1.2"/>
<circle cx="221.67685825755774" cy="371.9434429203979" r="2.7" fill="#2b2b45" stroke="#1e1e26" stroke-width="1.2"/>
<circle cx="230.9119501247748" cy="375.16063059240753" r="2.7" fill="#2b2b45" stroke="#1e1e26" stroke-width="1.2"/>
<circle cx="232.68029258219173" cy="373.442479517313" r="2.7" fill="#2b2b45" stroke="#1e1e26" stroke-width="1.2"/>
<circle cx="232.2448959246528" cy="373.63082102106813" r="2.7" fill="#2b2b45" stroke="#1e1e26" stroke-width="1.2"/>
<circle cx="231.28992233599004" cy="370.364384647143" r="2.7" fill="#2b2b45" stroke="#1e1e26" stroke-width="1.2"/>
<circle cx="243.4472645104194" cy="376.4633789540777" r="2.7" fill="#2b2b45" stroke="#1e1e26" stroke-width="1.2"/>
<circle cx="239.9048498635894" cy="374.0163817827326" r="2.7" fill="#2b2b45" stroke="#1e1e26" stroke-width="1.2"/>
<circle cx="228.09373738284987" cy="369.9521601636672" r="2.7" fill="#2b2b45" stroke="#1e1e26" stroke-width="1.2"/>
<circle cx="227.50339881456955" cy="368.5968997462594" r="2.7" fill="#2b2b45" stroke="#1e1e26" stroke-width="1.2"/>
<circle cx="238.24147744423416" cy="371.4033983418072" r="2.7" fill="#2b2b45" stroke="#1e1e26" stroke-width="1.2"/>
<circle cx="240.04813149232652" cy="371.28536501950043" r="2.7" fill="#2b2b45" stroke="#1e1e26" stroke-width="1.2"/>
<circle cx="242.5559536246958" cy="375.2021330730738" r="2.7" fill="#2b2b45" stroke="#1e1e26" stroke-width="1.2"/>
<circle cx="221.01226108375033" cy="369.7825980252017" r="2.7" fill="#2b2b45" stroke="#1e1e26" stroke-width="1.2"/>
<circle cx="241.48111838234408" cy="371.99489184611616" r="2.7" fill="#2b2b45" stroke="#1e1e26" stroke-width="1.2"/>
<circle cx="243.05807617642157" cy="371.3781072986739" r="2.7" fill="#2b2b45" stroke="#1e1e26" stroke-width="1.2"/>
<circle cx="222.6433627362582" cy="373.3503667539892" r="2.7" fill="#2b2b45" stroke="#1e1e26" stroke-width="1.2"/>
<circle cx="238.51649432022464" cy="370.2930924882262" r="2.7" fill="#2b2b45" stroke="#1e1e26" stroke-width="1.2"/>
<circle cx="222.96074446292383" cy="370.82697781643844" r="2.7" fill="#2b2b45" stroke="#1e1e26" stroke-width="1.2"/>
<circle cx="242.6917148733597" cy="374.44334439444697" r="2.7" fill="#2b2b45" stroke="#1e1e26" stroke-width="1.2"/>
<circle cx="223.65481278693989" cy="370.0942975655916" r="2.7" fill="#2b2b45" stroke="#1e1e26" stroke-width="1.2"/>
<circle cx="223.27354195152586" cy="368.50909392499915" r="2.7" fill="#2b2b45" stroke="#1e1e26" stroke-width="1.2"/>
<circle cx="238.93298401648943" cy="369.51026408968613" r="2.7" fill="#2b2b45" stroke="#1e1e26" stroke-width="1.2"/>
<circle cx="233.5841406862339" cy="371.8031114587587" r="2.7" fill="#2b2b45" stroke="#1e1e26" stroke-width="1.2"/>
<circle cx="475.671768174614" cy="359.4529950492863" r="2.7" fill="#2b2b45" stroke="#1e1e26" stroke-width="1.2"/>
<circle cx="474.2086935510572" cy="358.6152936752561" r="2.7" fill="#2b2b45" stroke="#1e1e26" stroke-width="1.2"/>
<circle cx="473.85444569717276" cy="356.497178363841" r="2.7" fill="#2b2b45" stroke="#1e1e26" stroke-width="1.2"/>
<circle cx="476.2152089887227" cy="355.0630522833107" r="2.7" fill="#2b2b45" stroke="#1e1e26" stroke-width="1.2"/>
<circle cx="494.7877618773579" cy="360.13240927927967" r="2.7" fill="#2b2b45" stroke="#1e1e26" stroke-width="1.2"/>
<circle cx="478.45155617183923" cy="360.90621857111523" r="2.7" fill="#2b2b45" stroke="#1e1e26" stroke-width="1.2"/>
<circle cx="476.16240042514374" cy="356.24560905218453" r="2.7" fill="#2b2b45" stroke="#1e1e26" stroke-width="1.2"/>
<circle cx="491.93223409168013" cy="358.59743873760937" r="2.7" fill="#2b2b45" stroke="#1e1e26" stroke-width="1.2"/>
<circle cx="473.4581524285051" cy="361.8983661263466" r="2.7" fill="#2b2b45" stroke="#1e1e26" stroke-width="1.2"/>
<circle cx="476.2244625301493" cy="354.9536367996854" r="2.7" fill="#2b2b45" stroke="#1e1e26" stroke-width="1.2"/>
<circle cx="489.9308973994342" cy="355.6250765427034" r="2.7" fill="#2b2b45" stroke="#1e1e26" stroke-width="1.2"/>
<circle cx="478.2599566836742" cy="353.19728625719006" r="2.7" fill="#2b2b45" stroke="#1e1e26" stroke-width="1.2"/>
<circle cx="473.2078707375673" cy="358.0359805825917" r="2.7" fill="#2b2b45" stroke="#1e1e26" stroke-width="1.2"/>
<circle cx="476.9538165433703" cy="358.2121965140284" r="2.7" fill="#2b2b45" stroke="#1e1e26" stroke-width="1.2"/>
<circle cx="480.10674914153407" cy="356.8054769948766" r="2.7" fill="#2b2b45" stroke="#1e1e26" stroke-width="1.2"/>
<circle cx="494.49879947593917" cy="357.09538306599416" r="2.7" fill="#2b2b45" stroke="#1e1e26" stroke-width="1.2"/>
<circle cx="485.0769955130337" cy="360.7319938441211" r="2.7" fill="#2b2b45" stroke="#1e1e26" stroke-width="1.2"/>
<circle cx="475.4792790365778" cy="353.96428552979756" r="2.7" fill="#2b2b45" stroke="#1e1e26" stroke-width="1.2"/>
<circle cx="493.2563814080908" cy="360.26911851986665" r="2.7" fill="#2b2b45" stroke="#1e1e26" stroke-width="1.2"/>
<circle cx="477.1127148775166" cy="354.30310632665095" r="2.7" fill="#2b2b45" stroke="#1e1e26" stroke-width="1.2"/>
<circle cx="489.11589755050795" cy="361.43384651290137" r="2.7" fill="#2b2b45" stroke="#1e1e26" stroke-width="1.2"/>
<circle cx="475.81644998737323" cy="361.52629059693214" r="2.7" fill="#2b2b45" stroke="#1e1e26" stroke-width="1.2"/>
<circle cx="492.6136489795271" cy="358.2335750404427" r="2.7" fill="#2b2b45" stroke="#1e1e26" stroke-width="1.2"/>
<circle cx="481.32570198671027" cy="353.486476972967" r="2.7" fill="#2b2b45" stroke="#1e1e26" stroke-width="1.2"/>
<circle cx="471.9480635564977" cy="361.6454743588283" r="2.7" fill="#2b2b45" stroke="#1e1e26" stroke-width="1.2"/>
<circle cx="476.8409762205616" cy="359.1935048753046" r="2.7" fill="#2b2b45" stroke="#1e1e26" stroke-width="1.2"/>
<circle cx="477.29604425884764" cy="360.3253195441948" r="2.7" fill="#2b2b45" stroke="#1e1e26" stroke-width="1.2"/>
<circle cx="485.6134245099834" cy="355.287635791605" r="2.7" fill="#2b2b45" stroke="#1e1e26" stroke-width="1.2"/>
<circle cx="475.29811822076357" cy="359.34335661145445" r="2.7" fill="#2b2b45" stroke="#1e1e26" stroke-width="1.2"/>
<circle cx="472.68501504210235" cy="354.6697652045887" r="2.7" fill="#2b2b45" stroke="#1e1e26" stroke-width="1.2"/>
<circle cx="484.7044753991882" cy="360.59779881574786" r="2.7" fill="#2b2b45" stroke="#1e1e26" stroke-width="1.2"/>
<circle cx="486.05042388525925" cy="355.1620842294231" r="2.7" fill="#2b2b45" stroke="#1e1e26" stroke-width="1.2"/>
<circle cx="493.4753243730681" cy="354.437799354012" r="2.7" fill="#2b2b45" stroke="#1e1e26" stroke-width="1.2"/>
<circle cx="471.4060824304393" cy="355.057342316274" r="2.7" fill="#2b2b45" stroke="#1e1e26" stroke-width="1.2"/>
<circle cx="481.9197852395629" cy="353.0743279713592" r="2.7" fill="#2b2b45" stroke="#1e1e26" stroke-width="1.2"/>
<circle cx="475.318217496634" cy="356.0034610185365" r="2.7" fill="#2b2b45" stroke="#1e1e26" stroke-width="1.2"/>
<circle cx="473.4" cy="371.8" r="2.7" fill="#2b2b45" stroke="#1e1e26" stroke-width="1.2"/>
<circle cx="473.9" cy="374.3" r="2.7" fill="#2b2b45" stroke="#1e1e26" stroke-width="1.2"/>
<circle cx="479.8" cy="375.7" r="2.7" fill="#2b2b45" stroke="#1e1e26" stroke-width="1.2"/>
<circle cx="484.8" cy="374.8" r="2.7" fill="#2b2b45" stroke="#1e1e26" stroke-width="1.2"/>
<circle cx="494.2" cy="375.7" r="2.7" fill="#2b2b45" stroke="#1e1e26" stroke-width="1.2"/>
<circle cx="486.8" cy="376.7" r="2.7" fill="#2b2b45" stroke="#1e1e26" stroke-width="1.2"/>
<circle cx="490.5" cy="375.5" r="2.7" fill="#2b2b45" stroke="#1e1e26" stroke-width="1.2"/>
<circle cx="281.4" cy="346.2" r="2.7" fill="#aad4ef" stroke="#1c2838" stroke-width="1.2"/>
<circle cx="284.3" cy="347.6" r="2.7" fill="#aad4ef" stroke="#1c2838" stroke-width="1.2"/>
<circle cx="288.7" cy="348.9" r="2.7" fill="#aad4ef" stroke="#1c2838" stroke-width="1.2"/>
<circle cx="299.8" cy="323.2" r="2.7" fill="#aad4ef" stroke="#1c2838" stroke-width="1.2"/>
<circle cx="303.5" cy="329.6" r="2.7" fill="#aad4ef" stroke="#1c2838" stroke-width="1.2"/>
<circle cx="305" cy="325.3" r="2.7" fill="#aad4ef" stroke="#1c2838" stroke-width="1.2"/>
<circle cx="307.7" cy="321.1" r="2.7" fill="#aad4ef" stroke="#1c2838" stroke-width="1.2"/>
<circle cx="310.9" cy="326.9" r="2.7" fill="#aad4ef" stroke="#1c2838" stroke-width="1.2"/>
<circle cx="313" cy="328" r="2.7" fill="#aad4ef" stroke="#1c2838" stroke-width="1.2"/>
<circle cx="316.2" cy="327.5" r="2.7" fill="#aad4ef" stroke="#1c2838" stroke-width="1.2"/>
<circle cx="318.8" cy="330.1" r="2.7" fill="#aad4ef" stroke="#1c2838" stroke-width="1.2"/>
<circle cx="319.9" cy="327.5" r="2.7" fill="#aad4ef" stroke="#1c2838" stroke-width="1.2"/>
<circle cx="322" cy="330.6" r="2.7" fill="#aad4ef" stroke="#1c2838" stroke-width="1.2"/>
<circle cx="327.8" cy="328.5" r="2.7" fill="#aad4ef" stroke="#1c2838" stroke-width="1.2"/>
<circle cx="334.7" cy="323.8" r="2.7" fill="#aad4ef" stroke="#1c2838" stroke-width="1.2"/>
<circle cx="334.2" cy="317.9" r="2.7" fill="#aad4ef" stroke="#1c2838" stroke-width="1.2"/>
<circle cx="337.9" cy="317.9" r="2.7" fill="#aad4ef" stroke="#1c2838" stroke-width="1.2"/>
<circle cx="341.6" cy="318.5" r="2.7" fill="#aad4ef" stroke="#1c2838" stroke-width="1.2"/>
<circle cx="344.2" cy="318.5" r="2.7" fill="#aad4ef" stroke="#1c2838" stroke-width="1.2"/>
<circle cx="334.2" cy="332.2" r="2.7" fill="#aad4ef" stroke="#1c2838" stroke-width="1.2"/>
<circle cx="348.4" cy="328.8" r="2.7" fill="#aad4ef" stroke="#1c2838" stroke-width="1.2"/>
<circle cx="345.7" cy="318.1" r="2.7" fill="#aad4ef" stroke="#1c2838" stroke-width="1.2"/>
<circle cx="358.7" cy="324.6" r="2.7" fill="#aad4ef" stroke="#1c2838" stroke-width="1.2"/>
<circle cx="360.2" cy="320.3" r="2.7" fill="#aad4ef" stroke="#1c2838" stroke-width="1.2"/>
<circle cx="362.3" cy="318.1" r="2.7" fill="#aad4ef" stroke="#1c2838" stroke-width="1.2"/>
<circle cx="366.6" cy="317.4" r="2.7" fill="#aad4ef" stroke="#1c2838" stroke-width="1.2"/>
<circle cx="369.5" cy="319.5" r="2.7" fill="#aad4ef" stroke="#1c2838" stroke-width="1.2"/>
<circle cx="373.9" cy="319.5" r="2.7" fill="#aad4ef" stroke="#1c2838" stroke-width="1.2"/>
<circle cx="378.5" cy="310.2" r="2.7" fill="#aad4ef" stroke="#1c2838" stroke-width="1.2"/>
<circle cx="378.9" cy="315.9" r="2.7" fill="#aad4ef" stroke="#1c2838" stroke-width="1.2"/>
<circle cx="378.2" cy="320.3" r="2.7" fill="#aad4ef" stroke="#1c2838" stroke-width="1.2"/>
<circle cx="381.1" cy="316.6" r="2.7" fill="#aad4ef" stroke="#1c2838" stroke-width="1.2"/>
<circle cx="383.2" cy="321" r="2.7" fill="#aad4ef" stroke="#1c2838" stroke-width="1.2"/>
<circle cx="386.1" cy="323.9" r="2.7" fill="#aad4ef" stroke="#1c2838" stroke-width="1.2"/>
<circle cx="386.8" cy="316.6" r="2.7" fill="#aad4ef" stroke="#1c2838" stroke-width="1.2"/>
<circle cx="389.7" cy="315.9" r="2.7" fill="#aad4ef" stroke="#1c2838" stroke-width="1.2"/>
<circle cx="391.2" cy="321.7" r="2.7" fill="#aad4ef" stroke="#1c2838" stroke-width="1.2"/>
<circle cx="393.3" cy="316.6" r="2.7" fill="#aad4ef" stroke="#1c2838" stroke-width="1.2"/>
<circle cx="394.1" cy="320.3" r="2.7" fill="#aad4ef" stroke="#1c2838" stroke-width="1.2"/>
<circle cx="396.2" cy="313" r="2.7" fill="#aad4ef" stroke="#1c2838" stroke-width="1.2"/>
<circle cx="399.1" cy="314.5" r="2.7" fill="#aad4ef" stroke="#1c2838" stroke-width="1.2"/>
<circle cx="403.4" cy="300.8" r="2.7" fill="#aad4ef" stroke="#1c2838" stroke-width="1.2"/>
<circle cx="406.3" cy="308" r="2.7" fill="#aad4ef" stroke="#1c2838" stroke-width="1.2"/>
<circle cx="408.5" cy="303.7" r="2.7" fill="#aad4ef" stroke="#1c2838" stroke-width="1.2"/>
<circle cx="412.1" cy="300.8" r="2.7" fill="#aad4ef" stroke="#1c2838" stroke-width="1.2"/>
<circle cx="413.5" cy="308" r="2.7" fill="#aad4ef" stroke="#1c2838" stroke-width="1.2"/>
<circle cx="412.8" cy="304.4" r="2.7" fill="#aad4ef" stroke="#1c2838" stroke-width="1.2"/>
<circle cx="405" cy="257.9" r="2.7" fill="#e8a325" stroke="#1e1e26" stroke-width="1.2"/>
<circle cx="403.2" cy="258.4" r="2.7" fill="#e8a325" stroke="#1e1e26" stroke-width="1.2"/>
<circle cx="401.9" cy="263.2" r="2.7" fill="#e8a325" stroke="#1e1e26" stroke-width="1.2"/>
<circle cx="401" cy="268.1" r="2.7" fill="#e8a325" stroke="#1e1e26" stroke-width="1.2"/>
<circle cx="413.4" cy="263.2" r="2.7" fill="#e8a325" stroke="#1e1e26" stroke-width="1.2"/>
<circle cx="413.8" cy="269" r="2.7" fill="#e8a325" stroke="#1e1e26" stroke-width="1.2"/>
<circle cx="407.2" cy="275.6" r="2.7" fill="#e8a325" stroke="#1e1e26" stroke-width="1.2"/>
<circle cx="409.9" cy="276.5" r="2.7" fill="#e8a325" stroke="#1e1e26" stroke-width="1.2"/>
<circle cx="414.3" cy="276" r="2.7" fill="#e8a325" stroke="#1e1e26" stroke-width="1.2"/>
<circle cx="414.3" cy="281.3" r="2.7" fill="#e8a325" stroke="#1e1e26" stroke-width="1.2"/>
<circle cx="282.6" cy="278" r="2.7" fill="#5a2226" stroke="#2a1618" stroke-width="1.2"/>
<circle cx="283.6" cy="275.4" r="2.7" fill="#5a2226" stroke="#2a1618" stroke-width="1.2"/>
<circle cx="285.6" cy="274.1" r="2.7" fill="#5a2226" stroke="#2a1618" stroke-width="1.2"/>
<circle cx="286.6" cy="276.6" r="2.7" fill="#5a2226" stroke="#2a1618" stroke-width="1.2"/>
<circle cx="284.4" cy="279.6" r="2.7" fill="#5a2226" stroke="#2a1618" stroke-width="1.2"/>
<circle cx="283.2" cy="277.2" r="2.7" fill="#5a2226" stroke="#2a1618" stroke-width="1.2"/>
<circle cx="285.2" cy="276.5" r="2.7" fill="#5a2226" stroke="#2a1618" stroke-width="1.2"/>
<circle cx="289.5" cy="278.5" r="2.7" fill="#bf2228" stroke="#2a1618" stroke-width="1.2"/>
<circle cx="326" cy="240.5" r="2.7" fill="#bf2228" stroke="#2a1618" stroke-width="1.2"/>
<circle cx="330" cy="241.2" r="2.7" fill="#bf2228" stroke="#2a1618" stroke-width="1.2"/>
<circle cx="336" cy="239.5" r="2.7" fill="#bf2228" stroke="#2a1618" stroke-width="1.2"/>
<circle cx="339.5" cy="238.2" r="2.7" fill="#bf2228" stroke="#2a1618" stroke-width="1.2"/>
<circle cx="344.5" cy="239.5" r="2.7" fill="#bf2228" stroke="#2a1618" stroke-width="1.2"/>
<circle cx="308.5" cy="241.5" r="2.7" fill="#bf2228" stroke="#2a1618" stroke-width="1.2"/>
<circle cx="313" cy="242.2" r="2.7" fill="#bf2228" stroke="#2a1618" stroke-width="1.2"/>
<circle cx="305" cy="243.5" r="2.7" fill="#bf2228" stroke="#2a1618" stroke-width="1.2"/>
<circle cx="317.5" cy="243" r="2.7" fill="#bf2228" stroke="#2a1618" stroke-width="1.2"/>
<circle cx="292.4" cy="223.9" r="2.7" fill="#bf2228" stroke="#2a1618" stroke-width="1.2"/>
<circle cx="291.6" cy="228.6" r="2.7" fill="#bf2228" stroke="#2a1618" stroke-width="1.2"/>
<circle cx="295.5" cy="230.1" r="2.7" fill="#bf2228" stroke="#2a1618" stroke-width="1.2"/>
<circle cx="291.6" cy="232.4" r="2.7" fill="#bf2228" stroke="#2a1618" stroke-width="1.2"/>
<circle cx="292.4" cy="236.3" r="2.7" fill="#bf2228" stroke="#2a1618" stroke-width="1.2"/>
<circle cx="298.6" cy="246.3" r="2.7" fill="#bf2228" stroke="#2a1618" stroke-width="1.2"/>
<circle cx="301.7" cy="247.1" r="2.7" fill="#bf2228" stroke="#2a1618" stroke-width="1.2"/>
<circle cx="300.9" cy="241.7" r="2.7" fill="#bf2228" stroke="#2a1618" stroke-width="1.2"/>
<circle cx="303.2" cy="240.2" r="2.7" fill="#bf2228" stroke="#2a1618" stroke-width="1.2"/>
<circle cx="307" cy="238.6" r="2.7" fill="#bf2228" stroke="#2a1618" stroke-width="1.2"/>
<circle cx="311.7" cy="240.9" r="2.7" fill="#bf2228" stroke="#2a1618" stroke-width="1.2"/>
<circle cx="315.6" cy="240.9" r="2.7" fill="#bf2228" stroke="#2a1618" stroke-width="1.2"/>
<circle cx="319.4" cy="244.8" r="2.7" fill="#bf2228" stroke="#2a1618" stroke-width="1.2"/>
<circle cx="322.5" cy="240.2" r="2.7" fill="#bf2228" stroke="#2a1618" stroke-width="1.2"/>
<circle cx="324.8" cy="243.2" r="2.7" fill="#bf2228" stroke="#2a1618" stroke-width="1.2"/>
<circle cx="327.9" cy="237.8" r="2.7" fill="#bf2228" stroke="#2a1618" stroke-width="1.2"/>
<circle cx="333.3" cy="244" r="2.7" fill="#bf2228" stroke="#2a1618" stroke-width="1.2"/>
<circle cx="334.1" cy="237" r="2.7" fill="#bf2228" stroke="#2a1618" stroke-width="1.2"/>
<circle cx="338" cy="236.3" r="2.7" fill="#bf2228" stroke="#2a1618" stroke-width="1.2"/>
<circle cx="340.3" cy="240.2" r="2.7" fill="#bf2228" stroke="#2a1618" stroke-width="1.2"/>
<circle cx="343.4" cy="237" r="2.7" fill="#bf2228" stroke="#2a1618" stroke-width="1.2"/>
<circle cx="348.8" cy="236.3" r="2.7" fill="#bf2228" stroke="#2a1618" stroke-width="1.2"/>
<circle cx="349.5" cy="228.6" r="2.7" fill="#bf2228" stroke="#2a1618" stroke-width="1.2"/>
<circle cx="342.3" cy="236.3" r="2.7" fill="#bf2228" stroke="#2a1618" stroke-width="1.2"/>
<circle cx="340" cy="239.4" r="2.7" fill="#bf2228" stroke="#2a1618" stroke-width="1.2"/>
<circle cx="350" cy="236.3" r="2.7" fill="#bf2228" stroke="#2a1618" stroke-width="1.2"/>
<circle cx="351.6" cy="227.8" r="2.7" fill="#bf2228" stroke="#2a1618" stroke-width="1.2"/>
<circle cx="353.1" cy="232.5" r="2.7" fill="#bf2228" stroke="#2a1618" stroke-width="1.2"/>
<circle cx="360" cy="234" r="2.7" fill="#bf2228" stroke="#2a1618" stroke-width="1.2"/>
<circle cx="362.4" cy="237.1" r="2.7" fill="#bf2228" stroke="#2a1618" stroke-width="1.2"/>
<circle cx="364.7" cy="233.2" r="2.7" fill="#bf2228" stroke="#2a1618" stroke-width="1.2"/>
<circle cx="367.8" cy="228.3" r="2.7" fill="#bf2228" stroke="#2a1618" stroke-width="1.2"/>
<circle cx="380.5" cy="212.1" r="2.7" fill="#bf2228" stroke="#2a1618" stroke-width="1.2"/>
<circle cx="381.7" cy="224.7" r="2.7" fill="#bf2228" stroke="#2a1618" stroke-width="1.2"/>
<circle cx="385.6" cy="227.1" r="2.7" fill="#bf2228" stroke="#2a1618" stroke-width="1.2"/>
<circle cx="395.6" cy="218.1" r="2.7" fill="#bf2228" stroke="#2a1618" stroke-width="1.2"/>
<circle cx="397.1" cy="222.4" r="2.7" fill="#bf2228" stroke="#2a1618" stroke-width="1.2"/>
<circle cx="387.1" cy="236" r="2.7" fill="#bf2228" stroke="#2a1618" stroke-width="1.2"/>
<circle cx="391.7" cy="233.6" r="2.7" fill="#bf2228" stroke="#2a1618" stroke-width="1.2"/>
<circle cx="318.3" cy="256.4" r="2.7" fill="#bf2228" stroke="#2a1618" stroke-width="1.2"/>
<circle cx="327.1" cy="265.6" r="2.7" fill="#bf2228" stroke="#2a1618" stroke-width="1.2"/>
<circle cx="380.2" cy="228.6" r="2.7" fill="#bf2228" stroke="#2a1618" stroke-width="1.2"/>
<polygon points="396.3,196.8 399.8,200.3 396.3,203.8 392.8,200.3" fill="#383c68" stroke="#1c1c2a" stroke-width="0.8"/>
<line x1="399" y1="201.3" x2="411.3" y2="206.1" stroke="#222" stroke-width="1"/>
<line x1="383" y1="226" x2="424.4" y2="235.6" stroke="#222" stroke-width="1"/>
<text x="413" y="208.2" font-size="10.5" text-anchor="start" font-weight="normal" font-style="normal" fill="#000" textLength="63.5" lengthAdjust="spacingAndGlyphs">Top: rs11047903</text>
<text x="433.2" y="233.8" font-size="10.5" text-anchor="start" font-weight="normal" font-style="normal" fill="#000" textLength="43.3" lengthAdjust="spacingAndGlyphs">rs17473423</text>
<text x="427.7" y="242.9" font-size="7.5" text-anchor="start" font-weight="normal" font-style="normal" fill="#000" textLength="60.8" lengthAdjust="spacingAndGlyphs">(Detected in GWAS)</text>
<rect x="203.6" y="173.6" width="292.79999999999995" height="214.00000000000003" fill="none" stroke="#6a6a6a" stroke-width="1.2"/>
<text x="213.1" y="190.6" font-size="10.4" text-anchor="start" font-weight="normal" font-style="normal" fill="#000" textLength="154.4" lengthAdjust="spacingAndGlyphs">Locally imputed by 1000 Genomes data</text>
<rect x="212.7" y="200.4" width="25" height="58.7" fill="#fff" stroke="#555" stroke-width="1"/>
<rect x="216.4" y="210.7" width="5.4" height="8.4" fill="#d4262c" stroke="#333" stroke-width="0.5"/>
<rect x="216.4" y="219.7" width="5.4" height="8.2" fill="#e6a62e" stroke="#333" stroke-width="0.5"/>
<rect x="216.4" y="228.5" width="5.4" height="7.9" fill="#78b43c" stroke="#333" stroke-width="0.5"/>
<rect x="216.4" y="237.0" width="5.4" height="8.7" fill="#a8d4ee" stroke="#333" stroke-width="0.5"/>
<rect x="216.4" y="246.3" width="5.4" height="8.6" fill="#2b2c5a" stroke="#333" stroke-width="0.5"/>
<line x1="222" y1="219.4" x2="224.6" y2="219.4" stroke="#222" stroke-width="0.8"/>
<text x="225" y="222.6" font-size="9" text-anchor="start" font-weight="normal" font-style="normal" fill="#000" textLength="11" lengthAdjust="spacingAndGlyphs">0.8</text>
<line x1="222" y1="228.2" x2="224.6" y2="228.2" stroke="#222" stroke-width="0.8"/>
<text x="225" y="231.39999999999998" font-size="9" text-anchor="start" font-weight="normal" font-style="normal" fill="#000" textLength="11" lengthAdjust="spacingAndGlyphs">0.6</text>
<line x1="222" y1="236.7" x2="224.6" y2="236.7" stroke="#222" stroke-width="0.8"/>
<text x="225" y="239.89999999999998" font-size="9" text-anchor="start" font-weight="normal" font-style="normal" fill="#000" textLength="11" lengthAdjust="spacingAndGlyphs">0.4</text>
<line x1="222" y1="246" x2="224.6" y2="246" stroke="#222" stroke-width="0.8"/>
<text x="225" y="249.2" font-size="9" text-anchor="start" font-weight="normal" font-style="normal" fill="#000" textLength="11" lengthAdjust="spacingAndGlyphs">0.2</text>
<text x="225.6" y="209.2" font-size="7.5" text-anchor="start" font-weight="normal" font-style="italic" fill="#000">r</text>
<text x="228.2" y="206" font-size="4.5" text-anchor="start" font-weight="normal" font-style="normal" fill="#000">2</text>
<line x1="200.2" y1="188.0" x2="203.6" y2="188.0" stroke="#444" stroke-width="0.8"/>
<text x="199.9" y="190.7" font-size="7.6" text-anchor="end" font-weight="normal" font-style="normal" fill="#000" textLength="6.6" lengthAdjust="spacingAndGlyphs">15</text>
<line x1="200.2" y1="251.25" x2="203.6" y2="251.25" stroke="#444" stroke-width="0.8"/>
<text x="199.9" y="253.95" font-size="7.6" text-anchor="end" font-weight="normal" font-style="normal" fill="#000" textLength="6.6" lengthAdjust="spacingAndGlyphs">10</text>
<line x1="200.2" y1="314.5" x2="203.6" y2="314.5" stroke="#444" stroke-width="0.8"/>
<text x="199.9" y="317.2" font-size="7.6" text-anchor="end" font-weight="normal" font-style="normal" fill="#000" textLength="3.3" lengthAdjust="spacingAndGlyphs">5</text>
<line x1="200.2" y1="377.75" x2="203.6" y2="377.75" stroke="#444" stroke-width="0.8"/>
<text x="199.9" y="380.45" font-size="7.6" text-anchor="end" font-weight="normal" font-style="normal" fill="#000" textLength="3.3" lengthAdjust="spacingAndGlyphs">0</text>
<text transform="translate(190.8,284) rotate(-90)" font-size="8.6" text-anchor="middle" textLength="53" lengthAdjust="spacingAndGlyphs">- log<tspan font-size="5.2" dy="1.8">10</tspan><tspan dy="-1.8" font-style="italic">P</tspan>-value</text>
<line x1="496.4" y1="377.3" x2="500" y2="377.3" stroke="#666" stroke-width="0.8"/>
<text x="500.0" y="380.2" font-size="8.3" text-anchor="start" font-weight="normal" font-style="normal" fill="#444" stroke="#444" textLength="3.0" lengthAdjust="spacingAndGlyphs">0</text>
<line x1="496.4" y1="338.6" x2="500" y2="338.6" stroke="#666" stroke-width="0.8"/>
<text x="500.0" y="341.5" font-size="8.3" text-anchor="start" font-weight="normal" font-style="normal" fill="#444" stroke="#444" textLength="6.9" lengthAdjust="spacingAndGlyphs">20</text>
<line x1="496.4" y1="299.9" x2="500" y2="299.9" stroke="#666" stroke-width="0.8"/>
<text x="500.0" y="302.79999999999995" font-size="8.3" text-anchor="start" font-weight="normal" font-style="normal" fill="#444" stroke="#444" textLength="6.9" lengthAdjust="spacingAndGlyphs">40</text>
<line x1="496.4" y1="261.2" x2="500" y2="261.2" stroke="#666" stroke-width="0.8"/>
<text x="500.0" y="264.09999999999997" font-size="8.3" text-anchor="start" font-weight="normal" font-style="normal" fill="#444" stroke="#444" textLength="6.9" lengthAdjust="spacingAndGlyphs">60</text>
<line x1="496.4" y1="222.5" x2="500" y2="222.5" stroke="#666" stroke-width="0.8"/>
<text x="500.0" y="225.4" font-size="8.3" text-anchor="start" font-weight="normal" font-style="normal" fill="#444" stroke="#444" textLength="6.9" lengthAdjust="spacingAndGlyphs">80</text>
<line x1="496.4" y1="183.8" x2="500" y2="183.8" stroke="#666" stroke-width="0.8"/>
<text x="500.0" y="186.70000000000002" font-size="8.3" text-anchor="start" font-weight="normal" font-style="normal" fill="#444" stroke="#444" textLength="10.6" lengthAdjust="spacingAndGlyphs">100</text>
<text transform="translate(512.8,290.3) rotate(90)" font-size="9.5" text-anchor="middle" fill="#484848" stroke="#484848" textLength="99.4" lengthAdjust="spacingAndGlyphs">Recombination rate (cM/Mb)</text>
<rect x="203.6" y="389.8" width="292.4" height="32.8" fill="none" stroke="#6a6a6a" stroke-width="1.2"/>
<line x1="203.8" y1="422.6" x2="203.8" y2="427.3" stroke="#444" stroke-width="1"/>
<text x="203.75" y="438.4" font-size="9.5" text-anchor="middle" font-weight="normal" font-style="normal" fill="#000" textLength="17.5" lengthAdjust="spacingAndGlyphs">25.15</text>
<line x1="245.6" y1="422.6" x2="245.6" y2="427.3" stroke="#444" stroke-width="1"/>
<text x="245.55" y="438.4" font-size="9.5" text-anchor="middle" font-weight="normal" font-style="normal" fill="#000" textLength="13.5" lengthAdjust="spacingAndGlyphs">25.2</text>
<line x1="287.4" y1="422.6" x2="287.4" y2="427.3" stroke="#444" stroke-width="1"/>
<text x="287.35" y="438.4" font-size="9.5" text-anchor="middle" font-weight="normal" font-style="normal" fill="#000" textLength="17.5" lengthAdjust="spacingAndGlyphs">25.25</text>
<line x1="329.1" y1="422.6" x2="329.1" y2="427.3" stroke="#444" stroke-width="1"/>
<text x="329.15" y="438.4" font-size="9.5" text-anchor="middle" font-weight="normal" font-style="normal" fill="#000" textLength="13.5" lengthAdjust="spacingAndGlyphs">25.3</text>
<line x1="370.9" y1="422.6" x2="370.9" y2="427.3" stroke="#444" stroke-width="1"/>
<text x="370.95" y="438.4" font-size="9.5" text-anchor="middle" font-weight="normal" font-style="normal" fill="#000" textLength="17.5" lengthAdjust="spacingAndGlyphs">25.35</text>
<line x1="412.8" y1="422.6" x2="412.8" y2="427.3" stroke="#444" stroke-width="1"/>
<text x="412.75" y="438.4" font-size="9.5" text-anchor="middle" font-weight="normal" font-style="normal" fill="#000" textLength="13.5" lengthAdjust="spacingAndGlyphs">25.4</text>
<line x1="454.5" y1="422.6" x2="454.5" y2="427.3" stroke="#444" stroke-width="1"/>
<text x="454.54999999999995" y="438.4" font-size="9.5" text-anchor="middle" font-weight="normal" font-style="normal" fill="#000" textLength="17.5" lengthAdjust="spacingAndGlyphs">25.45</text>
<line x1="496.3" y1="422.6" x2="496.3" y2="427.3" stroke="#444" stroke-width="1"/>
<text x="496.34999999999997" y="438.4" font-size="9.5" text-anchor="middle" font-weight="normal" font-style="normal" fill="#000" textLength="13.5" lengthAdjust="spacingAndGlyphs">25.5</text>
<text x="313.3" y="449.8" font-size="10.8" text-anchor="start" font-weight="normal" font-style="normal" fill="#000" textLength="82.5" lengthAdjust="spacingAndGlyphs">Position on chr12 (Mb)</text>
<line x1="249.2" y1="404.6" x2="296.8" y2="404.6" stroke="#222" stroke-width="0.8"/>
<rect x="249.2" y="403.3" width="1.3" height="2.6" fill="#222"/>
<rect x="257.7" y="403.3" width="1.3" height="2.6" fill="#222"/>
<rect x="260" y="403.3" width="1.0" height="2.6" fill="#222"/>
<rect x="262" y="403.3" width="1.5" height="2.6" fill="#222"/>
<rect x="270.7" y="403.3" width="1.2" height="2.6" fill="#222"/>
<rect x="274.9" y="403.3" width="1.2" height="2.6" fill="#222"/>
<rect x="279" y="403.3" width="2.0" height="2.6" fill="#222"/>
<rect x="286.4" y="403.3" width="1.2" height="2.6" fill="#222"/>
<rect x="290.5" y="403.3" width="1.5" height="2.6" fill="#222"/>
<rect x="293" y="403.3" width="1.0" height="2.6" fill="#222"/>
<rect x="295" y="403.3" width="1.8" height="2.6" fill="#222"/>
<text x="263.5" y="397.9" font-size="8.6" text-anchor="start" font-weight="normal" font-style="italic" fill="#000" textLength="19" lengthAdjust="spacingAndGlyphs">LRMP</text>
<line x1="270.5" y1="400.9" x2="275.5" y2="400.9" stroke="#111" stroke-width="1.3"/><polygon points="277,400.9 274.6,399.7 274.6,402.1" fill="#111"/>
<line x1="296.3" y1="416.4" x2="369.3" y2="416.4" stroke="#222" stroke-width="0.8"/>
<rect x="296.3" y="415.09999999999997" width="1.7" height="2.6" fill="#222"/>
<rect x="299" y="415.09999999999997" width="1.0" height="2.6" fill="#222"/>
<rect x="301" y="415.09999999999997" width="1.0" height="2.6" fill="#222"/>
<rect x="304" y="415.09999999999997" width="1.0" height="2.6" fill="#222"/>
<rect x="314" y="415.09999999999997" width="1.5" height="2.6" fill="#222"/>
<rect x="317" y="415.09999999999997" width="1.0" height="2.6" fill="#222"/>
<rect x="319.5" y="415.09999999999997" width="1.0" height="2.6" fill="#222"/>
<rect x="322.5" y="415.09999999999997" width="1.0" height="2.6" fill="#222"/>
<rect x="332" y="415.09999999999997" width="1.0" height="2.6" fill="#222"/>
<rect x="350" y="415.09999999999997" width="1.0" height="2.6" fill="#222"/>
<rect x="355" y="415.09999999999997" width="1.0" height="2.6" fill="#222"/>
<rect x="359" y="415.09999999999997" width="1.0" height="2.6" fill="#222"/>
<text x="327" y="414.3" font-size="8.6" text-anchor="start" font-weight="normal" font-style="italic" fill="#000" textLength="21.2" lengthAdjust="spacingAndGlyphs">CASC1</text>
<line x1="321.5" y1="412" x2="326" y2="412" stroke="#111" stroke-width="1.3"/><polygon points="319.8,412 323,410.2 323,413.8" fill="#111"/>
<line x1="368.7" y1="405" x2="377.2" y2="405" stroke="#222" stroke-width="0.8"/>
<rect x="368.7" y="403.7" width="1.3" height="2.6" fill="#222"/>
<rect x="376" y="403.7" width="1.2" height="2.6" fill="#222"/>
<text x="364.5" y="398.2" font-size="8.6" text-anchor="start" font-weight="normal" font-style="italic" fill="#000" textLength="18.5" lengthAdjust="spacingAndGlyphs">LYRM5</text>
<line x1="369.5" y1="400.9" x2="374.5" y2="400.9" stroke="#111" stroke-width="1.3"/><polygon points="376,400.9 373.6,399.7 373.6,402.1" fill="#111"/>
<line x1="376.7" y1="416.2" x2="415" y2="416.2" stroke="#222" stroke-width="0.8"/>
<rect x="376.7" y="414.9" width="1.8" height="2.6" fill="#222"/>
<rect x="379.5" y="414.9" width="1.0" height="2.6" fill="#222"/>
<rect x="383" y="414.9" width="1.0" height="2.6" fill="#222"/>
<rect x="395" y="414.9" width="1.5" height="2.6" fill="#222"/>
<rect x="411" y="414.9" width="1.0" height="2.6" fill="#222"/>
<rect x="414" y="414.9" width="1.0" height="2.6" fill="#222"/>
<text x="392.6" y="413.7" font-size="8.6" text-anchor="start" font-weight="normal" font-style="italic" fill="#000" textLength="17" lengthAdjust="spacingAndGlyphs">KRAS</text>
<line x1="387.5" y1="412" x2="392" y2="412" stroke="#111" stroke-width="1.3"/><polygon points="385.7,412 388.9,410.2 388.9,413.8" fill="#111"/>
</g>
</svg>
</body></html>
